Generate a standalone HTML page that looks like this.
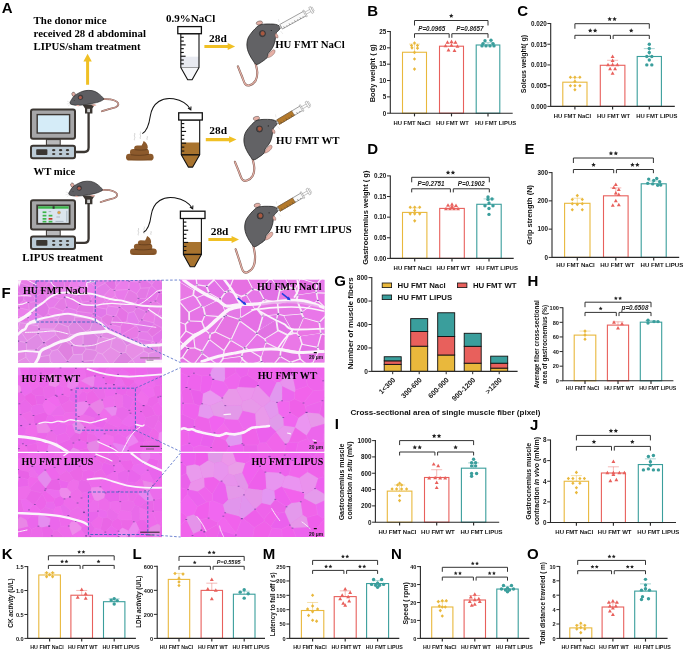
<!DOCTYPE html>
<html><head><meta charset="utf-8"><title>Figure</title>
<style>html,body{margin:0;padding:0;background:#fff;}body{width:685px;height:652px;overflow:hidden;}svg{display:block;will-change:transform;}text{font-family:"Liberation Sans",sans-serif;}</style>
</head><body>
<svg width="685" height="652" viewBox="0 0 685 652">
<rect width="685" height="652" fill="#fff"/>
<text x="1.83" y="12.90" text-anchor="start" style="font-family:'Liberation Sans', sans-serif;font-size:15.0px;font-weight:bold;" fill="#000">A</text>
<text x="33.60" y="24.00" text-anchor="start" style="font-family:'Liberation Serif', serif;font-size:10.85px;font-weight:bold;" fill="#000" textLength="72.9" lengthAdjust="spacingAndGlyphs">The donor mice</text>
<text x="33.60" y="37.20" text-anchor="start" style="font-family:'Liberation Serif', serif;font-size:10.85px;font-weight:bold;" fill="#000" textLength="112.3" lengthAdjust="spacingAndGlyphs">received 28 d abdominal</text>
<text x="33.60" y="50.40" text-anchor="start" style="font-family:'Liberation Serif', serif;font-size:10.85px;font-weight:bold;" fill="#000" textLength="107.1" lengthAdjust="spacingAndGlyphs">LIPUS/sham treatment</text>
<path d="M86.1 84.8V61.6H83.4L87.6 53.8L91.8 61.6H89.1V84.8Z" fill="#f0c024"/>
<g transform="translate(0 0.00)">
<path d="M76 152H84.2Q88.6 152 88.6 147.6V112" stroke="#3b3632" stroke-width="2.3" fill="none"/>
<path d="M82.4 104.6H94.8L92.4 108.4V113.4H85V108.4Z" fill="#3b3632"/>
<rect x="87.2" y="108.8" width="2.8" height="3.4" fill="#c9c9c9"/>
<rect x="31" y="109.4" width="44" height="29.4" rx="2" fill="#a6a6a8" stroke="#3b3632" stroke-width="2"/>
<rect x="37.2" y="114.6" width="32.4" height="18.4" fill="#d5ecf8" stroke="#3b3632" stroke-width="1.4"/>
<rect x="46.4" y="139.6" width="13.8" height="5.6" fill="#b8b8ba" stroke="#3b3632" stroke-width="1"/>
<rect x="31" y="145.8" width="44" height="12.4" rx="2" fill="#bccbd6" stroke="#3b3632" stroke-width="2"/>
<rect x="36.2" y="149.2" width="11.2" height="5.8" rx="0.8" fill="#3b3632"/>
<ellipse cx="53.7" cy="150.2" rx="1.7" ry="1.1" fill="#3b3632"/>
<ellipse cx="53.7" cy="154.0" rx="1.7" ry="1.1" fill="#3b3632"/>
<ellipse cx="60.6" cy="150.2" rx="1.7" ry="1.1" fill="#3b3632"/>
<ellipse cx="60.6" cy="154.0" rx="1.7" ry="1.1" fill="#3b3632"/>
<ellipse cx="67.5" cy="150.2" rx="1.7" ry="1.1" fill="#3b3632"/>
<ellipse cx="67.5" cy="154.0" rx="1.7" ry="1.1" fill="#3b3632"/>
</g>
<g transform="translate(0.00 0.00)">
<path d="M102.50 99.20C103.83 99.23 108.13 99.00 110.50 99.40C112.87 99.80 115.38 100.75 116.70 101.60C118.02 102.45 118.55 103.57 118.40 104.50C118.25 105.43 117.40 106.43 115.80 107.20C114.20 107.97 111.13 108.42 108.80 109.10C106.47 109.78 102.97 110.93 101.80 111.30" stroke="#7a5a52" stroke-width="1.7" fill="none" stroke-linecap="round"/>
<path d="M102.50 99.20C103.83 99.23 108.13 99.00 110.50 99.40C112.87 99.80 115.38 100.75 116.70 101.60C118.02 102.45 118.55 103.57 118.40 104.50C118.25 105.43 117.40 106.43 115.80 107.20C114.20 107.97 111.13 108.42 108.80 109.10C106.47 109.78 102.97 110.93 101.80 111.30" stroke="#e6b0a6" stroke-width="0.9" fill="none" stroke-linecap="round"/>
<ellipse cx="73.6" cy="94.3" rx="1.7" ry="2.2" transform="rotate(-20 73.6 94.3)" fill="#e6b0a6" stroke="#222" stroke-width="0.4"/>
<path d="M70.00 103.40C69.43 102.45 70.93 100.70 71.60 99.50C72.27 98.30 72.93 97.22 74.00 96.20C75.07 95.18 76.28 94.30 78.00 93.40C79.72 92.50 81.95 91.27 84.30 90.80C86.65 90.33 89.77 90.17 92.10 90.60C94.43 91.03 96.38 92.07 98.30 93.40C100.22 94.73 103.07 97.37 103.60 98.60C104.13 99.83 102.68 100.13 101.50 100.80C100.32 101.47 98.42 102.08 96.50 102.60C94.58 103.12 92.33 103.50 90.00 103.90C87.67 104.30 85.00 104.78 82.50 105.00C80.00 105.22 77.08 105.47 75.00 105.20C72.92 104.93 70.57 104.35 70.00 103.40Z" fill="#5e5e62" stroke="#1e1e1e" stroke-width="0.6"/>
<circle cx="80.5" cy="97.3" r="2.3" fill="#4a4446" stroke="#222" stroke-width="0.4"/>
<circle cx="80.3" cy="97.5" r="1.5" fill="#b25c4c"/>
<circle cx="74.2" cy="100.6" r="0.45" fill="#222"/>
<path d="M91 104.8C93 104 95.5 104 96.5 105.2C95 106.2 92.5 106.2 91 104.8Z" fill="#e6b0a6"/>
<path d="M76 105.3C77.5 104.8 79.2 105 79.6 106C78.5 106.6 76.8 106.4 76 105.3Z" fill="#e6b0a6"/>
<path d="M69.5 102l-2.5-.8M69.6 103.4l-2.8.6M70 104.5l-2 1.6" stroke="#cfcfcf" stroke-width="0.4"/>
</g>
<g transform="translate(0 90.80)">
<path d="M76 152H84.2Q88.6 152 88.6 147.6V112" stroke="#3b3632" stroke-width="2.3" fill="none"/>
<path d="M82.4 104.6H94.8L92.4 108.4V113.4H85V108.4Z" fill="#3b3632"/>
<rect x="87.2" y="108.8" width="2.8" height="3.4" fill="#c9c9c9"/>
<rect x="31" y="109.4" width="44" height="29.4" rx="2" fill="#a6a6a8" stroke="#3b3632" stroke-width="2"/>
<rect x="37.2" y="114.6" width="32.4" height="18.4" fill="#dbe5ee" stroke="#3b3632" stroke-width="1.8"/>
<rect x="38.1" y="115.5" width="30.6" height="2.4" fill="#3db54a"/>
<rect x="52.6" y="115.5" width="2.0" height="2.4" fill="#333"/>
<rect x="42.6" y="120.6" width="3.8" height="1.7" fill="#3db54a"/>
<rect x="42.6" y="124.0" width="3.8" height="1.7" fill="#3db54a"/>
<rect x="42.6" y="127.2" width="3.8" height="1.7" fill="#3db54a"/>
<rect x="42.6" y="130.0" width="3.8" height="1.7" fill="#3db54a"/>
<rect x="48.6" y="124.0" width="3.8" height="1.7" fill="#3db54a"/>
<rect x="48.6" y="127.2" width="3.8" height="1.7" fill="#c0392b"/>
<rect x="48.6" y="130.0" width="3.8" height="1.7" fill="#3db54a"/>
<circle cx="59.0" cy="121.8" r="1.5" fill="#e8a23a" stroke="#9a9a9a" stroke-width="0.5"/>
<path d="M48.6 120.8h2.6M56.4 126.2h3.6M55.5 130.6h8M66.8 120v11" stroke="#7a8a95" stroke-width="0.5"/>
<rect x="46.4" y="139.6" width="13.8" height="5.6" fill="#b8b8ba" stroke="#3b3632" stroke-width="1"/>
<rect x="31" y="145.8" width="44" height="12.4" rx="2" fill="#bccbd6" stroke="#3b3632" stroke-width="2"/>
<rect x="36.2" y="149.2" width="11.2" height="5.8" rx="0.8" fill="#3b3632"/>
<ellipse cx="53.7" cy="150.2" rx="1.7" ry="1.1" fill="#3b3632"/>
<ellipse cx="53.7" cy="154.0" rx="1.7" ry="1.1" fill="#3b3632"/>
<ellipse cx="60.6" cy="150.2" rx="1.7" ry="1.1" fill="#3b3632"/>
<ellipse cx="60.6" cy="154.0" rx="1.7" ry="1.1" fill="#3b3632"/>
<ellipse cx="67.5" cy="150.2" rx="1.7" ry="1.1" fill="#3b3632"/>
<ellipse cx="67.5" cy="154.0" rx="1.7" ry="1.1" fill="#3b3632"/>
</g>
<g transform="translate(-1.20 90.80)">
<path d="M102.50 99.20C103.83 99.23 108.13 99.00 110.50 99.40C112.87 99.80 115.38 100.75 116.70 101.60C118.02 102.45 118.55 103.57 118.40 104.50C118.25 105.43 117.40 106.43 115.80 107.20C114.20 107.97 111.13 108.42 108.80 109.10C106.47 109.78 102.97 110.93 101.80 111.30" stroke="#7a5a52" stroke-width="1.7" fill="none" stroke-linecap="round"/>
<path d="M102.50 99.20C103.83 99.23 108.13 99.00 110.50 99.40C112.87 99.80 115.38 100.75 116.70 101.60C118.02 102.45 118.55 103.57 118.40 104.50C118.25 105.43 117.40 106.43 115.80 107.20C114.20 107.97 111.13 108.42 108.80 109.10C106.47 109.78 102.97 110.93 101.80 111.30" stroke="#e6b0a6" stroke-width="0.9" fill="none" stroke-linecap="round"/>
<ellipse cx="73.6" cy="94.3" rx="1.7" ry="2.2" transform="rotate(-20 73.6 94.3)" fill="#e6b0a6" stroke="#222" stroke-width="0.4"/>
<path d="M70.00 103.40C69.43 102.45 70.93 100.70 71.60 99.50C72.27 98.30 72.93 97.22 74.00 96.20C75.07 95.18 76.28 94.30 78.00 93.40C79.72 92.50 81.95 91.27 84.30 90.80C86.65 90.33 89.77 90.17 92.10 90.60C94.43 91.03 96.38 92.07 98.30 93.40C100.22 94.73 103.07 97.37 103.60 98.60C104.13 99.83 102.68 100.13 101.50 100.80C100.32 101.47 98.42 102.08 96.50 102.60C94.58 103.12 92.33 103.50 90.00 103.90C87.67 104.30 85.00 104.78 82.50 105.00C80.00 105.22 77.08 105.47 75.00 105.20C72.92 104.93 70.57 104.35 70.00 103.40Z" fill="#5e5e62" stroke="#1e1e1e" stroke-width="0.6"/>
<circle cx="80.5" cy="97.3" r="2.3" fill="#4a4446" stroke="#222" stroke-width="0.4"/>
<circle cx="80.3" cy="97.5" r="1.5" fill="#b25c4c"/>
<circle cx="74.2" cy="100.6" r="0.45" fill="#222"/>
<path d="M91 104.8C93 104 95.5 104 96.5 105.2C95 106.2 92.5 106.2 91 104.8Z" fill="#e6b0a6"/>
<path d="M76 105.3C77.5 104.8 79.2 105 79.6 106C78.5 106.6 76.8 106.4 76 105.3Z" fill="#e6b0a6"/>
<path d="M69.5 102l-2.5-.8M69.6 103.4l-2.8.6M70 104.5l-2 1.6" stroke="#cfcfcf" stroke-width="0.4"/>
</g>
<text x="33.50" y="175.30" text-anchor="start" style="font-family:'Liberation Serif', serif;font-size:10.85px;font-weight:bold;" fill="#000" textLength="41.7" lengthAdjust="spacingAndGlyphs">WT mice</text>
<text x="22.30" y="261.30" text-anchor="start" style="font-family:'Liberation Serif', serif;font-size:10.85px;font-weight:bold;" fill="#000" textLength="80.5" lengthAdjust="spacingAndGlyphs">LIPUS treatment</text>
<text x="166.10" y="21.60" text-anchor="start" style="font-family:'Liberation Serif', serif;font-size:10.85px;font-weight:bold;" fill="#000" textLength="49.1" lengthAdjust="spacingAndGlyphs">0.9%NaCl</text>
<path d="M180.8 33.7V67.5L187.70 79.80H192.10L199.0 67.5V33.7Z" fill="#fff"/>
<rect x="180.8" y="56.7" width="18.20" height="10.80" fill="#e8eaf1"/>
<path d="M180.8 67.5L187.70 79.80H192.10L199.0 67.5Z" fill="#f6f7fa"/>
<path d="M180.8 33.7V67.5L187.70 79.80H192.10L199.0 67.5V33.7Z" fill="none" stroke="#111" stroke-width="1.1" stroke-linejoin="round"/>
<path d="M180.8 67.5H199.0" stroke="#111" stroke-width="0.4"/>
<path d="M180.8 37.30h3.0" stroke="#111" stroke-width="1.15"/>
<path d="M180.8 41.09h3.0" stroke="#111" stroke-width="1.15"/>
<path d="M180.8 44.88h4.8" stroke="#111" stroke-width="1.15"/>
<path d="M180.8 48.67h3.0" stroke="#111" stroke-width="1.15"/>
<path d="M180.8 52.46h3.0" stroke="#111" stroke-width="1.15"/>
<path d="M180.8 56.25h4.8" stroke="#111" stroke-width="1.15"/>
<path d="M180.8 60.04h3.0" stroke="#111" stroke-width="1.15"/>
<path d="M180.8 63.83h3.0" stroke="#111" stroke-width="1.15"/>
<rect x="177.8" y="26.6" width="23.60" height="7.10" fill="#fff" stroke="#111" stroke-width="1.3"/>
<path d="M181.3 120.0V154.8L188.30 167.10H192.70L199.7 154.8V120.0Z" fill="#fff"/>
<path d="M181.3 142.5V154.8L188.30 167.10H192.70L199.7 154.8V142.5Z" fill="#a8732e"/>
<path d="M181.3 120.0V154.8L188.30 167.10H192.70L199.7 154.8V120.0Z" fill="none" stroke="#111" stroke-width="1.1" stroke-linejoin="round"/>
<path d="M181.3 154.8H199.7" stroke="#111" stroke-width="1.4"/>
<path d="M181.3 123.60h3.0" stroke="#111" stroke-width="1.15"/>
<path d="M181.3 127.52h3.0" stroke="#111" stroke-width="1.15"/>
<path d="M181.3 131.44h4.8" stroke="#111" stroke-width="1.15"/>
<path d="M181.3 135.36h3.0" stroke="#111" stroke-width="1.15"/>
<path d="M181.3 139.28h3.0" stroke="#111" stroke-width="1.15"/>
<path d="M181.3 143.21h4.8" stroke="#111" stroke-width="1.15"/>
<path d="M181.3 147.13h3.0" stroke="#111" stroke-width="1.15"/>
<path d="M181.3 151.05h3.0" stroke="#111" stroke-width="1.15"/>
<rect x="178.7" y="112.8" width="23.60" height="7.20" fill="#fff" stroke="#111" stroke-width="1.3"/>
<path d="M183.4 218.5V254.4L190.20 266.70H194.60L201.4 254.4V218.5Z" fill="#fff"/>
<path d="M183.4 242.0V254.4L190.20 266.70H194.60L201.4 254.4V242.0Z" fill="#a8732e"/>
<path d="M183.4 218.5V254.4L190.20 266.70H194.60L201.4 254.4V218.5Z" fill="none" stroke="#111" stroke-width="1.1" stroke-linejoin="round"/>
<path d="M183.4 254.4H201.4" stroke="#111" stroke-width="1.4"/>
<path d="M183.4 222.10h3.0" stroke="#111" stroke-width="1.15"/>
<path d="M183.4 226.17h3.0" stroke="#111" stroke-width="1.15"/>
<path d="M183.4 230.23h4.8" stroke="#111" stroke-width="1.15"/>
<path d="M183.4 234.30h3.0" stroke="#111" stroke-width="1.15"/>
<path d="M183.4 238.36h3.0" stroke="#111" stroke-width="1.15"/>
<path d="M183.4 242.43h4.8" stroke="#111" stroke-width="1.15"/>
<path d="M183.4 246.49h3.0" stroke="#111" stroke-width="1.15"/>
<path d="M183.4 250.56h3.0" stroke="#111" stroke-width="1.15"/>
<rect x="180.4" y="211.2" width="24.60" height="7.30" fill="#fff" stroke="#111" stroke-width="1.3"/>
<g transform="translate(126.0 141.0) scale(1.0)">
<path d="M15.6 4.6C16.6 3 17.2 1.4 17.6 0C19.8 1 21.8 3.4 21.8 6.2C21.8 7.8 20.6 8.9 18.6 8.9H10.4C8.6 8.9 7.9 7.6 8.2 6.4C8.5 5.2 9.6 4.4 11 4.4Z" fill="#8c5a2c"/>
<rect x="4.0" y="7.9" width="19.0" height="6.5" rx="3.2" fill="#8c5a2c"/>
<rect x="0" y="12.8" width="27.6" height="6.8" rx="3.4" fill="#8c5a2c"/>
<path d="M9.2 8.7C13 9.3 18 9.3 21.4 8.5M5.2 13.8C10 14.6 17.5 14.6 22.6 13.4" stroke="#5e3a1a" stroke-width="0.8" fill="none" stroke-linecap="round"/>
<path d="M1.5 17.8C8 19.4 20 19.4 26.2 17.6" stroke="#6e4622" stroke-width="0.5" fill="none"/>
</g>
<path d="M134.6 140.3c-1 -1.4 1 -2.4 0 -3.6s1 -2.4 0 -3.6M140.4 138.8c-1 -1.4 1 -2.4 0 -3.6s1 -2.4 0 -3.6M147.2 139.8c-1 -1.4 1 -2.4 0 -3.6" stroke="#c8c8c8" stroke-width="0.8" fill="none"/>
<g transform="translate(130.0 236.0) scale(0.97)">
<path d="M15.6 4.6C16.6 3 17.2 1.4 17.6 0C19.8 1 21.8 3.4 21.8 6.2C21.8 7.8 20.6 8.9 18.6 8.9H10.4C8.6 8.9 7.9 7.6 8.2 6.4C8.5 5.2 9.6 4.4 11 4.4Z" fill="#8c5a2c"/>
<rect x="4.0" y="7.9" width="19.0" height="6.5" rx="3.2" fill="#8c5a2c"/>
<rect x="0" y="12.8" width="27.6" height="6.8" rx="3.4" fill="#8c5a2c"/>
<path d="M9.2 8.7C13 9.3 18 9.3 21.4 8.5M5.2 13.8C10 14.6 17.5 14.6 22.6 13.4" stroke="#5e3a1a" stroke-width="0.8" fill="none" stroke-linecap="round"/>
<path d="M1.5 17.8C8 19.4 20 19.4 26.2 17.6" stroke="#6e4622" stroke-width="0.5" fill="none"/>
</g>
<path d="M138.4 235.3c-1 -1.4 1 -2.4 0 -3.6s1 -2.4 0 -3.6M144.20000000000002 233.8c-1 -1.4 1 -2.4 0 -3.6s1 -2.4 0 -3.6M151.0 234.8c-1 -1.4 1 -2.4 0 -3.6" stroke="#c8c8c8" stroke-width="0.8" fill="none"/>
<path d="M142.3 133.6C146.5 131.5 149 125 150.3 116C152.5 102 163 97 173.5 98.8C182 100.3 187.6 104 190.8 109.8" stroke="#111" stroke-width="1.05" fill="none"/><path d="M187.95 108.13L190.8 109.8L190.99 106.51" stroke="#111" stroke-width="1.05" fill="none"/>
<path d="M143.4 232.4C147.6 230.3 150 224 151.2 215C153.4 201 164 196 174.6 197.8C183.4 199.3 189.4 203 192.7 208.8" stroke="#111" stroke-width="1.05" fill="none"/><path d="M189.85 207.13L192.7 208.8L192.89 205.51" stroke="#111" stroke-width="1.05" fill="none"/>
<text x="209.00" y="41.80" text-anchor="start" style="font-family:'Liberation Serif', serif;font-size:11.4px;font-weight:bold;" fill="#000">28d</text>
<text x="209.30" y="134.10" text-anchor="start" style="font-family:'Liberation Serif', serif;font-size:11.4px;font-weight:bold;" fill="#000">28d</text>
<text x="210.70" y="235.30" text-anchor="start" style="font-family:'Liberation Serif', serif;font-size:11.4px;font-weight:bold;" fill="#000">28d</text>
<path d="M204.4 44.9H227.7V43.1L235.1 46.5L227.7 49.9V48.1H204.4Z" fill="#f0c024"/>
<path d="M205.8 138.0H229.1V136.2L236.5 139.6L229.1 143.0V141.2H205.8Z" fill="#f0c024"/>
<path d="M208.4 237.9H231.6V236.1L239.0 239.5L231.6 242.9V241.1H208.4Z" fill="#f0c024"/>
<g transform="translate(0.00 0.00)">
<path d="M255.60 63.50C255.88 65.00 257.30 69.65 257.30 72.50C257.30 75.35 256.85 78.48 255.60 80.60C254.35 82.72 251.53 84.63 249.80 85.20C248.07 85.77 246.53 85.53 245.20 84.00C243.87 82.47 243.02 78.93 241.80 76.00C240.58 73.07 238.55 68.00 237.90 66.40" stroke="#7a5a52" stroke-width="2.1" fill="none" stroke-linecap="round"/>
<path d="M255.60 63.50C255.88 65.00 257.30 69.65 257.30 72.50C257.30 75.35 256.85 78.48 255.60 80.60C254.35 82.72 251.53 84.63 249.80 85.20C248.07 85.77 246.53 85.53 245.20 84.00C243.87 82.47 243.02 78.93 241.80 76.00C240.58 73.07 238.55 68.00 237.90 66.40" stroke="#e6b0a6" stroke-width="1.2" fill="none" stroke-linecap="round"/>
<ellipse cx="259.4" cy="23.0" rx="3.2" ry="2.0" transform="rotate(-12 259.4 23.0)" fill="#e6b0a6" stroke="#333" stroke-width="0.4"/>
<path d="M259.00 25.40C260.43 24.63 261.68 24.43 263.60 24.20C265.52 23.97 268.48 23.97 270.50 24.00C272.52 24.03 274.25 24.08 275.70 24.40C277.15 24.72 278.47 25.27 279.20 25.90C279.93 26.53 280.20 27.43 280.10 28.20C280.00 28.97 279.20 29.78 278.60 30.50C278.00 31.22 276.98 31.73 276.50 32.50C276.02 33.27 275.93 33.80 275.70 35.10C275.47 36.40 275.48 38.47 275.10 40.30C274.72 42.13 274.17 44.37 273.40 46.10C272.63 47.83 271.37 49.47 270.50 50.70C269.63 51.93 268.77 52.35 268.20 53.50C267.63 54.65 267.97 56.35 267.10 57.60C266.23 58.85 264.73 59.85 263.00 61.00C261.27 62.15 258.32 64.50 256.70 64.50C255.08 64.50 254.45 62.53 253.30 61.00C252.15 59.47 250.77 57.22 249.80 55.30C248.83 53.38 247.98 51.42 247.50 49.50C247.02 47.58 246.80 45.72 246.90 43.80C247.00 41.88 247.42 39.73 248.10 38.00C248.78 36.27 249.85 34.93 251.00 33.40C252.15 31.87 253.67 30.13 255.00 28.80C256.33 27.47 257.57 26.17 259.00 25.40Z" fill="#626265" stroke="#1e1e1e" stroke-width="0.75"/>
<circle cx="262.4" cy="33.6" r="3.1" fill="#4c4648" stroke="#222" stroke-width="0.5"/>
<ellipse cx="262.7" cy="33.4" rx="1.9" ry="2.1" fill="#a8583f"/>
<circle cx="271.3" cy="30.5" r="0.6" fill="#222"/>
<path d="M275.2 33.6C277.2 33.6 278.4 35.6 277.9 37.9C276.6 38.4 275.4 37.4 275.1 35.9Z" fill="#e6b0a6" stroke="#6a4a44" stroke-width="0.4"/>
<path d="M267.4 57.8C268.4 54 270.8 51 273.2 49.8C275.4 49.4 275.6 51.6 274.2 53.6C272.6 55.8 270.2 57.4 267.4 57.8Z" fill="#e6b0a6" stroke="#6a4a44" stroke-width="0.4"/>
<path d="M281 24.5l2.5-2.5M281.5 27.5l3 .5M280.5 31l2.5 3M279 22l-.5-3" stroke="#d6d6d6" stroke-width="0.5"/>
<g transform="translate(280.6 27.0) rotate(-29.0)">
<rect x="0.5" y="-2.6" width="27.5" height="5.2" fill="#fafafa" stroke="#555" stroke-width="0.5"/>
<path d="M3.0 2.6v-1.6" stroke="#333" stroke-width="0.45"/>
<path d="M6.1 2.6v-1.0" stroke="#333" stroke-width="0.45"/>
<path d="M9.2 2.6v-1.6" stroke="#333" stroke-width="0.45"/>
<path d="M12.3 2.6v-1.0" stroke="#333" stroke-width="0.45"/>
<path d="M15.4 2.6v-1.6" stroke="#333" stroke-width="0.45"/>
<path d="M18.5 2.6v-1.0" stroke="#333" stroke-width="0.45"/>
<path d="M21.6 2.6v-1.6" stroke="#333" stroke-width="0.45"/>
<path d="M24.7 2.6v-1.0" stroke="#333" stroke-width="0.45"/>
<rect x="-1" y="-1" width="1.6" height="2" fill="#ccc" stroke="#777" stroke-width="0.3"/>
<path d="M28 -1.2H34.5M28 1.2H34.5" stroke="#777" stroke-width="0.4"/>
<rect x="27.3" y="-3.6" width="1.3" height="7.2" fill="#fff" stroke="#777" stroke-width="0.4"/>
<rect x="34" y="-3.4" width="2.0" height="6.8" fill="#fff" stroke="#777" stroke-width="0.4"/>
<rect x="36" y="-2.2" width="1.3" height="4.4" fill="#fff" stroke="#888" stroke-width="0.4"/>
</g>
</g>
<g transform="translate(-3.00 95.40)">
<path d="M255.60 63.50C255.88 65.00 257.30 69.65 257.30 72.50C257.30 75.35 256.85 78.48 255.60 80.60C254.35 82.72 251.53 84.63 249.80 85.20C248.07 85.77 246.53 85.53 245.20 84.00C243.87 82.47 243.02 78.93 241.80 76.00C240.58 73.07 238.55 68.00 237.90 66.40" stroke="#7a5a52" stroke-width="2.1" fill="none" stroke-linecap="round"/>
<path d="M255.60 63.50C255.88 65.00 257.30 69.65 257.30 72.50C257.30 75.35 256.85 78.48 255.60 80.60C254.35 82.72 251.53 84.63 249.80 85.20C248.07 85.77 246.53 85.53 245.20 84.00C243.87 82.47 243.02 78.93 241.80 76.00C240.58 73.07 238.55 68.00 237.90 66.40" stroke="#e6b0a6" stroke-width="1.2" fill="none" stroke-linecap="round"/>
<ellipse cx="259.4" cy="23.0" rx="3.2" ry="2.0" transform="rotate(-12 259.4 23.0)" fill="#e6b0a6" stroke="#333" stroke-width="0.4"/>
<path d="M259.00 25.40C260.43 24.63 261.68 24.43 263.60 24.20C265.52 23.97 268.48 23.97 270.50 24.00C272.52 24.03 274.25 24.08 275.70 24.40C277.15 24.72 278.47 25.27 279.20 25.90C279.93 26.53 280.20 27.43 280.10 28.20C280.00 28.97 279.20 29.78 278.60 30.50C278.00 31.22 276.98 31.73 276.50 32.50C276.02 33.27 275.93 33.80 275.70 35.10C275.47 36.40 275.48 38.47 275.10 40.30C274.72 42.13 274.17 44.37 273.40 46.10C272.63 47.83 271.37 49.47 270.50 50.70C269.63 51.93 268.77 52.35 268.20 53.50C267.63 54.65 267.97 56.35 267.10 57.60C266.23 58.85 264.73 59.85 263.00 61.00C261.27 62.15 258.32 64.50 256.70 64.50C255.08 64.50 254.45 62.53 253.30 61.00C252.15 59.47 250.77 57.22 249.80 55.30C248.83 53.38 247.98 51.42 247.50 49.50C247.02 47.58 246.80 45.72 246.90 43.80C247.00 41.88 247.42 39.73 248.10 38.00C248.78 36.27 249.85 34.93 251.00 33.40C252.15 31.87 253.67 30.13 255.00 28.80C256.33 27.47 257.57 26.17 259.00 25.40Z" fill="#626265" stroke="#1e1e1e" stroke-width="0.75"/>
<circle cx="262.4" cy="33.6" r="3.1" fill="#4c4648" stroke="#222" stroke-width="0.5"/>
<ellipse cx="262.7" cy="33.4" rx="1.9" ry="2.1" fill="#a8583f"/>
<circle cx="271.3" cy="30.5" r="0.6" fill="#222"/>
<path d="M275.2 33.6C277.2 33.6 278.4 35.6 277.9 37.9C276.6 38.4 275.4 37.4 275.1 35.9Z" fill="#e6b0a6" stroke="#6a4a44" stroke-width="0.4"/>
<path d="M267.4 57.8C268.4 54 270.8 51 273.2 49.8C275.4 49.4 275.6 51.6 274.2 53.6C272.6 55.8 270.2 57.4 267.4 57.8Z" fill="#e6b0a6" stroke="#6a4a44" stroke-width="0.4"/>
<path d="M281 24.5l2.5-2.5M281.5 27.5l3 .5M280.5 31l2.5 3M279 22l-.5-3" stroke="#d6d6d6" stroke-width="0.5"/>
<g transform="translate(280.6 27.0) rotate(-30.8)">
<rect x="0.5" y="-2.6" width="27.5" height="5.2" fill="#fafafa" stroke="#555" stroke-width="0.5"/>
<rect x="0.5" y="-2.6" width="17.5" height="5.2" fill="#b47a2c" stroke="#6a4820" stroke-width="0.5"/>
<path d="M3.0 2.6v-1.6" stroke="#333" stroke-width="0.45"/>
<path d="M6.1 2.6v-1.0" stroke="#333" stroke-width="0.45"/>
<path d="M9.2 2.6v-1.6" stroke="#333" stroke-width="0.45"/>
<path d="M12.3 2.6v-1.0" stroke="#333" stroke-width="0.45"/>
<path d="M15.4 2.6v-1.6" stroke="#333" stroke-width="0.45"/>
<path d="M18.5 2.6v-1.0" stroke="#333" stroke-width="0.45"/>
<path d="M21.6 2.6v-1.6" stroke="#333" stroke-width="0.45"/>
<path d="M24.7 2.6v-1.0" stroke="#333" stroke-width="0.45"/>
<rect x="-1" y="-1" width="1.6" height="2" fill="#ccc" stroke="#777" stroke-width="0.3"/>
<path d="M28 -1.2H34.5M28 1.2H34.5" stroke="#777" stroke-width="0.4"/>
<rect x="27.3" y="-3.6" width="1.3" height="7.2" fill="#fff" stroke="#777" stroke-width="0.4"/>
<rect x="34" y="-3.4" width="2.0" height="6.8" fill="#fff" stroke="#777" stroke-width="0.4"/>
<rect x="36" y="-2.2" width="1.3" height="4.4" fill="#fff" stroke="#888" stroke-width="0.4"/>
</g>
</g>
<g transform="translate(-2.20 182.30)">
<path d="M255.60 63.50C255.88 65.33 257.30 71.00 257.30 74.48C257.30 77.96 256.85 81.78 255.60 84.36C254.35 86.94 251.53 89.28 249.80 89.97C248.07 90.67 246.53 90.38 245.20 88.51C243.87 86.64 243.02 82.33 241.80 78.75C240.58 75.17 238.55 68.99 237.90 67.04" stroke="#7a5a52" stroke-width="2.1" fill="none" stroke-linecap="round"/>
<path d="M255.60 63.50C255.88 65.33 257.30 71.00 257.30 74.48C257.30 77.96 256.85 81.78 255.60 84.36C254.35 86.94 251.53 89.28 249.80 89.97C248.07 90.67 246.53 90.38 245.20 88.51C243.87 86.64 243.02 82.33 241.80 78.75C240.58 75.17 238.55 68.99 237.90 67.04" stroke="#e6b0a6" stroke-width="1.2" fill="none" stroke-linecap="round"/>
<ellipse cx="259.4" cy="23.0" rx="3.2" ry="2.0" transform="rotate(-12 259.4 23.0)" fill="#e6b0a6" stroke="#333" stroke-width="0.4"/>
<path d="M259.00 25.40C260.43 24.63 261.68 24.43 263.60 24.20C265.52 23.97 268.48 23.97 270.50 24.00C272.52 24.03 274.25 24.08 275.70 24.40C277.15 24.72 278.47 25.27 279.20 25.90C279.93 26.53 280.20 27.43 280.10 28.20C280.00 28.97 279.20 29.78 278.60 30.50C278.00 31.22 276.98 31.73 276.50 32.50C276.02 33.27 275.93 33.80 275.70 35.10C275.47 36.40 275.48 38.47 275.10 40.30C274.72 42.13 274.17 44.37 273.40 46.10C272.63 47.83 271.37 49.47 270.50 50.70C269.63 51.93 268.77 52.35 268.20 53.50C267.63 54.65 267.97 56.35 267.10 57.60C266.23 58.85 264.73 59.85 263.00 61.00C261.27 62.15 258.32 64.50 256.70 64.50C255.08 64.50 254.45 62.53 253.30 61.00C252.15 59.47 250.77 57.22 249.80 55.30C248.83 53.38 247.98 51.42 247.50 49.50C247.02 47.58 246.80 45.72 246.90 43.80C247.00 41.88 247.42 39.73 248.10 38.00C248.78 36.27 249.85 34.93 251.00 33.40C252.15 31.87 253.67 30.13 255.00 28.80C256.33 27.47 257.57 26.17 259.00 25.40Z" fill="#626265" stroke="#1e1e1e" stroke-width="0.75"/>
<circle cx="262.4" cy="33.6" r="3.1" fill="#4c4648" stroke="#222" stroke-width="0.5"/>
<ellipse cx="262.7" cy="33.4" rx="1.9" ry="2.1" fill="#a8583f"/>
<circle cx="271.3" cy="30.5" r="0.6" fill="#222"/>
<path d="M275.2 33.6C277.2 33.6 278.4 35.6 277.9 37.9C276.6 38.4 275.4 37.4 275.1 35.9Z" fill="#e6b0a6" stroke="#6a4a44" stroke-width="0.4"/>
<path d="M267.4 57.8C268.4 54 270.8 51 273.2 49.8C275.4 49.4 275.6 51.6 274.2 53.6C272.6 55.8 270.2 57.4 267.4 57.8Z" fill="#e6b0a6" stroke="#6a4a44" stroke-width="0.4"/>
<path d="M281 24.5l2.5-2.5M281.5 27.5l3 .5M280.5 31l2.5 3M279 22l-.5-3" stroke="#d6d6d6" stroke-width="0.5"/>
<g transform="translate(280.6 27.0) rotate(-30.5)">
<rect x="0.5" y="-2.6" width="27.5" height="5.2" fill="#fafafa" stroke="#555" stroke-width="0.5"/>
<rect x="0.5" y="-2.6" width="17.5" height="5.2" fill="#b47a2c" stroke="#6a4820" stroke-width="0.5"/>
<path d="M3.0 2.6v-1.6" stroke="#333" stroke-width="0.45"/>
<path d="M6.1 2.6v-1.0" stroke="#333" stroke-width="0.45"/>
<path d="M9.2 2.6v-1.6" stroke="#333" stroke-width="0.45"/>
<path d="M12.3 2.6v-1.0" stroke="#333" stroke-width="0.45"/>
<path d="M15.4 2.6v-1.6" stroke="#333" stroke-width="0.45"/>
<path d="M18.5 2.6v-1.0" stroke="#333" stroke-width="0.45"/>
<path d="M21.6 2.6v-1.6" stroke="#333" stroke-width="0.45"/>
<path d="M24.7 2.6v-1.0" stroke="#333" stroke-width="0.45"/>
<rect x="-1" y="-1" width="1.6" height="2" fill="#ccc" stroke="#777" stroke-width="0.3"/>
<path d="M28 -1.2H34.5M28 1.2H34.5" stroke="#777" stroke-width="0.4"/>
<rect x="27.3" y="-3.6" width="1.3" height="7.2" fill="#fff" stroke="#777" stroke-width="0.4"/>
<rect x="34" y="-3.4" width="2.0" height="6.8" fill="#fff" stroke="#777" stroke-width="0.4"/>
<rect x="36" y="-2.2" width="1.3" height="4.4" fill="#fff" stroke="#888" stroke-width="0.4"/>
</g>
</g>
<text x="275.20" y="47.70" text-anchor="start" style="font-family:'Liberation Serif', serif;font-size:10.85px;font-weight:bold;" fill="#000" textLength="69.5" lengthAdjust="spacingAndGlyphs">HU FMT NaCl</text>
<text x="276.00" y="143.50" text-anchor="start" style="font-family:'Liberation Serif', serif;font-size:10.85px;font-weight:bold;" fill="#000" textLength="63.5" lengthAdjust="spacingAndGlyphs">HU FMT WT</text>
<text x="275.20" y="232.50" text-anchor="start" style="font-family:'Liberation Serif', serif;font-size:10.85px;font-weight:bold;" fill="#000" textLength="76.5" lengthAdjust="spacingAndGlyphs">HU FMT LIPUS</text>
<clipPath id="clipF0"><rect x="18.0" y="280.2" width="144.00" height="82.80"/></clipPath><g clip-path="url(#clipF0)"><rect x="18.0" y="280.2" width="144.00" height="82.80" fill="#e878e6"/><path d="M19.1 307.9L18.0 310.2L18.0 303.3L19.4 304.1Z" fill="#e473e3"/>
<path d="M25.0 327.8L18.0 321.3L18.0 333.5L24.5 330.6Z" fill="#ea7fe9"/>
<path d="M21.7 346.0L18.0 344.0L18.0 337.3L25.4 341.3L26.1 343.1Z" fill="#e97ee7"/>
<path d="M18.0 352.1L18.0 344.0L21.7 346.0L21.2 351.9Z" fill="#e474e3"/>
<path d="M25.2 362.3L18.0 361.3L18.0 352.1L21.2 351.9L28.0 356.7L27.5 359.5Z" fill="#e676e5"/>
<path d="M18.0 363.0L25.1 363.0L25.2 362.3L18.0 361.3Z" fill="#e87ee9"/>
<path d="M33.1 363.0L27.5 359.5L25.2 362.3L25.1 363.0Z" fill="#e576e2"/>
<path d="M18.0 280.2L18.0 287.9L21.0 283.2L19.8 280.2Z" fill="#e574e6"/>
<path d="M29.9 291.7L23.9 297.1L18.0 291.7L18.0 287.9L21.0 283.2L31.2 286.7Z" fill="#e278e5"/>
<path d="M23.9 297.1L18.0 291.7L18.0 303.3L19.4 304.1L23.7 300.0Z" fill="#e173e4"/>
<path d="M34.4 297.4L34.7 301.6L28.4 302.5L23.7 300.0L23.9 297.1L29.9 291.7Z" fill="#e379e8"/>
<path d="M23.7 300.0L19.4 304.1L19.1 307.9L29.3 310.1L28.4 302.5Z" fill="#e87de9"/>
<path d="M29.3 310.1L31.6 312.7L28.1 317.7L18.0 316.3L18.0 310.2L19.1 307.9Z" fill="#ea7fea"/>
<path d="M25.0 327.8L18.0 321.3L18.0 316.3L28.1 317.7L29.7 322.7Z" fill="#e576e6"/>
<path d="M37.9 334.9L28.5 333.9L24.5 330.6L25.0 327.8L29.7 322.7L38.1 325.9Z" fill="#e77eeb"/>
<path d="M24.5 330.6L18.0 333.5L18.0 337.3L25.4 341.3L28.5 333.9Z" fill="#e279e5"/>
<path d="M38.3 335.5L37.9 334.9L28.5 333.9L25.4 341.3L26.1 343.1L31.9 346.3L32.2 346.1Z" fill="#e477e7"/>
<path d="M21.2 351.9L21.7 346.0L26.1 343.1L31.9 346.3L28.4 356.2L28.0 356.7Z" fill="#e67be9"/>
<path d="M32.2 346.1L31.9 346.3L28.4 356.2L39.6 355.9L45.3 351.7Z" fill="#e275e4"/>
<path d="M38.9 363.0L33.1 363.0L27.5 359.5L28.0 356.7L28.4 356.2L39.6 355.9L39.4 362.3Z" fill="#e278e8"/>
<path d="M38.9 363.0L39.4 362.3L50.0 361.7L50.2 363.0Z" fill="#e375e8"/>
<path d="M31.2 286.7L21.0 283.2L19.8 280.2L35.7 280.2L34.1 285.0Z" fill="#e87ce6"/>
<path d="M44.8 280.2L48.2 282.2L41.3 290.3L34.1 285.0L35.7 280.2Z" fill="#e677e5"/>
<path d="M42.7 292.7L34.4 297.4L29.9 291.7L31.2 286.7L34.1 285.0L41.3 290.3Z" fill="#e676e5"/>
<path d="M42.7 292.7L47.1 296.4L45.8 302.2L37.3 303.7L34.7 301.6L34.4 297.4Z" fill="#e376e7"/>
<path d="M28.4 302.5L29.3 310.1L31.6 312.7L34.5 312.0L37.3 303.7L34.7 301.6Z" fill="#e57de6"/>
<path d="M34.5 312.0L43.8 317.7L47.8 313.7L49.1 308.2L45.8 302.2L37.3 303.7Z" fill="#e076e5"/>
<path d="M31.6 312.7L28.1 317.7L29.7 322.7L38.1 325.9L43.4 320.3L43.8 317.7L34.5 312.0Z" fill="#e881ee"/>
<path d="M52.8 328.6L43.4 320.3L43.8 317.7L47.8 313.7L58.8 319.1Z" fill="#e375e6"/>
<path d="M53.1 330.0L40.0 336.2L38.3 335.5L37.9 334.9L38.1 325.9L43.4 320.3L52.8 328.6Z" fill="#e377e6"/>
<path d="M53.1 330.0L40.0 336.2L47.7 344.7L57.4 334.4L57.4 334.4Z" fill="#e777e4"/>
<path d="M47.7 344.7L40.0 336.2L38.3 335.5L32.2 346.1L45.3 351.7L46.4 351.5L47.9 346.9Z" fill="#e578e5"/>
<path d="M60.0 346.8L57.5 356.3L50.6 357.6L46.4 351.5L47.9 346.9Z" fill="#e978e9"/>
<path d="M39.4 362.3L39.6 355.9L45.3 351.7L46.4 351.5L50.6 357.6L50.0 361.7Z" fill="#e778e7"/>
<path d="M65.5 363.0L66.3 360.9L65.7 359.4L57.5 356.3L50.6 357.6L50.0 361.7L50.2 363.0Z" fill="#e678e7"/>
<path d="M44.8 280.2L48.2 282.2L51.6 282.4L52.6 280.2Z" fill="#e47bea"/>
<path d="M52.6 280.2L63.3 280.2L64.1 280.6L64.7 289.2L53.9 287.1L51.6 282.4Z" fill="#e176e5"/>
<path d="M51.6 282.4L53.9 287.1L48.1 295.8L47.1 296.4L42.7 292.7L41.3 290.3L48.2 282.2Z" fill="#e677e7"/>
<path d="M48.1 295.8L60.5 298.8L64.6 297.7L64.9 297.0L65.0 289.6L64.7 289.2L53.9 287.1Z" fill="#e87fea"/>
<path d="M48.1 295.8L60.5 298.8L53.7 307.4L49.1 308.2L45.8 302.2L47.1 296.4Z" fill="#e77bea"/>
<path d="M66.9 307.3L64.6 297.7L60.5 298.8L53.7 307.4L63.2 311.0Z" fill="#e47be5"/>
<path d="M58.8 319.1L62.4 315.3L63.2 311.0L53.7 307.4L49.1 308.2L47.8 313.7L58.8 319.1Z" fill="#e97de9"/>
<path d="M58.8 319.1L62.4 315.3L72.8 321.1L69.8 328.1L66.6 328.3Z" fill="#e77fe8"/>
<path d="M53.1 330.0L57.4 334.4L66.6 328.3L58.8 319.1L58.8 319.1L52.8 328.6Z" fill="#ea7ce7"/>
<path d="M57.4 334.4L57.4 334.4L63.2 342.6L68.8 340.9L71.4 330.1L69.8 328.1L66.6 328.3Z" fill="#e980ea"/>
<path d="M63.2 342.6L62.5 345.1L60.0 346.8L47.9 346.9L47.7 344.7L57.4 334.4Z" fill="#e87ee7"/>
<path d="M63.2 342.6L62.5 345.1L67.9 352.6L74.1 350.2L74.8 345.0L74.0 343.2L68.8 340.9Z" fill="#e47ae9"/>
<path d="M62.5 345.1L67.9 352.6L65.7 359.4L57.5 356.3L60.0 346.8Z" fill="#e882ed"/>
<path d="M65.7 359.4L66.3 360.9L77.3 362.5L80.4 355.3L74.1 350.2L67.9 352.6Z" fill="#e477ea"/>
<path d="M65.5 363.0L66.3 360.9L77.3 362.5L77.6 363.0Z" fill="#e97cea"/>
<path d="M64.3 280.2L64.1 280.6L63.3 280.2Z" fill="#e375e7"/>
<path d="M71.6 280.2L68.2 288.6L65.0 289.6L64.7 289.2L64.1 280.6L64.3 280.2Z" fill="#e575e3"/>
<path d="M78.6 280.2L79.6 286.9L79.0 287.4L68.2 288.6L71.6 280.2Z" fill="#ec7feb"/>
<path d="M68.2 288.6L65.0 289.6L64.9 297.0L70.5 297.7L78.5 294.9L79.0 287.4Z" fill="#e87eea"/>
<path d="M78.5 294.9L82.2 302.3L79.8 304.5L70.5 297.7Z" fill="#e87eeb"/>
<path d="M76.5 310.3L79.8 304.5L70.5 297.7L64.9 297.0L64.6 297.7L66.9 307.3Z" fill="#e67be8"/>
<path d="M62.4 315.3L63.2 311.0L66.9 307.3L76.5 310.3L76.9 311.4L76.6 317.9L72.8 321.1Z" fill="#e57eec"/>
<path d="M76.9 311.4L93.4 313.4L93.6 313.9L87.0 324.3L76.6 317.9Z" fill="#e579e8"/>
<path d="M69.8 328.1L71.4 330.1L75.1 331.6L87.2 325.4L87.0 324.3L76.6 317.9L72.8 321.1Z" fill="#e87ced"/>
<path d="M87.4 338.3L88.9 328.0L87.2 325.4L75.1 331.6L78.7 336.9Z" fill="#e77ee8"/>
<path d="M68.8 340.9L74.0 343.2L78.7 336.9L75.1 331.6L71.4 330.1Z" fill="#e37ae6"/>
<path d="M87.8 345.0L74.8 345.0L74.0 343.2L78.7 336.9L87.4 338.3L89.2 341.8L88.1 344.8Z" fill="#e57be9"/>
<path d="M87.8 345.0L81.9 354.6L80.4 355.3L74.1 350.2L74.8 345.0Z" fill="#e77bea"/>
<path d="M87.8 345.0L81.9 354.6L91.5 359.8L95.8 355.4L88.1 344.8Z" fill="#ec81e9"/>
<path d="M81.9 354.6L80.4 355.3L77.3 362.5L77.6 363.0L91.1 363.0L91.2 363.0L91.5 359.8Z" fill="#e779eb"/>
<path d="M91.2 363.0L91.2 363.0L91.1 363.0Z" fill="#e880ed"/>
<path d="M88.9 280.2L91.0 282.2L92.0 280.2Z" fill="#e67aea"/>
<path d="M88.9 280.2L78.6 280.2L79.6 286.9L81.7 287.1L91.0 283.2L91.0 282.2Z" fill="#e880ed"/>
<path d="M81.7 287.1L91.7 298.0L95.4 294.5L96.4 287.9L91.0 283.2Z" fill="#ea7eed"/>
<path d="M79.6 286.9L79.0 287.4L78.5 294.9L82.2 302.3L90.5 301.1L91.7 298.0L81.7 287.1Z" fill="#e779e8"/>
<path d="M105.6 301.2L102.9 296.8L95.4 294.5L91.7 298.0L90.5 301.1L94.0 307.5L95.4 307.2Z" fill="#e97ee8"/>
<path d="M76.5 310.3L79.8 304.5L82.2 302.3L90.5 301.1L94.0 307.5L93.4 313.4L76.9 311.4Z" fill="#e378e5"/>
<path d="M95.4 307.2L94.0 307.5L93.4 313.4L93.6 313.9L101.2 317.9L106.6 314.3L106.5 309.1Z" fill="#e277e9"/>
<path d="M96.7 328.5L101.8 320.7L101.2 317.9L93.6 313.9L87.0 324.3L87.2 325.4L88.9 328.0Z" fill="#e67ce8"/>
<path d="M100.5 332.3L107.8 332.1L108.5 326.1L101.8 320.7L96.7 328.5Z" fill="#e57fed"/>
<path d="M89.2 341.8L96.6 341.2L100.5 332.3L96.7 328.5L88.9 328.0L87.4 338.3Z" fill="#e57be9"/>
<path d="M100.5 332.3L107.8 332.1L108.6 333.1L107.5 338.2L101.1 343.9L96.6 341.2Z" fill="#e374e3"/>
<path d="M88.1 344.8L95.8 355.4L97.7 355.2L102.6 347.2L101.1 343.9L96.6 341.2L89.2 341.8Z" fill="#e777e7"/>
<path d="M107.2 357.9L103.7 359.8L97.7 355.2L102.6 347.2L111.1 349.7L111.9 352.0Z" fill="#e97ee7"/>
<path d="M91.5 359.8L91.2 363.0L91.2 363.0L103.6 363.0L103.7 359.8L97.7 355.2L95.8 355.4Z" fill="#e37aea"/>
<path d="M113.1 363.0L107.2 357.9L103.7 359.8L103.6 363.0Z" fill="#e176e7"/>
<path d="M104.8 280.2L105.0 282.2L105.0 283.1L96.4 287.9L91.0 283.2L91.0 282.2L92.0 280.2Z" fill="#e87fea"/>
<path d="M112.2 280.2L115.0 280.2L116.1 286.3L114.3 290.0L110.4 288.7L105.0 283.1L105.0 282.2Z" fill="#e272e3"/>
<path d="M110.4 288.7L102.9 296.8L95.4 294.5L96.4 287.9L105.0 283.1Z" fill="#e47ce8"/>
<path d="M114.3 290.0L114.5 290.4L115.4 296.0L106.6 301.7L105.6 301.2L102.9 296.8L110.4 288.7Z" fill="#ea7ee9"/>
<path d="M108.2 306.0L106.5 309.1L95.4 307.2L105.6 301.2L106.6 301.7Z" fill="#e87ce8"/>
<path d="M119.4 307.6L116.2 315.4L113.4 316.5L106.6 314.3L106.5 309.1L108.2 306.0Z" fill="#e680eb"/>
<path d="M101.8 320.7L101.2 317.9L106.6 314.3L113.4 316.5L110.9 324.3L108.5 326.1Z" fill="#e479e3"/>
<path d="M116.2 315.4L122.6 322.5L120.3 326.8L110.9 324.3L113.4 316.5Z" fill="#e478e5"/>
<path d="M107.8 332.1L108.5 326.1L110.9 324.3L120.3 326.8L120.4 335.2L120.2 335.3L108.6 333.1Z" fill="#ea82eb"/>
<path d="M107.5 338.2L113.1 345.8L117.7 342.4L120.2 335.3L108.6 333.1Z" fill="#e274e6"/>
<path d="M101.1 343.9L102.6 347.2L111.1 349.7L113.1 345.8L107.5 338.2Z" fill="#e778e7"/>
<path d="M111.9 352.0L111.1 349.7L113.1 345.8L117.7 342.4L126.2 351.6L125.2 354.1L116.7 354.9Z" fill="#e67fe7"/>
<path d="M107.2 357.9L113.1 363.0L115.5 363.0L116.7 354.9L111.9 352.0Z" fill="#e87aea"/>
<path d="M115.5 363.0L125.9 363.0L127.7 359.9L125.2 354.1L116.7 354.9Z" fill="#e97ce8"/>
<path d="M112.2 280.2L105.0 282.2L104.8 280.2Z" fill="#e67eea"/>
<path d="M115.0 280.2L116.1 286.3L122.2 280.2Z" fill="#ea7eeb"/>
<path d="M129.2 281.3L125.2 280.2L122.2 280.2L116.1 286.3L114.3 290.0L114.5 290.4L128.9 289.4L129.2 281.4Z" fill="#eb7eeb"/>
<path d="M121.4 303.4L115.4 296.0L114.5 290.4L128.9 289.4L128.9 289.4L122.9 302.6Z" fill="#e97aea"/>
<path d="M121.4 303.4L120.4 306.8L119.4 307.6L108.2 306.0L106.6 301.7L115.4 296.0Z" fill="#ea81e9"/>
<path d="M121.4 303.4L120.4 306.8L128.2 312.9L134.0 311.6L136.5 307.3L136.0 302.4L122.9 302.6Z" fill="#e47de7"/>
<path d="M120.4 306.8L128.2 312.9L126.7 321.5L122.6 322.5L116.2 315.4L119.4 307.6Z" fill="#e573e5"/>
<path d="M134.0 311.6L139.1 321.6L136.8 326.1L135.7 326.0L126.7 321.5L128.2 312.9Z" fill="#e57cec"/>
<path d="M120.3 326.8L120.4 335.2L120.8 335.3L135.7 326.0L126.7 321.5L122.6 322.5Z" fill="#e675e5"/>
<path d="M137.6 337.3L128.8 339.7L120.8 335.3L135.7 326.0L136.8 326.1L139.5 331.5Z" fill="#e87ae6"/>
<path d="M127.7 350.2L126.2 351.6L117.7 342.4L120.2 335.3L120.4 335.2L120.8 335.3L128.8 339.7Z" fill="#e77feb"/>
<path d="M138.2 338.8L140.9 349.0L127.7 350.2L128.8 339.7L137.6 337.3Z" fill="#e379e9"/>
<path d="M141.7 350.0L136.5 361.8L127.7 359.9L125.2 354.1L126.2 351.6L127.7 350.2L140.9 349.0L141.5 349.6Z" fill="#e576e6"/>
<path d="M141.7 350.0L136.5 361.8L137.3 363.0L145.4 363.0L147.6 356.6L145.0 352.2Z" fill="#e780e9"/>
<path d="M137.3 363.0L136.5 361.8L127.7 359.9L125.9 363.0Z" fill="#e679e9"/>
<path d="M129.6 280.2L125.2 280.2L129.2 281.3Z" fill="#e479e6"/>
<path d="M141.5 280.2L139.5 282.1L129.2 281.4L129.2 281.3L129.6 280.2Z" fill="#e97fed"/>
<path d="M129.2 281.4L128.9 289.4L128.9 289.4L136.6 293.9L140.5 288.2L139.5 282.1Z" fill="#e879ea"/>
<path d="M136.6 293.9L140.5 288.2L149.5 287.7L145.7 298.8L138.5 298.4Z" fill="#e378e5"/>
<path d="M122.9 302.6L136.0 302.4L138.5 298.4L136.6 293.9L128.9 289.4Z" fill="#e57be5"/>
<path d="M138.5 298.4L136.0 302.4L136.5 307.3L146.3 311.9L148.8 310.7L150.7 302.4L145.7 298.8Z" fill="#e372e7"/>
<path d="M134.0 311.6L139.1 321.6L141.9 319.9L146.3 311.9L136.5 307.3Z" fill="#e37be6"/>
<path d="M148.8 310.7L155.0 315.7L153.8 322.9L141.9 319.9L146.3 311.9Z" fill="#e97ce7"/>
<path d="M139.5 331.5L136.8 326.1L139.1 321.6L141.9 319.9L153.8 322.9L154.2 324.1L147.5 331.9Z" fill="#e178e8"/>
<path d="M152.1 336.9L162.0 329.5L162.0 329.3L161.3 327.6L154.2 324.1L147.5 331.9Z" fill="#e475e3"/>
<path d="M153.1 341.4L138.2 338.8L137.6 337.3L139.5 331.5L147.5 331.9L152.1 336.9L153.2 341.4Z" fill="#e57ce9"/>
<path d="M141.5 349.6L140.9 349.0L138.2 338.8L153.1 341.4Z" fill="#e279e8"/>
<path d="M141.7 350.0L145.0 352.2L155.6 350.6L156.2 343.2L153.2 341.4L153.1 341.4L141.5 349.6Z" fill="#e87cea"/>
<path d="M155.8 359.5L147.6 356.6L145.0 352.2L155.6 350.6L158.1 355.1Z" fill="#eb7de8"/>
<path d="M145.4 363.0L147.6 356.6L155.8 359.5L156.0 362.2L155.5 363.0Z" fill="#e579e7"/>
<path d="M155.5 363.0L156.0 362.2L159.8 363.0Z" fill="#e57be8"/>
<path d="M155.0 280.2L151.9 284.2L145.6 280.2Z" fill="#e77eea"/>
<path d="M141.5 280.2L139.5 282.1L140.5 288.2L149.5 287.7L151.9 285.7L151.9 284.2L145.6 280.2Z" fill="#e475e5"/>
<path d="M155.0 280.2L158.8 280.2L162.0 282.5L162.0 289.5L159.5 292.4L159.0 292.5L151.9 285.7L151.9 284.2Z" fill="#e576e7"/>
<path d="M145.7 298.8L150.7 302.4L155.5 301.0L159.0 292.5L151.9 285.7L149.5 287.7Z" fill="#e676e9"/>
<path d="M159.0 292.5L155.5 301.0L161.6 305.4L162.0 305.4L162.0 293.5L159.5 292.4Z" fill="#e473e6"/>
<path d="M148.8 310.7L150.7 302.4L155.5 301.0L161.6 305.4L158.0 314.6L155.0 315.7Z" fill="#e77be6"/>
<path d="M162.0 305.4L162.0 316.1L158.0 314.6L161.6 305.4Z" fill="#e479e4"/>
<path d="M153.8 322.9L154.2 324.1L161.3 327.6L162.0 326.6L162.0 316.1L158.0 314.6L155.0 315.7Z" fill="#e57ce7"/>
<path d="M162.0 329.3L161.3 327.6L162.0 326.6Z" fill="#e373e7"/>
<path d="M153.2 341.4L152.1 336.9L162.0 329.5L162.0 338.8L159.4 342.6L156.2 343.2Z" fill="#e374e8"/>
<path d="M162.0 344.3L159.4 342.6L162.0 338.8Z" fill="#e97deb"/>
<path d="M162.0 354.5L158.1 355.1L155.6 350.6L156.2 343.2L159.4 342.6L162.0 344.3Z" fill="#e379e5"/>
<path d="M155.8 359.5L158.1 355.1L162.0 354.5L162.0 363.0L159.8 363.0L156.0 362.2Z" fill="#e980eb"/>
<path d="M158.8 280.2L162.0 282.5L162.0 280.2Z" fill="#e575e3"/>
<path d="M162.0 289.5L159.5 292.4L162.0 293.5Z" fill="#e575e3"/>
<path d="M165.5 317.4L158.0 314.6M158.0 314.6L161.6 305.4M161.6 305.4L165.3 305.3M126.2 351.6L127.7 350.2M126.2 351.6L117.7 342.4M120.8 335.3L120.4 335.2M120.8 335.3L128.8 339.7M120.4 335.2L120.2 335.3M117.7 342.4L120.2 335.3M128.8 339.7L127.7 350.2M170.8 297.2L159.5 292.4M163.4 287.8L159.5 292.4M155.5 301.0L159.0 292.5M155.5 301.0L161.6 305.4M159.5 292.4L159.0 292.5M166.1 320.5L161.3 327.6M162.1 329.4L161.3 327.6M155.0 315.7L153.8 322.9M155.0 315.7L148.8 310.7M153.8 322.9L141.9 319.9M141.9 319.9L146.3 311.9M146.3 311.9L148.8 310.7M158.0 314.6L155.0 315.7M154.2 324.1L161.3 327.6M154.2 324.1L153.8 322.9M150.7 302.4L148.8 310.7M150.7 302.4L155.5 301.0M17.1 316.2L28.1 317.7M15.7 319.2L25.0 327.8M28.1 317.7L29.7 322.7M29.7 322.7L25.0 327.8M15.6 335.9L25.4 341.3M25.4 341.3L28.5 333.9M15.4 334.7L24.5 330.6M28.5 333.9L24.5 330.6M24.5 330.6L25.0 327.8M29.7 322.7L38.1 325.9M28.5 333.9L37.9 334.9M38.1 325.9L37.9 334.9M15.3 342.6L21.7 346.0M25.4 341.3L26.1 343.1M26.1 343.1L21.7 346.0M43.8 317.7L34.5 312.0M43.8 317.7L47.8 313.7M47.8 313.7L49.1 308.2M45.8 302.2L49.1 308.2M45.8 302.2L37.3 303.7M37.3 303.7L34.5 312.0M43.8 317.7L43.4 320.3M28.1 317.7L31.6 312.7M43.4 320.3L38.1 325.9M34.5 312.0L31.6 312.7M79.8 304.5L70.5 297.7M79.8 304.5L82.2 302.3M82.2 302.3L78.5 294.9M70.5 297.7L78.5 294.9M139.1 321.6L136.8 326.1M139.1 321.6L134.0 311.6M136.8 326.1L135.7 326.0M135.7 326.0L126.7 321.5M126.7 321.5L128.2 312.9M128.2 312.9L134.0 311.6M139.1 321.6L141.9 319.9M146.3 311.9L136.5 307.3M136.5 307.3L134.0 311.6M122.6 322.5L120.3 326.8M122.6 322.5L116.2 315.4M120.3 326.8L110.9 324.3M110.9 324.3L113.4 316.5M113.4 316.5L116.2 315.4M135.7 326.0L120.8 335.3M126.7 321.5L122.6 322.5M120.4 335.2L120.3 326.8M165.7 333.4L159.4 342.6M159.4 342.6L168.4 348.7M101.2 317.9L106.6 314.3M101.2 317.9L101.8 320.7M106.6 314.3L113.4 316.5M110.9 324.3L108.5 326.1M108.5 326.1L101.8 320.7M154.2 324.1L147.5 331.9M162.1 329.4L152.1 336.9M147.5 331.9L152.1 336.9M136.8 326.1L139.5 331.5M147.5 331.9L139.5 331.5M128.8 339.7L137.6 337.3M139.5 331.5L137.6 337.3M127.7 350.2L140.9 349.0M140.9 349.0L138.2 338.8M137.6 337.3L138.2 338.8M16.5 313.3L19.1 307.9M8.4 297.7L19.4 304.1M19.4 304.1L19.1 307.9M31.6 312.7L29.3 310.1M19.1 307.9L29.3 310.1M18.8 277.6L21.0 283.2M16.5 290.4L21.0 283.2M65.0 289.6L64.7 289.2M65.0 289.6L68.2 288.6M64.7 289.2L64.1 280.6M68.1 274.8L64.1 280.6M73.1 276.4L68.2 288.6M65.0 289.6L64.9 297.0M64.9 297.0L70.5 297.7M78.5 294.9L79.0 287.4M79.0 287.4L68.2 288.6M60.5 298.8L48.1 295.8M60.5 298.8L64.6 297.7M64.7 289.2L53.9 287.1M64.9 297.0L64.6 297.7M53.9 287.1L48.1 295.8M45.8 302.2L47.1 296.4M49.1 308.2L53.7 307.4M53.7 307.4L60.5 298.8M47.1 296.4L48.1 295.8M101.2 317.9L93.6 313.9M93.4 313.4L94.0 307.5M93.4 313.4L93.6 313.9M106.6 314.3L106.5 309.1M94.0 307.5L95.4 307.2M106.5 309.1L95.4 307.2M94.0 307.5L90.5 301.1M90.5 301.1L91.7 298.0M91.7 298.0L95.4 294.5M102.9 296.8L95.4 294.5M102.9 296.8L105.6 301.2M95.4 307.2L105.6 301.2M79.0 287.4L79.6 286.9M78.1 276.7L79.6 286.9M91.7 298.0L81.7 287.1M96.4 287.9L95.4 294.5M96.4 287.9L91.0 283.2M91.0 283.2L81.7 287.1M90.5 301.1L82.2 302.3M81.7 287.1L79.6 286.9M155.6 350.6L145.0 352.2M155.6 350.6L156.2 343.2M156.2 343.2L153.2 341.4M145.0 352.2L141.7 350.0M153.2 341.4L153.1 341.4M153.1 341.4L141.5 349.6M141.5 349.6L141.7 350.0M159.4 342.6L156.2 343.2M152.1 336.9L153.2 341.4M144.4 365.8L147.6 356.6M147.6 356.6L145.0 352.2M136.5 361.8L138.7 365.2M136.5 361.8L141.7 350.0M138.2 338.8L153.1 341.4M140.9 349.0L141.5 349.6M126.2 351.6L125.2 354.1M125.2 354.1L127.7 359.9M127.7 359.9L136.5 361.8M166.3 353.8L158.1 355.1M158.1 355.1L155.8 359.5M170.3 365.3L156.0 362.2M156.0 362.2L155.8 359.5M155.6 350.6L158.1 355.1M147.6 356.6L155.8 359.5M117.7 342.4L113.1 345.8M120.2 335.3L108.6 333.1M113.1 345.8L107.5 338.2M108.6 333.1L107.5 338.2M108.5 326.1L107.8 332.1M108.6 333.1L107.8 332.1M113.1 345.8L111.1 349.7M102.6 347.2L111.1 349.7M102.6 347.2L101.1 343.9M107.5 338.2L101.1 343.9M149.5 287.7L140.5 288.2M149.5 287.7L145.7 298.8M140.5 288.2L136.6 293.9M145.7 298.8L138.5 298.4M138.5 298.4L136.6 293.9M150.7 302.4L145.7 298.8M159.0 292.5L151.9 285.7M151.9 285.7L149.5 287.7M136.5 307.3L136.0 302.4M136.0 302.4L138.5 298.4M164.8 284.5L156.4 278.5M151.9 285.7L151.9 284.2M151.9 284.2L156.4 278.5M123.6 367.1L127.7 359.9M31.9 346.3L28.4 356.2M31.9 346.3L32.2 346.1M28.4 356.2L39.6 355.9M39.6 355.9L45.3 351.7M45.3 351.7L32.2 346.1M37.9 334.9L38.3 335.5M26.1 343.1L31.9 346.3M32.2 346.1L38.3 335.5M21.7 346.0L21.2 351.9M28.4 356.2L28.0 356.7M28.0 356.7L21.2 351.9M21.2 351.9L13.4 352.2M77.3 362.5L80.4 355.3M77.3 362.5L66.3 360.9M80.4 355.3L74.1 350.2M66.3 360.9L65.7 359.4M74.1 350.2L67.9 352.6M67.9 352.6L65.7 359.4M53.7 307.4L63.2 311.0M64.6 297.7L66.9 307.3M63.2 311.0L66.9 307.3M79.8 304.5L76.5 310.3M66.9 307.3L76.5 310.3M93.4 313.4L76.9 311.4M93.6 313.9L87.0 324.3M87.0 324.3L76.6 317.9M76.6 317.9L76.9 311.4M76.9 311.4L76.5 310.3M37.3 303.7L34.7 301.6M29.3 310.1L28.4 302.5M34.7 301.6L28.4 302.5M19.4 304.1L23.7 300.0M28.4 302.5L23.7 300.0M16.5 290.4L23.9 297.1M23.7 300.0L23.9 297.1M34.1 285.0L31.2 286.7M34.1 285.0L41.3 290.3M31.2 286.7L29.9 291.7M29.9 291.7L34.4 297.4M34.4 297.4L42.7 292.7M41.3 290.3L42.7 292.7M21.0 283.2L31.2 286.7M36.4 278.3L34.1 285.0M23.9 297.1L29.9 291.7M34.7 301.6L34.4 297.4M47.1 296.4L42.7 292.7M38.7 276.6L48.2 282.2M48.2 282.2L51.6 282.4M51.6 282.4L54.6 275.9M41.3 290.3L48.2 282.2M53.9 287.1L51.6 282.4M64.1 280.6L54.6 275.9M106.5 309.1L108.2 306.0M105.6 301.2L106.6 301.7M106.6 301.7L108.2 306.0M116.2 315.4L119.4 307.6M108.2 306.0L119.4 307.6M128.2 312.9L120.4 306.8M119.4 307.6L120.4 306.8M95.4 273.3L91.0 282.2M91.0 282.2L81.3 272.7M91.0 283.2L91.0 282.2M128.9 289.4L114.5 290.4M128.9 289.4L128.9 289.4M128.9 289.4L122.9 302.6M114.5 290.4L115.4 296.0M115.4 296.0L121.4 303.4M122.9 302.6L121.4 303.4M136.0 302.4L122.9 302.6M136.6 293.9L128.9 289.4M106.6 301.7L115.4 296.0M120.4 306.8L121.4 303.4M107.8 332.1L100.5 332.3M101.1 343.9L96.6 341.2M96.6 341.2L100.5 332.3M101.8 320.7L96.7 328.5M87.0 324.3L87.2 325.4M87.2 325.4L88.9 328.0M88.9 328.0L96.7 328.5M96.7 328.5L100.5 332.3M116.7 354.9L115.2 364.9M116.7 354.9L111.9 352.0M115.2 364.9L107.2 357.9M111.9 352.0L107.2 357.9M125.2 354.1L116.7 354.9M111.1 349.7L111.9 352.0M103.6 365.0L103.7 359.8M103.7 359.8L107.2 357.9M102.6 347.2L97.7 355.2M103.7 359.8L97.7 355.2M91.2 363.0L95.4 370.5M91.2 363.0L79.3 366.6M97.7 355.2L95.8 355.4M91.2 363.0L91.5 359.8M95.8 355.4L91.5 359.8M77.3 362.5L79.3 366.5M80.4 355.3L81.9 354.6M91.5 359.8L81.9 354.6M156.0 362.2L152.3 369.5M28.0 356.7L27.5 359.5M13.0 360.6L25.2 362.3M27.5 359.5L25.2 362.3M39.6 355.9L39.4 362.3M50.6 357.6L50.0 361.7M50.6 357.6L46.4 351.5M46.4 351.5L45.3 351.7M50.0 361.7L39.4 362.3M27.5 359.5L37.0 365.4M39.4 362.3L37.0 365.4M66.3 360.9L62.9 369.6M74.8 345.0L74.0 343.2M74.8 345.0L87.8 345.0M74.0 343.2L78.7 336.9M78.7 336.9L87.4 338.3M87.4 338.3L89.2 341.8M89.2 341.8L88.1 344.8M88.1 344.8L87.8 345.0M74.1 350.2L74.8 345.0M81.9 354.6L87.8 345.0M87.2 325.4L75.1 331.6M75.1 331.6L78.7 336.9M88.9 328.0L87.4 338.3M96.6 341.2L89.2 341.8M95.8 355.4L88.1 344.8M46.4 351.5L47.9 346.9M38.3 335.5L40.0 336.2M40.0 336.2L47.7 344.7M47.9 346.9L47.7 344.7M50.6 357.6L57.5 356.3M57.5 356.3L60.0 346.8M47.9 346.9L60.0 346.8M67.9 352.6L62.5 345.1M57.5 356.3L65.7 359.4M60.0 346.8L62.5 345.1M75.1 331.6L71.4 330.1M74.0 343.2L68.8 340.9M71.4 330.1L68.8 340.9M47.7 344.7L57.4 334.4M62.5 345.1L63.2 342.6M57.4 334.4L63.2 342.6M68.8 340.9L63.2 342.6M96.4 287.9L105.0 283.1M102.9 296.8L110.4 288.7M105.0 283.1L110.4 288.7M114.5 290.4L114.3 290.0M110.4 288.7L114.3 290.0M143.1 278.6L139.5 282.1M139.5 282.1L129.2 281.4M129.2 281.4L129.2 281.3M129.2 281.3L133.3 268.7M151.9 284.2L143.1 278.6M140.5 288.2L139.5 282.1M128.9 289.4L129.2 281.4M122.8 279.5L116.1 286.3M122.8 279.5L129.2 281.3M114.3 290.0L116.1 286.3M25.2 362.3L24.3 369.5M50.0 361.7L50.7 367.0M63.2 311.0L62.4 315.3M76.6 317.9L72.8 321.1M72.8 321.1L62.4 315.3M71.4 330.1L69.8 328.1M72.8 321.1L69.8 328.1M104.3 275.2L105.0 282.2M105.0 282.2L114.9 279.5M105.0 283.1L105.0 282.2M116.1 286.3L114.9 279.5M66.6 328.3L58.8 319.1M66.6 328.3L57.4 334.4M57.4 334.4L53.1 330.0M58.8 319.1L58.8 319.1M58.8 319.1L52.8 328.6M52.8 328.6L53.1 330.0M69.8 328.1L66.6 328.3M62.4 315.3L58.8 319.1M57.4 334.4L57.4 334.4M40.0 336.2L53.1 330.0M47.8 313.7L58.8 319.1M43.4 320.3L52.8 328.6" stroke="#f6d6f6" stroke-width="0.4" fill="none" opacity="0.65"/>
<path d="M116.2 354.9h1M90.5 282.2h1M73.5 343.2h1M70.0 297.7h1M21.2 346.0h1M94.9 294.5h1M24.7 362.3h1M53.4 287.1h1M145.8 311.9h1M33.6 285.0h1M148.3 310.7h1M73.6 350.2h1M93.1 313.9h1M155.7 343.2h1M94.9 307.2h1M69.3 328.1h1M141.2 350.0h1M155.3 359.5h1M79.1 286.9h1M43.3 317.7h1M64.4 297.0h1M66.1 328.3h1M114.0 290.4h1M112.9 316.5h1M158.5 292.5h1M159.0 292.4h1M116.2 354.9h1M27.6 317.7h1M102.4 296.8h1M110.4 324.3h1M128.7 281.4h1M52.3 328.6h1M136.0 307.3h1M62.7 342.6h1M33.6 285.0h1M138.0 298.4h1M118.9 307.6h1M125.7 351.6h1M78.0 294.9h1M25.6 343.1h1M39.1 355.9h1M29.4 291.7h1M110.6 349.7h1M73.6 350.2h1M155.0 301.0h1M141.4 319.9h1M79.3 304.5h1M66.4 307.3h1M62.0 345.1h1M127.2 359.9h1M150.2 302.4h1M18.6 307.9h1M139.0 331.5h1M128.4 289.4h1M79.9 355.3h1M90.0 301.1h1M112.6 345.8h1M64.1 297.7h1M68.3 340.9h1M136.0 361.8h1M40.8 290.3h1M74.3 345.0h1M31.1 312.7h1M27.9 302.5h1M139.0 282.1h1M66.1 328.3h1" stroke="#6a3c9a" stroke-width="0.9" stroke-linecap="round" fill="none" opacity="0.75"/><clipPath id="clipF0b"><path d="M17 322L36 320L50 317L68 314L86 317L98 321L108 331L125 339L162 345.5L163 364L17 364Z"/></clipPath><g clip-path="url(#clipF0b)"><path d="M18.0 340.7L18.3 341.1L18.0 341.3Z" fill="#e089e3"/>
<path d="M18.0 361.5L25.9 357.2L25.5 351.6L18.0 351.0Z" fill="#e48ae5"/>
<path d="M22.1 312.0L22.0 312.4L18.0 317.6L18.0 312.0Z" fill="#e48fe8"/>
<path d="M25.3 312.0L22.0 312.4L18.0 317.6L18.0 319.6L19.8 322.6L37.8 325.8L38.8 321.8L35.2 312.0Z" fill="#e28ae8"/>
<path d="M18.0 328.7L18.6 328.1L19.8 322.6L18.0 319.6Z" fill="#e38ae9"/>
<path d="M27.1 340.9L18.6 328.1L18.0 328.7L18.0 340.7L18.3 341.1L26.3 342.6Z" fill="#e28ce8"/>
<path d="M26.3 342.6L26.5 349.7L25.5 351.6L18.0 351.0L18.0 341.3L18.3 341.1Z" fill="#e088e6"/>
<path d="M25.9 357.2L30.4 363.0L35.0 363.0L41.0 356.6L36.1 349.9L26.5 349.7L25.5 351.6Z" fill="#e690eb"/>
<path d="M18.0 363.0L18.0 361.5L25.9 357.2L30.4 363.0Z" fill="#e48de5"/>
<path d="M22.1 312.0L22.0 312.4L25.3 312.0Z" fill="#e18ce7"/>
<path d="M35.2 312.0L38.8 321.8L47.9 315.7L48.0 312.0Z" fill="#e48fe7"/>
<path d="M27.1 340.9L38.2 333.4L39.1 329.0L37.8 325.8L19.8 322.6L18.6 328.1Z" fill="#e58be6"/>
<path d="M39.1 329.0L53.8 329.1L56.1 334.7L43.8 342.7L38.2 333.4Z" fill="#e68eea"/>
<path d="M27.1 340.9L38.2 333.4L43.8 342.7L43.9 342.7L36.1 349.9L26.5 349.7L26.3 342.6Z" fill="#e08be5"/>
<path d="M36.1 349.9L43.9 342.7L52.0 350.9L49.6 355.1L41.0 356.6Z" fill="#e189e6"/>
<path d="M49.5 363.0L50.3 361.8L49.6 355.1L41.0 356.6L35.0 363.0Z" fill="#df86e3"/>
<path d="M49.5 363.0L50.3 361.8L52.4 363.0Z" fill="#dd87e3"/>
<path d="M48.0 312.0L61.8 312.0L57.8 319.3L47.9 315.7Z" fill="#e38ee9"/>
<path d="M47.9 315.7L57.8 319.3L58.4 323.2L53.8 329.1L39.1 329.0L37.8 325.8L38.8 321.8Z" fill="#e58ce6"/>
<path d="M56.1 334.7L62.7 342.2L65.7 341.2L70.1 334.5L68.2 326.8L58.4 323.2L53.8 329.1Z" fill="#e288e3"/>
<path d="M43.8 342.7L43.9 342.7L52.0 350.9L57.7 349.4L62.7 342.2L56.1 334.7Z" fill="#e184e4"/>
<path d="M71.9 345.7L65.7 341.2L62.7 342.2L57.7 349.4L67.6 361.6L73.2 354.7Z" fill="#df81e0"/>
<path d="M52.4 363.0L50.3 361.8L49.6 355.1L52.0 350.9L57.7 349.4L67.6 361.6L67.7 363.0Z" fill="#e38ee8"/>
<path d="M93.4 317.6L91.8 312.0L73.0 312.0L74.9 316.9L93.3 318.5Z" fill="#e58be6"/>
<path d="M73.0 312.0L61.8 312.0L57.8 319.3L58.4 323.2L68.2 326.8L74.3 320.1L74.9 316.9Z" fill="#e087e4"/>
<path d="M83.1 334.0L70.1 334.5L68.2 326.8L74.3 320.1L85.3 331.7Z" fill="#de88e2"/>
<path d="M83.1 334.0L83.2 345.0L71.9 345.7L65.7 341.2L70.1 334.5Z" fill="#e58fe8"/>
<path d="M86.1 349.0L82.3 354.2L73.2 354.7L71.9 345.7L83.2 345.0Z" fill="#e184e5"/>
<path d="M82.3 354.2L82.7 361.4L82.1 363.0L67.7 363.0L67.6 361.6L73.2 354.7Z" fill="#e291e8"/>
<path d="M82.1 363.0L82.7 361.4L93.8 360.2L93.6 363.0Z" fill="#dc84e1"/>
<path d="M93.4 317.6L91.8 312.0L102.4 312.0L102.3 312.3Z" fill="#e389e3"/>
<path d="M93.3 318.5L74.9 316.9L74.3 320.1L85.3 331.7L89.8 329.7L93.5 319.5Z" fill="#df83e3"/>
<path d="M93.5 319.5L89.8 329.7L98.4 337.4L100.8 336.8L107.7 324.4Z" fill="#df8be4"/>
<path d="M98.4 337.4L95.7 350.3L86.1 349.0L83.2 345.0L83.1 334.0L85.3 331.7L89.8 329.7Z" fill="#dd85e2"/>
<path d="M112.1 339.8L100.8 336.8L98.4 337.4L95.7 350.3L97.8 352.7L102.2 354.0L110.6 347.3Z" fill="#e68ee7"/>
<path d="M95.7 350.3L86.1 349.0L82.3 354.2L82.7 361.4L93.8 360.2L97.8 352.7Z" fill="#e188e4"/>
<path d="M97.8 352.7L93.8 360.2L93.6 363.0L108.7 363.0L102.2 354.0Z" fill="#e68ee9"/>
<path d="M102.3 312.3L102.4 312.0L112.4 312.0L111.8 313.5Z" fill="#e38be2"/>
<path d="M113.0 319.9L111.8 313.5L102.3 312.3L93.4 317.6L93.3 318.5L93.5 319.5L107.7 324.4L110.0 324.0Z" fill="#e38ce9"/>
<path d="M127.6 323.2L115.6 333.9L110.0 324.0L113.0 319.9L126.8 320.6Z" fill="#e289e4"/>
<path d="M110.0 324.0L107.7 324.4L100.8 336.8L112.1 339.8L115.8 337.1L115.6 333.9Z" fill="#e28be5"/>
<path d="M122.0 339.6L126.6 345.8L125.6 352.2L121.2 353.5L110.6 347.3L112.1 339.8L115.8 337.1Z" fill="#e48de6"/>
<path d="M110.6 347.3L102.2 354.0L108.7 363.0L113.0 363.0L121.2 353.5Z" fill="#e68ee6"/>
<path d="M121.2 353.5L113.0 363.0L128.0 363.0L132.3 359.4L132.3 359.3L125.6 352.2Z" fill="#dd82e0"/>
<path d="M129.1 312.0L132.3 312.0L129.9 312.8Z" fill="#e084e2"/>
<path d="M126.8 320.6L129.9 312.8L129.1 312.0L112.4 312.0L111.8 313.5L113.0 319.9Z" fill="#e38de6"/>
<path d="M127.6 323.2L130.9 327.3L143.8 321.3L141.3 314.8L136.4 312.0L132.3 312.0L129.9 312.8L126.8 320.6Z" fill="#e58eea"/>
<path d="M127.6 323.2L130.9 327.3L131.3 328.7L122.0 339.6L115.8 337.1L115.6 333.9Z" fill="#e286e6"/>
<path d="M131.3 328.7L140.8 338.3L140.4 339.4L126.6 345.8L122.0 339.6Z" fill="#dc86e3"/>
<path d="M140.4 339.4L144.0 351.1L132.3 359.3L125.6 352.2L126.6 345.8Z" fill="#e78ee6"/>
<path d="M148.4 363.0L148.7 353.3L144.0 351.1L132.3 359.3L132.3 359.4L134.5 363.0Z" fill="#e68dea"/>
<path d="M128.0 363.0L132.3 359.4L134.5 363.0Z" fill="#e590e7"/>
<path d="M146.4 312.0L141.3 314.8L136.4 312.0Z" fill="#df83e4"/>
<path d="M141.3 314.8L146.4 312.0L152.4 312.0L158.5 318.9L150.6 326.8L143.8 321.3Z" fill="#e58be8"/>
<path d="M131.3 328.7L140.8 338.3L150.1 332.7L150.6 326.8L143.8 321.3L130.9 327.3Z" fill="#e290e8"/>
<path d="M158.8 347.2L162.0 344.2L162.0 333.8L153.0 334.7Z" fill="#e387e3"/>
<path d="M140.8 338.3L150.1 332.7L153.0 334.7L158.8 347.2L158.8 350.8L148.7 353.3L144.0 351.1L140.4 339.4Z" fill="#e187e4"/>
<path d="M152.3 363.0L162.0 359.5L162.0 353.5L158.8 350.8L148.7 353.3L148.4 363.0Z" fill="#e18ae7"/>
<path d="M162.0 363.0L152.3 363.0L162.0 359.5Z" fill="#e48ce5"/>
<path d="M152.4 312.0L158.5 318.9L162.0 318.2L162.0 312.0Z" fill="#e78ce6"/>
<path d="M150.6 326.8L150.1 332.7L153.0 334.7L162.0 333.8L162.0 318.2L158.5 318.9Z" fill="#e58bea"/>
<path d="M162.0 344.2L158.8 347.2L158.8 350.8L162.0 353.5Z" fill="#e186e2"/>
<path d="M164.1 333.6L153.0 334.7M168.7 337.9L158.8 347.2M153.0 334.7L158.8 347.2M163.9 355.0L158.8 350.8M158.8 350.8L158.8 347.2M148.3 364.4L163.1 359.1M138.4 369.4L132.3 359.4M144.0 351.1L148.7 353.3M144.0 351.1L132.3 359.3M148.7 353.3L148.3 364.4M132.3 359.3L132.3 359.4M158.8 350.8L148.7 353.3M93.2 368.5L93.8 360.2M82.7 361.4L93.8 360.2M82.7 361.4L80.9 365.7M49.6 355.1L52.0 350.9M49.6 355.1L41.0 356.6M52.0 350.9L43.9 342.7M43.9 342.7L36.1 349.9M41.0 356.6L36.1 349.9M63.7 369.6L50.3 361.8M43.9 370.9L50.3 361.8M67.6 361.6L67.7 363.3M67.6 361.6L57.7 349.4M49.6 355.1L50.3 361.8M57.7 349.4L52.0 350.9M41.0 356.6L32.4 365.7M73.2 354.7L82.3 354.2M73.2 354.7L71.9 345.7M71.9 345.7L83.2 345.0M82.3 354.2L86.1 349.0M83.2 345.0L86.1 349.0M67.6 361.6L73.2 354.7M82.7 361.4L82.3 354.2M65.7 341.2L71.9 345.7M65.7 341.2L62.7 342.2M62.7 342.2L57.7 349.4M70.1 334.5L83.1 334.0M70.1 334.5L68.2 326.8M74.3 320.1L68.2 326.8M74.3 320.1L85.3 331.7M85.3 331.7L83.1 334.0M65.7 341.2L70.1 334.5M83.2 345.0L83.1 334.0M62.3 311.0L57.8 319.3M57.8 319.3L58.4 323.2M58.4 323.2L68.2 326.8M74.3 320.1L74.9 316.9M74.9 316.9L72.9 311.6M110.6 365.7L102.2 354.0M93.8 360.2L97.8 352.7M102.2 354.0L97.8 352.7M86.1 349.0L95.7 350.3M97.8 352.7L95.7 350.3M85.3 331.7L89.8 329.7M95.7 350.3L98.4 337.4M89.8 329.7L98.4 337.4M110.6 365.7L121.2 353.5M132.3 359.3L125.6 352.2M132.3 359.4L121.2 368.5M125.6 352.2L121.2 353.5M102.2 354.0L110.6 347.3M121.2 353.5L110.6 347.3M98.4 337.4L100.8 336.8M100.8 336.8L112.1 339.8M110.6 347.3L112.1 339.8M134.9 311.1L129.9 312.8M129.9 312.8L119.5 302.3M53.8 329.1L39.1 329.0M53.8 329.1L56.1 334.7M56.1 334.7L43.8 342.7M43.8 342.7L38.2 333.4M38.2 333.4L39.1 329.0M58.4 323.2L53.8 329.1M62.7 342.2L56.1 334.7M43.9 342.7L43.8 342.7M32.4 365.7L25.9 357.2M36.1 349.9L26.5 349.7M26.5 349.7L25.5 351.6M25.5 351.6L25.9 357.2M25.9 357.2L9.4 366.1M25.5 351.6L5.3 349.9M12.7 334.0L18.3 341.1M12.7 334.0L18.6 328.1M18.6 328.1L27.1 340.9M18.3 341.1L26.3 342.6M26.3 342.6L27.1 340.9M5.1 349.2L18.3 341.1M17.3 318.5L19.8 322.6M19.8 322.6L18.6 328.1M38.2 333.4L27.1 340.9M39.1 329.0L37.8 325.8M37.8 325.8L19.8 322.6M26.5 349.7L26.3 342.6M150.5 309.8L141.3 314.8M150.5 309.8L158.5 318.9M158.5 318.9L150.6 326.8M150.6 326.8L143.8 321.3M143.8 321.3L141.3 314.8M134.9 311.1L141.3 314.8M164.5 317.7L158.5 318.9M153.0 334.7L150.1 332.7M150.1 332.7L150.6 326.8M144.0 351.1L140.4 339.4M125.6 352.2L126.6 345.8M126.6 345.8L140.4 339.4M150.1 332.7L140.8 338.3M140.4 339.4L140.8 338.3M89.8 329.7L93.5 319.5M100.8 336.8L107.7 324.4M107.7 324.4L93.5 319.5M103.5 303.1L102.3 312.3M115.2 304.1L111.8 313.5M111.8 313.5L102.3 312.3M91.0 309.2L93.4 317.6M102.3 312.3L93.4 317.6M74.9 316.9L93.3 318.5M93.5 319.5L93.3 318.5M93.3 318.5L93.4 317.6M57.8 319.3L47.9 315.7M37.8 325.8L38.8 321.8M38.8 321.8L47.9 315.7M47.9 315.7L48.1 308.9M112.1 339.8L115.8 337.1M126.6 345.8L122.0 339.6M115.8 337.1L122.0 339.6M140.8 338.3L131.3 328.7M122.0 339.6L131.3 328.7M143.8 321.3L130.9 327.3M130.9 327.3L131.3 328.7M34.8 310.8L22.0 312.4M22.1 309.8L22.0 312.4M38.8 321.8L34.8 310.8M17.3 318.5L22.0 312.4M115.6 333.9L127.6 323.2M115.6 333.9L110.0 324.0M110.0 324.0L113.0 319.9M113.0 319.9L126.8 320.6M126.8 320.6L127.6 323.2M115.8 337.1L115.6 333.9M130.9 327.3L127.6 323.2M107.7 324.4L110.0 324.0M111.8 313.5L113.0 319.9M129.9 312.8L126.8 320.6" stroke="#f4dcf4" stroke-width="0.45" fill="none" opacity="0.8"/>
<path d="M71.4 345.7h1M143.3 321.3h1M112.5 319.9h1M38.6 329.0h1M38.6 329.0h1M25.0 351.6h1M37.7 333.4h1M17.8 341.1h1M47.4 315.7h1M82.2 361.4h1M129.4 312.8h1M43.4 342.7h1M35.6 349.9h1M67.1 361.6h1M140.8 314.8h1M109.5 324.0h1M127.1 323.2h1M43.3 342.7h1M25.8 342.6h1M17.8 341.1h1M120.7 353.5h1M100.3 336.8h1M115.3 337.1h1M82.7 345.0h1" stroke="#6a3c9a" stroke-width="0.9" stroke-linecap="round" fill="none" opacity="0.75"/></g><path d="M17 279L22 279L19 287Z" fill="#fbf3fb"/><rect x="145.6" y="359.8" width="17" height="4" fill="#fbf3fb"/>
<path d="M18.0 319.8C19.2 319.1 23.1 317.2 25.3 315.8C27.5 314.4 29.3 312.8 31.1 311.4C32.9 310.0 34.4 308.7 36.2 307.4C38.0 306.1 40.3 304.8 42.1 303.4C43.9 302.0 45.6 300.5 47.2 299.3C48.8 298.1 50.0 297.0 51.6 296.1C53.2 295.2 55.0 294.4 56.7 293.9C58.4 293.3 59.9 293.0 61.8 292.8C63.7 292.6 65.5 292.4 68.0 292.6C70.5 292.8 73.7 293.9 77.0 294.0C80.3 294.1 84.9 293.4 87.9 293.5C90.9 293.6 92.8 294.1 95.2 294.6C97.6 295.2 100.1 296.1 102.5 296.8C104.9 297.5 107.5 298.5 109.8 299.0C112.0 299.5 113.8 299.6 116.0 299.9C118.2 300.2 120.0 300.2 123.0 300.9C126.0 301.6 130.9 303.3 133.9 304.1C136.9 304.9 138.2 305.1 141.2 305.5C144.2 305.9 148.5 306.1 152.1 306.3C155.7 306.5 160.8 306.6 162.5 306.6" stroke="#fbf3fb" stroke-width="2.0" fill="none" stroke-linecap="round" stroke-linejoin="round" opacity="1.0"/>
<path d="M18.0 321.0C19.0 320.4 22.0 318.8 24.0 317.5C26.0 316.2 29.0 314.2 30.0 313.5" stroke="#fbf3fb" stroke-width="3.0" fill="none" stroke-linecap="round" stroke-linejoin="round" opacity="1.0"/>
<path d="M66.0 296.8C67.2 297.3 70.5 298.4 73.3 299.7C76.1 301.0 79.1 303.6 82.8 304.5C86.5 305.4 91.9 305.3 95.2 305.2C98.5 305.1 99.7 304.4 102.5 304.1C105.3 303.8 108.6 303.4 112.0 303.4C115.4 303.4 119.3 303.9 123.0 304.1C126.7 304.3 132.1 304.4 133.9 304.5" stroke="#fbf3fb" stroke-width="1.3" fill="none" stroke-linecap="round" stroke-linejoin="round" opacity="1.0"/>
<path d="M139.7 304.1C140.5 303.6 142.7 302.7 144.8 301.2C146.9 299.7 150.0 297.0 152.1 295.3C154.2 293.6 155.6 291.9 157.3 291.0C159.0 290.1 161.6 290.3 162.5 290.2" stroke="#fbf3fb" stroke-width="1.0" fill="none" stroke-linecap="round" stroke-linejoin="round" opacity="1.0"/>
<path d="M148.5 309.2C149.7 310.1 153.5 312.7 155.8 314.3C158.1 315.9 161.4 318.0 162.5 318.7" stroke="#fbf3fb" stroke-width="1.3" fill="none" stroke-linecap="round" stroke-linejoin="round" opacity="1.0"/>
<path d="M30.0 322.3C31.0 321.9 33.3 320.7 36.2 319.9C39.1 319.1 43.6 318.1 47.2 317.3C50.9 316.5 54.6 315.6 58.1 315.0C61.6 314.4 65.1 313.8 68.0 313.8C70.9 313.8 72.4 314.4 75.5 315.0C78.6 315.6 83.1 316.4 86.4 317.2C89.7 318.0 93.1 319.0 95.2 319.8C97.3 320.6 97.6 321.2 98.8 322.0C100.0 322.8 101.2 323.1 102.5 324.4C103.8 325.6 106.0 328.4 106.9 329.5C107.8 330.6 107.8 331.0 108.0 331.3" stroke="#fbf3fb" stroke-width="2.0" fill="none" stroke-linecap="round" stroke-linejoin="round" opacity="1.0"/>
<path d="M17.5 334.8C18.2 334.2 20.3 332.0 21.6 331.0C22.9 330.0 24.3 329.9 25.3 328.8C26.3 327.7 26.6 325.6 27.5 324.6C28.4 323.6 29.5 323.3 30.4 322.9C31.2 322.5 31.6 322.4 32.6 322.2C33.6 322.0 35.6 321.9 36.2 321.8" stroke="#fbf3fb" stroke-width="2.6" fill="none" stroke-linecap="round" stroke-linejoin="round" opacity="1.0"/>
<path d="M35.0 364.0C35.6 363.0 37.6 359.9 38.4 358.0C39.2 356.1 39.3 354.2 39.9 352.8C40.5 351.4 40.6 350.9 42.1 349.9C43.6 348.9 46.6 348.0 48.7 347.0C50.8 346.0 52.3 345.1 54.5 344.1C56.7 343.1 59.5 341.9 61.8 341.2C64.0 340.5 65.5 340.8 68.0 339.7C70.5 338.6 73.7 335.7 77.0 334.6C80.3 333.5 84.3 333.5 87.9 333.1C91.5 332.7 95.6 332.3 98.8 332.0C102.0 331.7 104.7 331.2 106.9 331.3C109.1 331.4 109.9 332.0 112.0 332.8C114.1 333.6 116.9 335.0 119.3 336.1C121.7 337.2 124.2 338.6 126.6 339.7C129.0 340.8 131.7 341.8 133.9 342.6C136.1 343.5 137.9 344.2 139.7 344.8C141.5 345.4 142.7 345.8 144.8 345.9C146.9 346.0 149.2 345.4 152.1 345.2C155.0 345.0 160.8 344.9 162.5 344.8" stroke="#fbf3fb" stroke-width="3.0" fill="none" stroke-linecap="round" stroke-linejoin="round" opacity="1.0"/>
<path d="M25.3 332.4C27.7 332.3 35.0 332.2 39.9 332.0C44.8 331.8 49.8 330.7 54.5 331.0C59.2 331.3 65.8 333.4 68.0 333.9" stroke="#fbf3fb" stroke-width="1.0" fill="none" stroke-linecap="round" stroke-linejoin="round" opacity="1.0"/>
<path d="M17.5 352.1C18.8 351.9 22.8 351.1 25.3 351.0C27.8 350.9 30.2 351.2 32.6 351.4C35.0 351.6 38.7 352.0 39.9 352.1" stroke="#fbf3fb" stroke-width="1.8" fill="none" stroke-linecap="round" stroke-linejoin="round" opacity="1.0"/>
<path d="M69.6 340.4C70.6 341.2 71.8 344.6 75.5 345.5C79.2 346.4 87.0 346.1 91.5 345.5C96.0 344.9 98.4 343.2 102.5 341.9C106.6 340.6 113.8 338.2 116.0 337.5" stroke="#fbf3fb" stroke-width="0.9" fill="none" stroke-linecap="round" stroke-linejoin="round" opacity="1.0"/>
<path d="M17.5 304.8C18.3 304.7 20.8 304.5 22.4 304.1C23.9 303.7 26.1 302.9 26.8 302.6" stroke="#fbf3fb" stroke-width="1.1" fill="none" stroke-linecap="round" stroke-linejoin="round" opacity="1.0"/>
<path d="M17.5 296.0C18.6 295.9 21.8 295.7 24.0 295.7C26.2 295.7 29.8 295.9 31.0 296.0" stroke="#fbf3fb" stroke-width="0.9" fill="none" stroke-linecap="round" stroke-linejoin="round" opacity="1.0"/>
<path d="M87.2 287.3C87.2 286.5 85.9 283.3 87.2 282.4C88.5 281.4 93.7 281.7 95.0 281.6" stroke="#fbf3fb" stroke-width="1.1" fill="none" stroke-linecap="round" stroke-linejoin="round" opacity="1.0"/>
<path d="M112.0 322.2C114.3 322.3 118.7 322.1 126.0 323.0C133.3 323.9 150.8 326.6 155.8 327.3" stroke="#fbf3fb" stroke-width="0.8" fill="none" stroke-linecap="round" stroke-linejoin="round" opacity="1.0"/>
<path d="M27.5 280.0C28.4 280.5 31.2 282.1 32.6 282.9C34.0 283.6 35.4 284.2 36.0 284.5" stroke="#fbf3fb" stroke-width="1.0" fill="none" stroke-linecap="round" stroke-linejoin="round" opacity="1.0"/>
<path d="M50.1 280.0C50.5 280.7 51.4 283.2 52.3 284.4C53.2 285.6 55.0 286.6 55.5 287.0" stroke="#fbf3fb" stroke-width="1.0" fill="none" stroke-linecap="round" stroke-linejoin="round" opacity="1.0"/><path d="M140.2 357.9H159.8" stroke="#8a6a80" stroke-width="1.0"/><path d="M146.5 360.2H153.5" stroke="#6a5a70" stroke-width="0.7"/></g>
<clipPath id="clipF1"><rect x="180.5" y="279.8" width="144.00" height="82.80"/></clipPath><g clip-path="url(#clipF1)"><rect x="180.5" y="279.8" width="144.00" height="82.80" fill="#e878e6"/><rect x="180.5" y="279.8" width="144.00" height="82.80" fill="#f7e8f7"/>
<path d="M175.5 283.2L172.5 289.2L179.5 299.3L191.9 294.6L192.4 290.6L177.8 282.0Z" fill="#e879e5" stroke="#e879e5" stroke-width="1.2" stroke-linejoin="round"/>
<path d="M184.6 323.0L170.6 317.5L170.2 315.4L179.2 303.6L187.6 313.0L187.7 320.3Z" fill="#e274e2" stroke="#e274e2" stroke-width="1.2" stroke-linejoin="round"/>
<path d="M184.5 330.8L178.3 338.7L172.7 339.6L165.3 329.8L169.9 319.5L184.1 325.1Z" fill="#e771e4" stroke="#e771e4" stroke-width="1.2" stroke-linejoin="round"/>
<path d="M192.2 335.6L193.7 346.9L188.3 347.0L180.4 340.0L186.3 332.6Z" fill="#e670e4" stroke="#e670e4" stroke-width="1.2" stroke-linejoin="round"/>
<path d="M186.7 348.7L181.4 356.7L175.4 358.6L167.7 354.4L172.9 342.3L178.5 341.4Z" fill="#e26fe2" stroke="#e26fe2" stroke-width="1.2" stroke-linejoin="round"/>
<path d="M191.4 365.7L184.0 372.0L178.8 368.7L176.8 361.0L182.5 359.1L191.4 365.4Z" fill="#e474e5" stroke="#e474e5" stroke-width="1.2" stroke-linejoin="round"/>
<path d="M179.4 280.9L193.3 289.1L195.6 284.2L194.7 277.4L182.9 277.5Z" fill="#e476e7" stroke="#e476e7" stroke-width="1.2" stroke-linejoin="round"/>
<path d="M207.3 292.4L205.3 287.4L197.5 286.1L195.3 290.8L194.8 294.5L197.1 296.4Z" fill="#e476e6" stroke="#e476e6" stroke-width="1.2" stroke-linejoin="round"/>
<path d="M199.6 305.6L189.0 310.9L180.8 301.7L180.9 301.2L193.0 296.5L195.3 298.5Z" fill="#e777e8" stroke="#e777e8" stroke-width="1.2" stroke-linejoin="round"/>
<path d="M201.0 307.6L190.6 312.8L190.7 319.9L201.5 320.2L203.6 315.0L202.2 308.5Z" fill="#e674e6" stroke="#e674e6" stroke-width="1.2" stroke-linejoin="round"/>
<path d="M200.7 322.5L189.8 322.1L186.8 324.8L187.1 330.2L193.2 333.3L203.7 329.8Z" fill="#e671e5" stroke="#e671e5" stroke-width="1.2" stroke-linejoin="round"/>
<path d="M201.9 349.5L196.1 346.9L194.6 335.3L205.3 331.8L208.8 334.7L208.0 339.2Z" fill="#e97ae8" stroke="#e97ae8" stroke-width="1.2" stroke-linejoin="round"/>
<path d="M201.0 353.2L193.2 363.5L184.1 357.1L189.2 349.4L194.7 349.2L200.5 351.8Z" fill="#e876e4" stroke="#e876e4" stroke-width="1.2" stroke-linejoin="round"/>
<path d="M202.4 354.9L194.3 365.7L194.3 365.9L203.0 375.9L204.6 375.9L215.0 364.2Z" fill="#e272e5" stroke="#e272e5" stroke-width="1.2" stroke-linejoin="round"/>
<path d="M197.2 276.4L198.1 283.6L206.6 285.0L212.7 279.1L211.5 270.1L204.7 264.6Z" fill="#e77cea" stroke="#e77cea" stroke-width="1.2" stroke-linejoin="round"/>
<path d="M210.5 292.4L208.4 287.3L214.3 281.6L223.6 292.3L219.9 297.5L219.3 297.5Z" fill="#e372e7" stroke="#e372e7" stroke-width="1.2" stroke-linejoin="round"/>
<path d="M202.4 305.2L198.2 298.2L208.8 294.1L217.6 299.1L203.6 306.1Z" fill="#e477e8" stroke="#e477e8" stroke-width="1.2" stroke-linejoin="round"/>
<path d="M205.0 307.5L206.5 314.3L223.2 315.6L224.8 314.5L220.1 300.2L219.5 300.2Z" fill="#e476e4" stroke="#e476e4" stroke-width="1.2" stroke-linejoin="round"/>
<path d="M203.4 322.0L205.6 316.7L222.2 318.0L213.9 331.2L210.1 332.5L206.5 329.6Z" fill="#e777e7" stroke="#e777e7" stroke-width="1.2" stroke-linejoin="round"/>
<path d="M210.8 339.2L211.7 334.8L215.5 333.4L229.0 339.8L229.1 340.2L223.5 348.8Z" fill="#e772e2" stroke="#e772e2" stroke-width="1.2" stroke-linejoin="round"/>
<path d="M204.0 353.2L216.6 362.4L218.7 362.4L221.6 358.2L222.8 351.2L209.7 341.2L203.4 351.7Z" fill="#e578ea" stroke="#e578ea" stroke-width="1.2" stroke-linejoin="round"/>
<path d="M221.2 363.8L228.7 372.6L231.1 374.0L241.0 360.0L240.1 357.6L224.1 359.7Z" fill="#e674e4" stroke="#e674e4" stroke-width="1.2" stroke-linejoin="round"/>
<path d="M225.0 290.8L227.8 289.5L233.9 274.1L225.0 270.6L214.0 270.3L215.2 279.5Z" fill="#e272e6" stroke="#e272e6" stroke-width="1.2" stroke-linejoin="round"/>
<path d="M251.3 288.6L246.8 279.7L237.9 274.1L236.2 274.8L230.1 290.3L241.3 295.0L245.4 293.5Z" fill="#e670e2" stroke="#e670e2" stroke-width="1.2" stroke-linejoin="round"/>
<path d="M222.0 299.4L226.9 314.2L238.5 318.0L239.4 316.6L240.2 297.4L228.8 292.6L226.0 293.9Z" fill="#e478e6" stroke="#e478e6" stroke-width="1.2" stroke-linejoin="round"/>
<path d="M253.3 308.6L241.3 315.9L242.0 297.9L245.9 296.4Z" fill="#e773e8" stroke="#e773e8" stroke-width="1.2" stroke-linejoin="round"/>
<path d="M216.4 331.2L224.9 317.7L226.6 316.6L238.1 320.3L238.4 321.1L230.6 337.9Z" fill="#e674e3" stroke="#e674e3" stroke-width="1.2" stroke-linejoin="round"/>
<path d="M244.1 346.9L232.4 340.0L232.4 339.7L240.2 322.8L255.2 333.8L255.4 334.4L244.6 346.6Z" fill="#e97aeb" stroke="#e97aeb" stroke-width="1.2" stroke-linejoin="round"/>
<path d="M225.5 350.7L231.2 341.9L242.4 348.6L240.3 355.5L224.4 357.6Z" fill="#e874e4" stroke="#e874e4" stroke-width="1.2" stroke-linejoin="round"/>
<path d="M259.1 357.5L245.5 349.4L245.1 349.6L243.0 356.4L243.9 358.7L249.6 363.5L259.5 360.7Z" fill="#e778e7" stroke="#e778e7" stroke-width="1.2" stroke-linejoin="round"/>
<path d="M248.0 366.0L245.4 375.1L233.4 375.6L232.7 374.8L242.4 361.1Z" fill="#e776e5" stroke="#e776e5" stroke-width="1.2" stroke-linejoin="round"/>
<path d="M258.8 288.9L268.0 279.5L258.7 272.5L249.1 279.3L253.5 288.0Z" fill="#e878e7" stroke="#e878e7" stroke-width="1.2" stroke-linejoin="round"/>
<path d="M257.0 307.3L255.0 307.7L247.6 295.3L253.2 290.7L258.5 291.6L262.7 299.5Z" fill="#e677e7" stroke="#e677e7" stroke-width="1.2" stroke-linejoin="round"/>
<path d="M259.3 308.9L265.0 301.0L276.0 304.0L276.2 304.3L277.2 313.1L276.8 313.6L264.0 314.8Z" fill="#e677e4" stroke="#e677e4" stroke-width="1.2" stroke-linejoin="round"/>
<path d="M256.4 310.5L254.4 310.8L241.9 318.3L241.0 319.7L241.3 320.5L256.1 331.3L257.6 329.0L261.2 316.5Z" fill="#e570e5" stroke="#e570e5" stroke-width="1.2" stroke-linejoin="round"/>
<path d="M264.6 337.7L276.3 330.6L274.9 321.2L259.7 330.6L258.2 332.8L258.5 333.5Z" fill="#e173e3" stroke="#e173e3" stroke-width="1.2" stroke-linejoin="round"/>
<path d="M260.7 355.8L264.8 342.4L263.6 339.8L257.3 335.4L246.8 347.3Z" fill="#e775e8" stroke="#e775e8" stroke-width="1.2" stroke-linejoin="round"/>
<path d="M262.2 357.6L266.4 344.1L279.3 350.5L278.8 356.3L271.7 365.1L266.7 364.5L262.7 361.0Z" fill="#e576e4" stroke="#e576e4" stroke-width="1.2" stroke-linejoin="round"/>
<path d="M260.8 362.9L264.7 366.4L255.8 382.6L247.8 375.3L250.5 365.8Z" fill="#e672e2" stroke="#e672e2" stroke-width="1.2" stroke-linejoin="round"/>
<path d="M272.9 278.8L279.6 288.8L288.3 286.3L282.0 274.3L278.0 273.3L277.7 273.4Z" fill="#e574e8" stroke="#e574e8" stroke-width="1.2" stroke-linejoin="round"/>
<path d="M276.0 301.4L278.3 290.7L271.3 280.3L269.9 280.6L260.6 290.2L264.9 298.4Z" fill="#e171e5" stroke="#e171e5" stroke-width="1.2" stroke-linejoin="round"/>
<path d="M279.0 304.4L295.7 300.9L300.0 311.9L299.9 313.1L284.1 314.4L280.0 313.3Z" fill="#e678e6" stroke="#e678e6" stroke-width="1.2" stroke-linejoin="round"/>
<path d="M264.0 316.8L260.6 328.4L275.3 319.4L276.1 315.7Z" fill="#e376e7" stroke="#e376e7" stroke-width="1.2" stroke-linejoin="round"/>
<path d="M279.1 315.5L283.1 316.5L291.6 331.9L287.4 333.3L279.2 329.2L277.8 319.9L278.6 316.0Z" fill="#e173e5" stroke="#e173e5" stroke-width="1.2" stroke-linejoin="round"/>
<path d="M280.5 348.0L286.7 336.2L278.2 332.0L266.2 339.3L267.5 342.0L280.1 348.2Z" fill="#eb79ea" stroke="#eb79ea" stroke-width="1.2" stroke-linejoin="round"/>
<path d="M298.4 358.3L297.1 352.6L282.6 350.2L282.2 350.4L281.7 356.0L290.5 361.0Z" fill="#e270e2" stroke="#e270e2" stroke-width="1.2" stroke-linejoin="round"/>
<path d="M286.5 372.5L280.3 375.2L273.6 366.5L280.5 357.9L289.5 363.1Z" fill="#e576e6" stroke="#e576e6" stroke-width="1.2" stroke-linejoin="round"/>
<path d="M299.0 278.6L294.9 287.2L290.6 286.3L284.4 274.4L293.0 273.2L298.5 277.1Z" fill="#e877e6" stroke="#e877e6" stroke-width="1.2" stroke-linejoin="round"/>
<path d="M278.9 302.3L295.2 298.8L296.2 295.2L294.0 289.9L289.7 289.0L280.9 291.5L278.6 301.9Z" fill="#e77ae6" stroke="#e77ae6" stroke-width="1.2" stroke-linejoin="round"/>
<path d="M315.2 293.6L315.0 293.3L299.3 295.7L298.3 299.4L302.6 310.2L316.4 300.1Z" fill="#e675e7" stroke="#e675e7" stroke-width="1.2" stroke-linejoin="round"/>
<path d="M285.1 316.4L293.9 332.0L296.4 331.9L302.3 318.5L300.6 315.1Z" fill="#e373e4" stroke="#e373e4" stroke-width="1.2" stroke-linejoin="round"/>
<path d="M317.9 323.1L319.3 332.7L300.3 335.4L298.1 332.9L304.1 319.2Z" fill="#ea76e5" stroke="#ea76e5" stroke-width="1.2" stroke-linejoin="round"/>
<path d="M298.2 350.4L300.5 343.7L298.4 337.1L296.2 334.7L293.6 334.8L289.3 336.2L283.2 347.9Z" fill="#ea78e7" stroke="#ea78e7" stroke-width="1.2" stroke-linejoin="round"/>
<path d="M307.2 363.2L301.6 358.5L300.3 352.4L302.5 345.7L316.2 348.3L317.4 351.4L311.9 362.0Z" fill="#e270e5" stroke="#e270e5" stroke-width="1.2" stroke-linejoin="round"/>
<path d="M305.6 365.1L300.0 360.4L291.9 363.2L288.9 372.6L302.0 375.4Z" fill="#e677e5" stroke="#e677e5" stroke-width="1.2" stroke-linejoin="round"/>
<path d="M316.4 282.5L301.6 277.8L301.1 276.3L314.5 259.0L322.8 274.8Z" fill="#e376e5" stroke="#e376e5" stroke-width="1.2" stroke-linejoin="round"/>
<path d="M314.6 291.6L298.9 294.0L296.7 288.7L300.9 279.8L315.4 284.3Z" fill="#e670e6" stroke="#e670e6" stroke-width="1.2" stroke-linejoin="round"/>
<path d="M318.0 294.0L330.0 294.4L330.7 302.9L326.2 306.9L319.2 300.3Z" fill="#e876e8" stroke="#e876e8" stroke-width="1.2" stroke-linejoin="round"/>
<path d="M317.4 302.0L303.3 312.3L303.2 313.5L304.9 317.1L318.8 321.0L325.3 314.3L324.9 309.1Z" fill="#e977e9" stroke="#e977e9" stroke-width="1.2" stroke-linejoin="round"/>
<path d="M327.1 316.2L338.1 320.5L340.1 325.1L325.0 333.3L322.2 332.6L322.0 332.3L320.7 322.8Z" fill="#e679e8" stroke="#e679e8" stroke-width="1.2" stroke-linejoin="round"/>
<path d="M319.8 334.6L319.6 334.2L301.3 336.9L303.3 343.4L316.7 345.9Z" fill="#e978e9" stroke="#e978e9" stroke-width="1.2" stroke-linejoin="round"/>
<path d="M337.3 346.2L337.7 344.3L324.8 335.9L322.2 335.3L319.0 346.8L320.2 349.9L328.1 351.4Z" fill="#e771e3" stroke="#e771e3" stroke-width="1.2" stroke-linejoin="round"/>
<path d="M314.1 362.7L319.5 352.4L327.4 353.9L329.2 362.6L322.9 368.1Z" fill="#e87ce8" stroke="#e87ce8" stroke-width="1.2" stroke-linejoin="round"/>
<path d="M317.9 291.7L317.7 291.3L318.5 283.9L324.8 276.4L331.4 277.4L335.5 283.1L335.7 286.4L330.5 292.1Z" fill="#e67aea" stroke="#e67aea" stroke-width="1.2" stroke-linejoin="round"/>
<path d="M326.7 334.4L341.7 326.4L348.3 333.6L339.5 342.7Z" fill="#e779e6" stroke="#e779e6" stroke-width="1.2" stroke-linejoin="round"/>
<path d="M209.5 333.8h1M316.7 283.7h1M276.3 319.2h1M201.9 353.0h1M245.5 294.7h1M258.6 290.2h1M230.3 339.9h1M262.3 316.0h1M256.3 333.2h1M258.6 290.2h1M298.6 336.4h1M317.1 347.3h1M252.2 289.1h1M219.6 298.8h1M208.9 292.6h1M290.4 362.4h1M239.3 320.7h1M316.7 283.7h1M244.2 347.9h1M227.9 291.0h1M277.9 313.9h1M208.5 339.2h1M315.7 292.3h1M301.2 312.3h1M319.0 322.3h1M201.0 306.3h1M201.3 351.3h1M256.3 333.2h1M204.3 315.3h1M261.1 361.6h1M241.2 356.4h1M187.8 348.5h1M280.3 349.5h1M219.6 298.8h1M277.4 314.5h1M244.2 347.9h1M280.3 349.5h1M227.9 291.0h1M287.9 335.4h1M223.8 316.7h1M223.8 316.7h1M252.2 289.1h1M261.1 361.6h1M188.5 321.1h1M206.3 286.4h1M265.3 342.1h1M224.7 292.5h1M317.4 300.4h1M277.9 313.9h1M205.3 330.4h1M317.4 300.4h1M303.0 317.8h1M238.9 319.7h1M301.2 312.3h1M187.8 348.5h1M279.7 356.2h1M298.4 352.1h1M225.7 315.5h1M196.5 284.8h1M263.5 299.6h1M239.9 318.2h1M320.5 333.3h1M206.3 286.4h1M297.3 295.1h1" stroke="#6a3c9a" stroke-width="0.9" stroke-linecap="round" fill="none" opacity="0.75"/>
<path d="M183.9 280.3C185.4 281.4 189.2 284.3 192.9 286.7C196.6 289.1 201.5 292.1 205.8 294.5C210.1 296.9 215.3 299.0 218.7 300.9C222.1 302.8 223.2 305.4 226.4 306.0C229.6 306.6 233.4 305.1 238.0 304.8C242.6 304.5 248.4 304.5 254.0 304.1C259.6 303.7 265.2 302.8 271.3 302.2C277.4 301.6 285.3 300.5 290.7 300.3C296.1 300.1 299.2 300.1 303.5 300.9C307.8 301.6 312.6 303.5 316.4 304.8C320.1 306.1 324.4 308.0 326.0 308.6" stroke="#fbf3fb" stroke-width="3.2" fill="none" stroke-linecap="round" stroke-linejoin="round" opacity="1.0"/>
<path d="M223.8 279.0C225.1 280.7 229.1 285.9 231.5 289.3C233.9 292.7 236.6 297.3 238.0 299.6C239.4 301.9 239.7 302.4 240.0 303.0" stroke="#fbf3fb" stroke-width="2.6" fill="none" stroke-linecap="round" stroke-linejoin="round" opacity="1.0"/>
<path d="M180.0 348.6C182.2 346.7 188.6 340.2 192.9 337.0C197.2 333.8 201.9 332.1 205.8 329.3C209.7 326.5 212.7 323.2 216.1 320.2C219.5 317.2 223.8 313.1 226.4 311.2C229.0 309.3 229.2 309.4 231.5 308.6C233.8 307.8 238.6 306.9 240.0 306.5" stroke="#fbf3fb" stroke-width="3.6" fill="none" stroke-linecap="round" stroke-linejoin="round" opacity="1.0"/>
<path d="M201.9 361.5C204.7 360.6 213.3 357.7 218.7 356.3C224.1 354.9 228.2 354.2 234.1 353.1C240.0 352.0 246.7 350.5 254.0 349.9C261.3 349.2 270.6 348.8 277.8 349.2C285.0 349.6 289.1 352.2 297.1 352.5C305.1 352.8 321.2 351.4 326.0 351.2" stroke="#fbf3fb" stroke-width="3.0" fill="none" stroke-linecap="round" stroke-linejoin="round" opacity="1.0"/>
<path d="M252.0 309.9C256.3 309.5 269.2 307.8 277.8 307.4C286.4 307.0 295.5 306.8 303.5 307.5C311.5 308.2 322.2 310.8 326.0 311.5" stroke="#fbf3fb" stroke-width="1.6" fill="none" stroke-linecap="round" stroke-linejoin="round" opacity="1.0"/>
<path d="M297.1 279.0C297.3 280.7 298.8 286.3 298.4 289.3C298.0 292.3 295.1 295.7 294.5 297.0" stroke="#fbf3fb" stroke-width="1.8" fill="none" stroke-linecap="round" stroke-linejoin="round" opacity="1.0"/>
<path d="M259.7 311.2C261.6 312.3 267.2 315.5 271.3 317.7C275.4 319.9 280.6 322.2 284.2 324.1C287.8 326.0 286.2 328.6 293.2 329.3C300.2 330.1 320.5 328.7 326.0 328.6" stroke="#fbf3fb" stroke-width="1.8" fill="none" stroke-linecap="round" stroke-linejoin="round" opacity="1.0"/>
<path d="M293.2 329.3C291.7 331.0 286.8 336.4 284.2 339.6C281.6 342.8 278.9 347.1 277.8 348.6" stroke="#fbf3fb" stroke-width="1.6" fill="none" stroke-linecap="round" stroke-linejoin="round" opacity="1.0"/><path d="M262.0 304.5C265.0 304.1 273.7 302.6 280.0 302.3C286.3 302.0 293.7 302.1 300.0 302.8C306.3 303.5 315.0 305.9 318.0 306.5" stroke="#e9a9ea" stroke-width="2.2" fill="none" stroke-linecap="round" stroke-linejoin="round" opacity="0.8"/><path d="M237.7 298.0L245.6 304.4" stroke="#1f3fe0" stroke-width="1.5"/><path d="M246.4 305.0L242.5 304.1L244.7 301.4Z" fill="#1f3fe0"/><path d="M281.9 293.4L289.8 299.6" stroke="#1f3fe0" stroke-width="1.5"/><path d="M290.6 300.2L286.7 299.4L288.8 296.6Z" fill="#1f3fe0"/></g>
<clipPath id="clipF2"><rect x="18.0" y="367.4" width="144.00" height="84.30"/></clipPath><g clip-path="url(#clipF2)"><rect x="18.0" y="367.4" width="144.00" height="84.30" fill="#e878e6"/><path d="M18.0 367.4L18.0 375.4L22.0 374.9L19.8 367.4Z" fill="#eb83f1"/>
<path d="M18.0 375.4L18.0 385.0L20.7 386.2L26.0 379.5L26.7 376.9L22.0 374.9Z" fill="#ec6bec"/>
<path d="M18.0 392.7L21.2 392.2L20.7 386.2L18.0 385.0Z" fill="#ee8ee8"/>
<path d="M18.0 403.7L18.0 392.7L21.2 392.2L25.0 396.0L24.9 399.2L19.4 403.8Z" fill="#ea68e8"/>
<path d="M18.0 403.7L19.4 403.8L20.7 414.6L20.6 414.6L18.0 416.3Z" fill="#ec6bea"/>
<path d="M18.0 416.3L20.6 414.6L29.8 424.3L26.1 428.2L21.2 425.6L18.0 421.2Z" fill="#eb6ceb"/>
<path d="M18.0 428.1L21.2 425.6L18.0 421.2Z" fill="#e968ea"/>
<path d="M18.0 434.9L18.0 444.0L21.3 444.8L22.9 443.8L22.4 436.3Z" fill="#e967ec"/>
<path d="M18.0 444.0L21.3 444.8L18.9 448.6L18.0 449.0Z" fill="#e762e8"/>
<path d="M18.0 451.7L18.0 449.0L18.9 448.6L19.9 451.7Z" fill="#ec66e6"/>
<path d="M19.8 367.4L29.0 367.4L27.3 376.6L26.7 376.9L22.0 374.9Z" fill="#ef6aed"/>
<path d="M39.3 385.8L32.0 390.4L26.0 379.5L26.7 376.9L27.3 376.6L36.6 377.6Z" fill="#f068ea"/>
<path d="M32.0 390.4L30.9 392.5L25.0 396.0L21.2 392.2L20.7 386.2L26.0 379.5Z" fill="#ec6bee"/>
<path d="M37.0 404.5L35.2 395.5L30.9 392.5L25.0 396.0L24.9 399.2L32.1 406.1Z" fill="#eb62e5"/>
<path d="M20.7 414.6L30.7 411.3L32.1 406.1L24.9 399.2L19.4 403.8Z" fill="#ea68e9"/>
<path d="M20.7 414.6L30.7 411.3L33.5 415.5L33.9 423.0L29.8 424.3L20.6 414.6Z" fill="#ed6ae8"/>
<path d="M26.1 428.2L25.4 433.4L22.4 436.3L18.0 434.9L18.0 428.1L21.2 425.6Z" fill="#eb68ec"/>
<path d="M25.4 433.4L35.7 436.8L36.8 442.5L36.5 443.0L26.2 445.6L22.9 443.8L22.4 436.3Z" fill="#eb65ec"/>
<path d="M19.9 451.7L18.9 448.6L21.3 444.8L22.9 443.8L26.2 445.6L27.7 451.7Z" fill="#f16cea"/>
<path d="M40.8 373.2L36.8 367.4L44.3 367.4L42.7 372.7Z" fill="#ec65e9"/>
<path d="M40.8 373.2L36.8 367.4L29.0 367.4L27.3 376.6L36.6 377.6Z" fill="#eb68ec"/>
<path d="M48.9 385.4L49.0 374.9L42.7 372.7L40.8 373.2L36.6 377.6L39.3 385.8L43.6 388.0Z" fill="#ed66ec"/>
<path d="M43.6 388.0L44.0 395.2L35.2 395.5L30.9 392.5L32.0 390.4L39.3 385.8Z" fill="#ea66e7"/>
<path d="M42.5 404.7L45.9 399.4L44.0 395.2L35.2 395.5L37.0 404.5Z" fill="#e964e8"/>
<path d="M45.3 412.0L33.5 415.5L30.7 411.3L32.1 406.1L37.0 404.5L42.5 404.7Z" fill="#ea68eb"/>
<path d="M36.2 424.1L45.6 421.7L48.1 414.9L45.3 412.0L33.5 415.5L33.9 423.0Z" fill="#ea62e7"/>
<path d="M26.1 428.2L29.8 424.3L33.9 423.0L36.2 424.1L37.9 433.0L35.7 436.8L25.4 433.4Z" fill="#f06beb"/>
<path d="M37.9 433.0L47.9 432.8L45.0 441.8L36.8 442.5L35.7 436.8Z" fill="#ec66ea"/>
<path d="M38.3 451.7L27.7 451.7L26.2 445.6L36.5 443.0L38.3 451.7Z" fill="#ec66e8"/>
<path d="M38.5 451.7L38.3 451.7L38.3 451.7Z" fill="#e969e7"/>
<path d="M55.3 367.4L55.2 368.0L54.6 367.4Z" fill="#eb66e8"/>
<path d="M42.7 372.7L44.3 367.4L54.6 367.4L55.2 368.0L55.5 368.5L52.9 373.3L49.0 374.9Z" fill="#ea67e8"/>
<path d="M48.9 385.4L55.3 387.3L59.1 384.9L59.7 380.0L52.9 373.3L49.0 374.9Z" fill="#ef8aec"/>
<path d="M46.2 399.4L45.9 399.4L44.0 395.2L43.6 388.0L48.9 385.4L55.3 387.3L55.7 395.3Z" fill="#eb68e9"/>
<path d="M56.8 407.1L46.2 399.4L55.7 395.3L56.9 396.2L61.0 405.2L60.9 405.4Z" fill="#f169ee"/>
<path d="M50.6 414.4L48.1 414.9L45.3 412.0L42.5 404.7L45.9 399.4L46.2 399.4L56.8 407.1Z" fill="#f16eee"/>
<path d="M52.6 415.6L59.1 423.8L51.5 430.7L50.9 430.5L45.6 421.7L48.1 414.9L50.6 414.4Z" fill="#ec68ec"/>
<path d="M36.2 424.1L45.6 421.7L50.9 430.5L47.9 432.8L37.9 433.0Z" fill="#ed84e9"/>
<path d="M50.9 430.5L47.9 432.8L45.0 441.8L48.5 444.8L56.8 442.5L56.3 435.7L51.5 430.7Z" fill="#eb6ce8"/>
<path d="M48.5 444.8L45.0 441.8L36.8 442.5L36.5 443.0L38.3 451.7L38.5 451.7L47.1 451.7L47.2 451.6Z" fill="#ee6beb"/>
<path d="M47.1 451.7L47.2 451.6L55.3 451.7Z" fill="#ee67e8"/>
<path d="M55.3 367.4L60.8 367.4L60.5 367.8L55.5 368.5L55.2 368.0Z" fill="#eb6ae9"/>
<path d="M60.5 367.8L66.8 374.8L59.7 380.0L52.9 373.3L55.5 368.5Z" fill="#e96ae9"/>
<path d="M67.0 387.1L63.8 387.0L59.1 384.9L59.7 380.0L66.8 374.8L69.6 375.1Z" fill="#ed6de9"/>
<path d="M56.9 396.2L62.5 394.4L63.8 387.0L59.1 384.9L55.3 387.3L55.7 395.3Z" fill="#ee69ee"/>
<path d="M61.0 405.2L56.9 396.2L62.5 394.4L69.1 397.2L69.5 400.3Z" fill="#eb65e7"/>
<path d="M52.6 415.6L63.7 415.6L64.9 412.4L60.9 405.4L56.8 407.1L50.6 414.4Z" fill="#eb6beb"/>
<path d="M52.6 415.6L59.1 423.8L64.3 423.2L63.7 415.6Z" fill="#ef69ec"/>
<path d="M51.5 430.7L56.3 435.7L65.8 432.4L67.3 425.3L64.3 423.2L59.1 423.8Z" fill="#ea69ec"/>
<path d="M69.7 438.1L65.8 432.4L56.3 435.7L56.8 442.5L58.2 443.9L70.0 439.3Z" fill="#ec68eb"/>
<path d="M56.8 442.5L48.5 444.8L47.2 451.6L55.3 451.7L60.6 451.7L60.6 451.7L58.2 443.9Z" fill="#ee88f2"/>
<path d="M60.8 451.7L60.6 451.7L60.6 451.7Z" fill="#ea67e8"/>
<path d="M76.4 367.4L76.3 367.9L75.9 368.3L73.9 367.4Z" fill="#e964e7"/>
<path d="M74.1 373.9L75.9 368.3L73.9 367.4L60.8 367.4L60.5 367.8L66.8 374.8L69.6 375.1Z" fill="#ea6ae9"/>
<path d="M79.3 381.1L74.1 373.9L69.6 375.1L67.0 387.1L71.5 389.8L78.1 385.5Z" fill="#ec82ee"/>
<path d="M71.5 389.8L67.0 387.1L63.8 387.0L62.5 394.4L69.1 397.2L71.5 390.0Z" fill="#ef69ea"/>
<path d="M71.5 390.0L69.1 397.2L69.5 400.3L75.5 403.8L78.4 402.0L78.5 396.5Z" fill="#ea67ea"/>
<path d="M64.9 412.4L75.6 412.1L75.5 403.8L69.5 400.3L61.0 405.2L60.9 405.4Z" fill="#ec69e7"/>
<path d="M64.9 412.4L75.6 412.1L78.7 416.5L78.2 420.5L72.3 424.2L67.3 425.3L64.3 423.2L63.7 415.6Z" fill="#ee6cea"/>
<path d="M69.7 438.1L65.8 432.4L67.3 425.3L72.3 424.2L75.1 432.6Z" fill="#ed68eb"/>
<path d="M69.7 438.1L75.1 432.6L80.1 434.0L79.3 440.0L73.4 443.0L70.0 439.3Z" fill="#e766e6"/>
<path d="M70.0 439.3L58.2 443.9L60.6 451.7L60.8 451.7L69.6 451.7L73.2 447.4L73.4 443.0Z" fill="#ea64e9"/>
<path d="M69.6 451.7L73.2 447.4L79.6 450.1L79.8 451.7Z" fill="#ea8dec"/>
<path d="M86.0 367.4L84.4 368.0L76.3 367.9L76.4 367.4Z" fill="#e887ed"/>
<path d="M81.0 380.9L86.1 377.5L84.4 368.0L76.3 367.9L75.9 368.3L74.1 373.9L79.3 381.1Z" fill="#ed6deb"/>
<path d="M93.6 387.4L93.4 387.6L81.0 380.9L86.1 377.5L94.8 375.8L94.9 376.0Z" fill="#eb87ec"/>
<path d="M78.1 385.5L71.5 389.8L71.5 390.0L78.5 396.5L82.4 391.0Z" fill="#ed6eeb"/>
<path d="M86.1 401.5L78.4 402.0L78.5 396.5L82.4 391.0L87.3 393.2Z" fill="#eb67e9"/>
<path d="M86.1 401.5L78.4 402.0L75.5 403.8L75.6 412.1L78.7 416.5L83.3 414.4L89.5 405.9L89.4 404.7Z" fill="#ec85ee"/>
<path d="M83.3 414.4L78.7 416.5L78.2 420.5L84.9 427.3L92.6 424.3L94.5 418.0Z" fill="#ed6de9"/>
<path d="M80.1 434.0L84.9 428.9L84.9 427.3L78.2 420.5L72.3 424.2L75.1 432.6Z" fill="#e58dea"/>
<path d="M79.3 440.0L87.2 442.8L88.0 433.5L84.9 428.9L80.1 434.0Z" fill="#ec62e6"/>
<path d="M73.4 443.0L73.2 447.4L79.6 450.1L87.3 448.1L87.4 443.0L87.2 442.8L79.3 440.0Z" fill="#ed65ec"/>
<path d="M89.9 451.7L87.3 448.1L79.6 450.1L79.8 451.7Z" fill="#ec65e9"/>
<path d="M91.8 367.4L93.9 370.4L100.3 367.4Z" fill="#ec6ced"/>
<path d="M94.8 375.8L93.9 370.4L91.8 367.4L86.0 367.4L84.4 368.0L86.1 377.5Z" fill="#eb67e9"/>
<path d="M103.7 386.7L93.6 387.4L94.9 376.0L102.8 377.0L103.5 377.7L106.0 383.7Z" fill="#eb6bee"/>
<path d="M87.3 393.2L82.4 391.0L78.1 385.5L79.3 381.1L81.0 380.9L93.4 387.6L92.7 390.1Z" fill="#f068e9"/>
<path d="M86.1 401.5L87.3 393.2L92.7 390.1L99.8 399.4L89.4 404.7Z" fill="#ec66e7"/>
<path d="M83.3 414.4L94.5 418.0L98.1 414.8L89.5 405.9Z" fill="#e866ea"/>
<path d="M106.3 422.7L103.3 428.2L95.9 427.0L92.6 424.3L94.5 418.0L98.1 414.8L98.8 414.7Z" fill="#ea64eb"/>
<path d="M95.9 427.0L94.3 434.4L88.0 433.5L84.9 428.9L84.9 427.3L92.6 424.3Z" fill="#ec6aeb"/>
<path d="M87.2 442.8L87.4 443.0L98.7 439.7L98.8 439.4L94.3 434.4L88.0 433.5Z" fill="#eb68e8"/>
<path d="M99.6 442.0L98.2 451.7L89.9 451.7L87.3 448.1L87.4 443.0L98.7 439.7Z" fill="#e686e6"/>
<path d="M102.8 377.0L107.5 367.4L100.3 367.4L93.9 370.4L94.8 375.8L94.9 376.0Z" fill="#ea64e8"/>
<path d="M106.0 383.7L113.9 384.7L118.2 375.1L118.1 374.4L103.5 377.7Z" fill="#ed63e6"/>
<path d="M99.8 399.4L102.2 400.0L105.5 397.2L103.7 386.7L93.6 387.4L93.4 387.6L92.7 390.1Z" fill="#ea6ae9"/>
<path d="M104.3 408.0L102.2 400.0L105.5 397.2L113.5 395.9L115.1 406.6Z" fill="#ee6eec"/>
<path d="M89.4 404.7L89.5 405.9L98.1 414.8L98.8 414.7L104.3 408.0L104.3 408.0L102.2 400.0L99.8 399.4Z" fill="#e982e7"/>
<path d="M106.3 422.7L98.8 414.7L104.3 408.0L112.0 416.0L106.8 422.6Z" fill="#ef6eec"/>
<path d="M103.3 428.2L104.6 433.8L98.8 439.4L94.3 434.4L95.9 427.0Z" fill="#eb6cef"/>
<path d="M98.8 439.4L98.7 439.7L99.6 442.0L110.3 446.0L112.7 444.0L113.3 442.7L113.6 436.7L104.6 433.8Z" fill="#f16eed"/>
<path d="M99.6 442.0L98.2 451.7L108.1 451.7L110.3 446.0Z" fill="#f06bea"/>
<path d="M107.9 367.4L118.1 374.3L122.0 368.9L122.6 367.4Z" fill="#eb69eb"/>
<path d="M102.8 377.0L107.5 367.4L107.9 367.4L118.1 374.3L118.1 374.4L103.5 377.7Z" fill="#eb6beb"/>
<path d="M120.3 376.5L124.8 385.0L114.7 386.3L113.9 384.7L118.2 375.1Z" fill="#ec6bed"/>
<path d="M103.7 386.7L105.5 397.2L113.5 395.9L116.1 393.7L114.7 386.3L113.9 384.7L106.0 383.7Z" fill="#ee6aed"/>
<path d="M122.7 395.3L116.1 393.7L113.5 395.9L115.1 406.6L117.2 408.2L122.9 406.8Z" fill="#ed6eea"/>
<path d="M112.0 416.0L115.7 415.2L117.2 408.2L115.1 406.6L104.3 408.0L104.3 408.0Z" fill="#e98aef"/>
<path d="M122.0 423.2L118.4 427.7L106.8 422.6L112.0 416.0L115.7 415.2L122.2 421.4Z" fill="#ed6aeb"/>
<path d="M106.3 422.7L103.3 428.2L104.6 433.8L113.6 436.7L117.9 433.2L118.4 427.7L106.8 422.6Z" fill="#eb68e9"/>
<path d="M117.9 433.2L113.6 436.7L113.3 442.7L127.9 445.9L126.0 437.6Z" fill="#ec67ec"/>
<path d="M112.7 444.0L118.9 451.1L117.4 451.7L108.1 451.7L110.3 446.0Z" fill="#ea69eb"/>
<path d="M117.4 451.7L118.9 451.1L120.2 451.7Z" fill="#ef6be8"/>
<path d="M134.7 380.3L120.3 376.5L118.2 375.1L118.1 374.4L118.1 374.3L122.0 368.9L135.4 377.4L135.6 378.1Z" fill="#ec6ced"/>
<path d="M134.7 382.2L134.7 380.3L120.3 376.5L124.8 385.0L128.3 387.2Z" fill="#ec64e6"/>
<path d="M128.3 387.2L124.8 385.0L114.7 386.3L116.1 393.7L122.7 395.3L125.8 394.2Z" fill="#eb65ea"/>
<path d="M129.3 410.3L122.9 406.8L122.7 395.3L125.8 394.2L134.2 398.9Z" fill="#e868eb"/>
<path d="M122.2 421.4L115.7 415.2L117.2 408.2L122.9 406.8L129.3 410.3L130.6 413.1L130.5 413.2Z" fill="#e969ea"/>
<path d="M136.3 423.6L130.5 413.2L122.2 421.4L122.0 423.2L129.5 427.1Z" fill="#ec6cee"/>
<path d="M129.5 427.1L122.0 423.2L118.4 427.7L117.9 433.2L126.0 437.6L130.9 433.6Z" fill="#ec67ec"/>
<path d="M130.9 433.6L126.0 437.6L127.9 445.9L128.6 447.1L138.8 442.1L132.9 433.8Z" fill="#ed83f2"/>
<path d="M127.9 445.9L113.3 442.7L112.7 444.0L118.9 451.1L120.2 451.7L126.5 451.7L128.2 450.7L128.6 447.1Z" fill="#e882f1"/>
<path d="M126.5 451.7L128.2 450.7L129.3 451.7Z" fill="#ef6aeb"/>
<path d="M122.0 368.9L122.6 367.4L135.8 367.4L135.4 377.4Z" fill="#ef66eb"/>
<path d="M141.3 389.3L134.7 382.2L134.7 380.3L135.6 378.1L148.1 375.2L149.1 376.0L146.5 386.7Z" fill="#ef6ced"/>
<path d="M141.3 389.3L134.7 382.2L128.3 387.2L125.8 394.2L134.2 398.9L135.2 398.7L141.3 390.8Z" fill="#eb67ea"/>
<path d="M148.8 397.9L146.7 404.3L143.6 405.6L135.2 398.7L141.3 390.8Z" fill="#f06eec"/>
<path d="M143.6 405.6L135.2 398.7L134.2 398.9L129.3 410.3L130.6 413.1L141.0 411.6Z" fill="#ee67e9"/>
<path d="M141.3 425.8L143.8 424.2L145.8 417.9L141.0 411.6L130.6 413.1L130.5 413.2L136.3 423.6Z" fill="#ed67ec"/>
<path d="M141.3 425.8L136.3 423.6L129.5 427.1L130.9 433.6L132.9 433.8L140.5 429.4Z" fill="#ea64e9"/>
<path d="M140.5 429.4L145.3 441.1L143.8 442.1L138.8 442.1L132.9 433.8Z" fill="#ea64e9"/>
<path d="M128.6 447.1L128.2 450.7L129.3 451.7L142.5 451.7L143.8 442.1L138.8 442.1Z" fill="#ed65eb"/>
<path d="M146.4 367.4L146.3 367.4L146.3 367.4Z" fill="#f06eef"/>
<path d="M148.1 375.2L146.3 367.4L146.3 367.4L135.8 367.4L135.4 377.4L135.6 378.1Z" fill="#ed67ec"/>
<path d="M153.3 388.2L155.7 385.7L152.0 376.2L149.1 376.0L146.5 386.7Z" fill="#ef6bed"/>
<path d="M154.9 395.7L153.3 388.2L146.5 386.7L141.3 389.3L141.3 390.8L148.8 397.9Z" fill="#ef6bee"/>
<path d="M154.9 395.7L158.2 397.1L158.0 401.9L151.9 407.3L146.7 404.3L148.8 397.9Z" fill="#ec65e9"/>
<path d="M143.6 405.6L141.0 411.6L145.8 417.9L155.4 414.8L151.9 407.3L146.7 404.3Z" fill="#eb65e8"/>
<path d="M155.4 414.8L158.4 415.9L158.2 419.9L154.2 428.6L152.5 428.7L143.8 424.2L145.8 417.9Z" fill="#ea68e8"/>
<path d="M141.3 425.8L143.8 424.2L152.5 428.7L145.5 441.1L145.3 441.1L140.5 429.4Z" fill="#ea66ea"/>
<path d="M158.4 440.6L147.4 441.7L145.5 441.1L152.5 428.7L154.2 428.6L159.0 432.9Z" fill="#ee67e8"/>
<path d="M145.5 441.1L145.3 441.1L143.8 442.1L142.5 451.7L152.5 451.7L147.4 441.7Z" fill="#ef69ec"/>
<path d="M162.0 367.4L160.8 367.4L161.6 367.8Z" fill="#e966e8"/>
<path d="M161.6 367.8L160.8 367.4L146.4 367.4L146.3 367.4L148.1 375.2L149.1 376.0L152.0 376.2L161.2 372.4Z" fill="#e869ea"/>
<path d="M162.0 373.5L162.0 384.1L160.4 385.1L155.7 385.7L152.0 376.2L161.2 372.4Z" fill="#eb68eb"/>
<path d="M154.9 395.7L158.2 397.1L160.5 396.3L160.4 385.1L155.7 385.7L153.3 388.2Z" fill="#ec66e9"/>
<path d="M162.0 396.3L160.5 396.3L158.2 397.1L158.0 401.9L162.0 407.6Z" fill="#ed6aed"/>
<path d="M155.4 414.8L158.4 415.9L160.8 414.8L162.0 411.9L162.0 407.6L158.0 401.9L151.9 407.3Z" fill="#ee66eb"/>
<path d="M162.0 415.4L160.8 414.8L158.4 415.9L158.2 419.9L162.0 424.2Z" fill="#e968e7"/>
<path d="M162.0 431.6L159.0 432.9L154.2 428.6L158.2 419.9L162.0 424.2Z" fill="#ec6aea"/>
<path d="M162.0 431.6L159.0 432.9L158.4 440.6L162.0 444.2Z" fill="#ef8bf1"/>
<path d="M162.0 444.2L162.0 444.9L161.7 448.5L158.5 451.7L152.5 451.7L147.4 441.7L158.4 440.6Z" fill="#ec6ae8"/>
<path d="M162.0 448.7L162.0 451.7L158.5 451.7L161.7 448.5Z" fill="#ed63ec"/>
<path d="M162.0 367.4L162.0 373.5L161.2 372.4L161.6 367.8L162.0 367.4Z" fill="#ed65e9"/>
<path d="M162.0 384.1L160.4 385.1L160.5 396.3L162.0 396.3Z" fill="#eb68e8"/>
<path d="M162.0 411.9L160.8 414.8L162.0 415.4Z" fill="#ec65ea"/>
<path d="M162.0 448.7L161.7 448.5L162.0 444.9Z" fill="#ed63e5"/>
<path d="M79.6 450.1L87.3 448.1M79.6 450.1L80.9 460.7M91.7 454.2L87.3 448.1M79.6 450.1L73.2 447.4M73.2 447.4L68.5 453.0M107.4 453.7L110.3 446.0M98.1 452.1L99.6 442.0M110.3 446.0L99.6 442.0M118.9 451.1L109.1 455.1M118.9 451.1L112.7 444.0M110.3 446.0L112.7 444.0M87.4 443.0L87.3 448.1M87.4 443.0L98.7 439.7M98.7 439.7L99.6 442.0M129.9 452.2L128.2 450.7M128.2 450.7L123.7 453.3M118.9 451.1L123.7 453.3M155.9 454.3L161.7 448.5M161.7 448.5L168.8 454.2M153.3 453.3L147.4 441.7M142.1 454.9L143.8 442.1M143.8 442.1L145.3 441.1M145.3 441.1L145.5 441.1M147.4 441.7L145.5 441.1M66.8 374.8L60.5 367.8M66.8 374.8L59.7 380.0M52.9 373.3L59.7 380.0M52.9 373.3L55.5 368.5M55.5 368.5L60.5 367.8M22.2 458.7L18.9 448.6M18.9 448.6L10.5 452.2M21.3 444.8L18.9 448.6M21.3 444.8L22.9 443.8M28.4 454.3L26.2 445.6M22.9 443.8L26.2 445.6M21.3 444.8L11.1 442.4M38.3 451.7L35.2 454.6M38.3 451.7L45.5 453.7M26.2 445.6L36.5 443.0M36.5 443.0L38.3 451.7M45.0 441.8L48.5 444.8M45.0 441.8L36.8 442.5M36.8 442.5L36.5 443.0M45.5 453.7L47.2 451.6M47.2 451.6L48.5 444.8M60.6 451.7L60.5 451.8M60.6 451.7L58.2 443.9M60.5 451.8L47.2 451.6M48.5 444.8L56.8 442.5M58.2 443.9L56.8 442.5M30.7 411.3L32.1 406.1M30.7 411.3L33.5 415.5M33.5 415.5L45.3 412.0M32.1 406.1L37.0 404.5M37.0 404.5L42.5 404.7M42.5 404.7L45.3 412.0M35.2 395.5L30.9 392.5M35.2 395.5L37.0 404.5M30.9 392.5L25.0 396.0M25.0 396.0L24.9 399.2M24.9 399.2L32.1 406.1M35.2 395.5L44.0 395.2M45.9 399.4L44.0 395.2M45.9 399.4L42.5 404.7M21.2 392.2L13.7 393.3M21.2 392.2L20.7 386.2M20.7 386.2L16.2 384.2M30.9 392.5L32.0 390.4M25.0 396.0L21.2 392.2M20.7 386.2L26.0 379.5M26.0 379.5L32.0 390.4M22.0 374.9L11.7 376.3M22.0 374.9L18.8 364.1M26.7 376.9L26.0 379.5M26.7 376.9L22.0 374.9M29.3 365.9L27.3 376.6M27.3 376.6L26.7 376.9M64.3 423.2L59.1 423.8M64.3 423.2L67.3 425.3M67.3 425.3L65.8 432.4M56.3 435.7L65.8 432.4M56.3 435.7L51.5 430.7M59.1 423.8L51.5 430.7M45.0 441.8L47.9 432.8M56.3 435.7L56.8 442.5M47.9 432.8L50.9 430.5M51.5 430.7L50.9 430.5M113.3 442.7L112.7 444.0M113.3 442.7L113.6 436.7M113.6 436.7L104.6 433.8M98.7 439.7L98.8 439.4M104.6 433.8L98.8 439.4M87.4 443.0L87.2 442.8M94.3 434.4L98.8 439.4M94.3 434.4L88.0 433.5M88.0 433.5L87.2 442.8M102.2 400.0L105.5 397.2M102.2 400.0L104.3 408.0M105.5 397.2L113.5 395.9M113.5 395.9L115.1 406.6M115.1 406.6L104.3 408.0M128.2 450.7L128.6 447.1M143.8 442.1L138.8 442.1M138.8 442.1L128.6 447.1M113.3 442.7L127.9 445.9M128.6 447.1L127.9 445.9M140.3 364.7L146.3 367.4M146.3 367.4L152.4 362.8M123.3 365.2L122.0 368.9M135.9 365.7L135.4 377.4M135.4 377.4L122.0 368.9M124.8 385.0L120.3 376.5M124.8 385.0L114.7 386.3M113.9 384.7L114.7 386.3M113.9 384.7L118.2 375.1M118.2 375.1L120.3 376.5M107.7 367.3L118.1 374.3M122.0 368.9L118.1 374.3M113.5 395.9L116.1 393.7M116.1 393.7L122.7 395.3M117.2 408.2L115.1 406.6M117.2 408.2L122.9 406.8M122.9 406.8L122.7 395.3M160.8 414.8L163.1 409.2M160.8 414.8L168.3 418.0M66.8 374.8L69.6 375.1M75.9 368.3L74.1 373.9M75.9 368.3L63.9 362.8M60.5 367.8L63.9 362.8M69.6 375.1L74.1 373.9M59.7 380.0L59.1 384.9M59.1 384.9L63.8 387.0M63.8 387.0L67.0 387.1M69.6 375.1L67.0 387.1M76.7 360.7L76.3 367.9M76.3 367.9L84.4 368.0M84.4 368.0L90.6 365.8M75.9 368.3L76.3 367.9M105.0 365.2L93.9 370.4M93.9 370.4L90.6 365.8M47.4 359.7L55.2 368.0M55.2 368.0L58.1 356.1M55.5 368.5L55.2 368.0M68.5 453.0L60.6 451.7M36.8 442.5L35.7 436.8M47.9 432.8L37.9 433.0M35.7 436.8L37.9 433.0M45.6 421.7L50.9 430.5M45.6 421.7L36.2 424.1M37.9 433.0L36.2 424.1M33.5 415.5L33.9 423.0M45.3 412.0L48.1 414.9M48.1 414.9L45.6 421.7M33.9 423.0L36.2 424.1M22.4 436.3L25.4 433.4M22.4 436.3L15.5 434.1M13.4 431.6L21.2 425.6M25.4 433.4L26.1 428.2M21.2 425.6L26.1 428.2M22.9 443.8L22.4 436.3M35.7 436.8L25.4 433.4M15.7 418.0L21.2 425.6M29.8 424.3L33.9 423.0M29.8 424.3L26.1 428.2M19.4 403.8L11.2 403.0M19.4 403.8L20.7 414.6M15.7 417.6L20.6 414.6M20.6 414.6L20.7 414.6M24.9 399.2L19.4 403.8M30.7 411.3L20.7 414.6M29.8 424.3L20.6 414.6M36.6 377.6L39.3 385.8M36.6 377.6L40.8 373.2M49.0 374.9L48.9 385.4M49.0 374.9L42.7 372.7M39.3 385.8L43.6 388.0M42.7 372.7L40.8 373.2M43.6 388.0L48.9 385.4M27.3 376.6L36.6 377.6M32.0 390.4L39.3 385.8M35.2 365.0L40.8 373.2M52.9 373.3L49.0 374.9M59.1 384.9L55.3 387.3M55.3 387.3L48.9 385.4M46.6 359.6L42.7 372.7M44.0 395.2L43.6 388.0M94.3 434.4L95.9 427.0M88.0 433.5L84.9 428.9M84.9 427.3L84.9 428.9M84.9 427.3L92.6 424.3M92.6 424.3L95.9 427.0M104.6 433.8L103.3 428.2M95.9 427.0L103.3 428.2M75.1 432.6L80.1 434.0M75.1 432.6L69.7 438.1M80.1 434.0L79.3 440.0M79.3 440.0L73.4 443.0M73.4 443.0L70.0 439.3M70.0 439.3L69.7 438.1M78.2 420.5L84.9 427.3M78.2 420.5L72.3 424.2M72.3 424.2L75.1 432.6M84.9 428.9L80.1 434.0M67.3 425.3L72.3 424.2M65.8 432.4L69.7 438.1M87.2 442.8L79.3 440.0M73.2 447.4L73.4 443.0M58.2 443.9L70.0 439.3M113.6 436.7L117.9 433.2M127.9 445.9L126.0 437.6M126.0 437.6L117.9 433.2M135.4 377.4L135.6 378.1M118.1 374.4L118.1 374.3M118.1 374.4L118.2 375.1M120.3 376.5L134.7 380.3M135.6 378.1L134.7 380.3M146.3 367.4L148.1 375.2M135.6 378.1L148.1 375.2M161.2 372.4L161.6 367.8M161.2 372.4L165.1 377.6M161.6 367.8L166.1 362.9M152.0 376.2L149.1 376.0M152.0 376.2L161.2 372.4M152.4 362.8L161.6 367.8M148.1 375.2L149.1 376.0M152.0 376.2L155.7 385.7M163.9 383.0L160.4 385.1M160.4 385.1L155.7 385.7M152.5 428.7L145.5 441.1M152.5 428.7L154.2 428.6M147.4 441.7L158.4 440.6M154.2 428.6L159.0 432.9M159.0 432.9L158.4 440.6M161.7 448.5L162.0 444.3M158.4 440.6L162.0 444.3M154.2 428.6L158.2 419.9M158.2 419.9L163.8 426.2M159.0 432.9L164.1 430.7M158.4 415.9L160.8 414.8M158.4 415.9L158.2 419.9M116.1 393.7L114.7 386.3M124.8 385.0L128.3 387.2M122.7 395.3L125.8 394.2M125.8 394.2L128.3 387.2M134.7 380.3L134.7 382.2M128.3 387.2L134.7 382.2M122.9 406.8L129.3 410.3M125.8 394.2L134.2 398.9M134.2 398.9L129.3 410.3M151.9 407.3L146.7 404.3M151.9 407.3L155.4 414.8M145.8 417.9L141.0 411.6M145.8 417.9L155.4 414.8M141.0 411.6L143.6 405.6M146.7 404.3L143.6 405.6M158.4 415.9L155.4 414.8M158.0 401.9L163.1 409.2M158.0 401.9L151.9 407.3M152.5 428.7L143.8 424.2M143.8 424.2L145.8 417.9M135.2 398.7L134.2 398.9M135.2 398.7L143.6 405.6M130.6 413.1L141.0 411.6M130.6 413.1L129.3 410.3M158.0 401.9L158.2 397.1M160.5 396.3L158.2 397.1M160.5 396.3L166.3 396.2M160.4 385.1L160.5 396.3M93.9 370.4L94.8 375.8M84.4 368.0L86.1 377.5M86.1 377.5L94.8 375.8M45.9 399.4L46.2 399.4M55.3 387.3L55.7 395.3M55.7 395.3L46.2 399.4M63.8 387.0L62.5 394.4M62.5 394.4L56.9 396.2M55.7 395.3L56.9 396.2M62.5 394.4L69.1 397.2M69.1 397.2L69.5 400.3M56.9 396.2L61.0 405.2M69.5 400.3L61.0 405.2M98.1 414.8L94.5 418.0M98.1 414.8L89.5 405.9M94.5 418.0L83.3 414.4M89.5 405.9L83.3 414.4M78.7 416.5L83.3 414.4M78.7 416.5L78.2 420.5M92.6 424.3L94.5 418.0M104.3 408.0L112.0 416.0M104.3 408.0L98.8 414.7M98.8 414.7L106.3 422.7M112.0 416.0L106.8 422.6M106.8 422.6L106.3 422.7M115.7 415.2L112.0 416.0M115.7 415.2L117.2 408.2M104.3 408.0L104.3 408.0M103.3 428.2L106.3 422.7M98.1 414.8L98.8 414.7M117.9 433.2L118.4 427.7M118.4 427.7L106.8 422.6M115.7 415.2L122.2 421.4M130.6 413.1L130.5 413.2M130.5 413.2L122.2 421.4M118.4 427.7L122.0 423.2M122.2 421.4L122.0 423.2M132.9 433.8L130.9 433.6M132.9 433.8L140.5 429.4M130.9 433.6L129.5 427.1M129.5 427.1L136.3 423.6M136.3 423.6L141.3 425.8M140.5 429.4L141.3 425.8M138.8 442.1L132.9 433.8M126.0 437.6L130.9 433.6M145.3 441.1L140.5 429.4M122.0 423.2L129.5 427.1M130.5 413.2L136.3 423.6M143.8 424.2L141.3 425.8M146.5 386.7L141.3 389.3M146.5 386.7L153.3 388.2M153.3 388.2L154.9 395.7M141.3 390.8L141.3 389.3M141.3 390.8L148.8 397.9M148.8 397.9L154.9 395.7M149.1 376.0L146.5 386.7M134.7 382.2L141.3 389.3M155.7 385.7L153.3 388.2M158.2 397.1L154.9 395.7M135.2 398.7L141.3 390.8M146.7 404.3L148.8 397.9M78.4 402.0L78.5 396.5M78.4 402.0L75.5 403.8M69.1 397.2L71.5 390.0M69.5 400.3L75.5 403.8M78.5 396.5L71.5 390.0M67.0 387.1L71.5 389.8M71.5 390.0L71.5 389.8M78.5 396.5L82.4 391.0M71.5 389.8L78.1 385.5M82.4 391.0L78.1 385.5M74.1 373.9L79.3 381.1M78.1 385.5L79.3 381.1M86.1 377.5L81.0 380.9M79.3 381.1L81.0 380.9M94.9 376.0L93.6 387.4M94.9 376.0L102.8 377.0M93.6 387.4L103.7 386.7M103.5 377.7L102.8 377.0M103.5 377.7L106.0 383.7M106.0 383.7L103.7 386.7M94.8 375.8L94.9 376.0M93.4 387.6L81.0 380.9M93.4 387.6L93.6 387.4M107.5 367.3L102.8 377.0M118.1 374.4L103.5 377.7M113.9 384.7L106.0 383.7M105.5 397.2L103.7 386.7M60.9 405.4L64.9 412.4M60.9 405.4L56.8 407.1M56.8 407.1L50.6 414.4M63.7 415.6L52.6 415.6M63.7 415.6L64.9 412.4M50.6 414.4L52.6 415.6M75.5 403.8L75.6 412.1M75.6 412.1L64.9 412.4M61.0 405.2L60.9 405.4M46.2 399.4L56.8 407.1M48.1 414.9L50.6 414.4M64.3 423.2L63.7 415.6M59.1 423.8L52.6 415.6M78.7 416.5L75.6 412.1M92.7 390.1L87.3 393.2M92.7 390.1L99.8 399.4M87.3 393.2L86.1 401.5M99.8 399.4L89.4 404.7M89.4 404.7L86.1 401.5M93.4 387.6L92.7 390.1M82.4 391.0L87.3 393.2M102.2 400.0L99.8 399.4M78.4 402.0L86.1 401.5M89.5 405.9L89.4 404.7" stroke="#f090f0" stroke-width="0.3" fill="none" opacity="0.5"/>
<path d="M98.2 439.7h1M143.1 405.6h1M109.8 446.0h1M105.5 383.7h1M86.9 443.0h1M114.6 406.6h1M101.7 400.0h1M98.3 414.7h1M46.7 451.6h1M21.9 436.3h1M20.7 425.6h1M75.4 368.3h1M94.4 376.0h1M55.2 395.3h1M128.8 410.3h1M18.4 448.6h1M78.2 416.5h1M20.2 414.6h1M104.1 433.8h1M20.7 392.2h1M35.7 424.1h1M33.0 415.5h1M51.0 430.7h1M85.6 401.5h1M103.0 377.7h1M84.4 427.3h1M60.0 367.8h1M113.4 384.7h1M127.7 450.7h1M157.7 397.1h1M56.4 396.2h1M37.8 451.7h1M140.5 411.6h1M88.9 404.7h1M26.2 376.9h1M18.9 403.8h1M143.1 405.6h1M72.9 443.0h1M157.9 440.6h1M71.0 389.8h1M161.2 448.5h1M113.4 384.7h1M26.8 376.6h1M22.4 443.8h1M25.7 445.6h1M117.6 374.4h1M20.7 425.6h1M46.7 451.6h1M130.0 413.2h1M93.1 387.4h1M29.3 424.3h1M78.8 440.0h1M40.3 373.2h1M71.0 390.0h1M160.0 396.3h1M62.0 394.4h1M115.6 393.7h1M45.4 399.4h1" stroke="#6a3c9a" stroke-width="0.9" stroke-linecap="round" fill="none" opacity="0.75"/>
<path d="M87.4 369.2C90.6 370.1 99.7 373.2 106.3 374.4C112.9 375.6 120.8 376.3 127.3 376.5C133.8 376.7 139.1 376.0 145.0 375.6C150.9 375.2 160.0 374.6 163.0 374.4" stroke="#fbf3fb" stroke-width="1.8" fill="none" stroke-linecap="round" stroke-linejoin="round" opacity="1.0"/>
<path d="M39.0 423.4C40.0 423.2 42.8 422.3 45.0 422.2C47.2 422.1 49.8 422.8 52.0 422.6C54.2 422.4 56.0 421.3 58.0 421.2C60.0 421.1 62.0 422.0 64.0 421.8C66.0 421.6 67.8 420.0 70.0 419.8C72.2 419.6 74.7 420.3 76.9 420.6C79.1 420.9 80.9 421.0 83.0 421.4C85.1 421.8 87.3 422.8 89.5 422.8C91.7 422.8 93.2 422.3 96.0 421.6C98.8 420.9 104.6 419.1 106.3 418.6" stroke="#fbf3fb" stroke-width="1.3" fill="none" stroke-linecap="round" stroke-linejoin="round" opacity="1.0"/>
<path d="M16.0 436.2C18.0 436.4 24.2 436.9 28.0 437.4C31.8 437.9 35.8 438.7 39.0 439.4C42.2 440.1 44.5 440.9 47.0 441.6C49.5 442.3 51.5 442.9 53.7 443.8C55.9 444.7 57.9 445.8 60.0 447.0C62.1 448.2 64.8 450.0 66.3 451.0C67.8 452.0 68.5 452.7 69.0 453.0" stroke="#fbf3fb" stroke-width="3.0" fill="none" stroke-linecap="round" stroke-linejoin="round" opacity="1.0"/>
<path d="M97.9 441.7C100.4 442.8 109.2 446.8 112.6 448.5C115.9 450.2 117.1 451.4 118.0 452.0" stroke="#fbf3fb" stroke-width="1.2" fill="none" stroke-linecap="round" stroke-linejoin="round" opacity="1.0"/>
<path d="M140.0 427.0C138.8 428.0 135.1 430.6 133.0 433.0C130.9 435.4 129.1 438.5 127.3 441.7C125.5 444.9 122.9 450.3 122.0 452.0" stroke="#fbf3fb" stroke-width="1.0" fill="none" stroke-linecap="round" stroke-linejoin="round" opacity="1.0"/>
<path d="M136.0 424.5C137.0 424.8 140.7 425.9 142.0 426.0C143.3 426.1 143.7 425.2 144.0 425.0" stroke="#fbf3fb" stroke-width="1.4" fill="none" stroke-linecap="round" stroke-linejoin="round" opacity="1.0"/><path d="M140.2 446.3H159.6" stroke="#222" stroke-width="1.0"/><path d="M146 449H154" stroke="#555" stroke-width="0.7"/></g>
<clipPath id="clipF3"><rect x="180.5" y="367.4" width="144.00" height="84.30"/></clipPath><g clip-path="url(#clipF3)"><rect x="180.5" y="367.4" width="144.00" height="84.30" fill="#e878e6"/><path d="M181.4 391.0L180.5 390.9L180.5 403.5L183.1 403.2Z" fill="#ee67ef"/>
<path d="M193.9 373.2L194.1 367.4L180.5 367.4L180.5 372.5L188.7 376.4Z" fill="#ed65eb"/>
<path d="M186.5 387.5L188.7 376.4L180.5 372.5L180.5 390.9L181.4 391.0Z" fill="#ee64ee"/>
<path d="M194.2 403.9L190.2 389.2L186.5 387.5L181.4 391.0L183.1 403.2L183.4 403.5Z" fill="#ed63e9"/>
<path d="M182.4 414.2L180.5 415.3L180.5 403.5L183.1 403.2L183.4 403.5Z" fill="#ed60ed"/>
<path d="M182.4 414.2L180.5 415.3L180.5 430.2L188.6 432.3L194.4 426.8L194.8 420.0Z" fill="#ea61ea"/>
<path d="M180.5 446.2L189.3 443.3L188.6 432.3L180.5 430.2Z" fill="#ef64eb"/>
<path d="M180.5 451.7L193.8 451.7L193.7 447.4L189.3 443.3L180.5 446.2Z" fill="#ec64ee"/>
<path d="M212.0 369.3L209.3 367.4L194.1 367.4L193.9 373.2L201.8 376.1L209.9 375.0Z" fill="#ec67eb"/>
<path d="M186.5 387.5L188.7 376.4L193.9 373.2L201.8 376.1L200.2 391.0L190.2 389.2Z" fill="#ef63ed"/>
<path d="M199.8 405.8L202.2 403.8L203.1 393.8L200.2 391.0L190.2 389.2L194.2 403.9Z" fill="#ea5fea"/>
<path d="M199.8 405.8L198.3 416.0L194.8 420.0L182.4 414.2L183.4 403.5L194.2 403.9Z" fill="#ef62ed"/>
<path d="M198.3 416.0L208.8 418.8L211.6 431.6L204.2 431.8L194.4 426.8L194.8 420.0Z" fill="#ee63e9"/>
<path d="M204.2 431.8L194.4 426.8L188.6 432.3L189.3 443.3L193.7 447.4L199.9 445.2Z" fill="#ee61ef"/>
<path d="M199.9 445.2L193.7 447.4L193.8 451.7L210.6 451.7L212.1 449.7L211.2 447.5Z" fill="#ee65ed"/>
<path d="M213.6 367.4L209.3 367.4L212.0 369.3Z" fill="#f268f0"/>
<path d="M213.3 379.4L209.9 375.0L212.0 369.3L213.6 367.4L224.9 367.4L225.0 379.3L223.9 381.7Z" fill="#e397f0"/>
<path d="M213.3 379.4L209.9 375.0L201.8 376.1L200.2 391.0L203.1 393.8L210.4 390.3Z" fill="#ee61ee"/>
<path d="M210.0 405.4L222.1 400.4L222.3 398.0L210.4 390.3L203.1 393.8L202.2 403.8Z" fill="#e999f0"/>
<path d="M199.8 405.8L202.2 403.8L210.0 405.4L213.8 415.5L208.8 418.8L198.3 416.0Z" fill="#e598f0"/>
<path d="M224.3 417.7L213.8 415.5L208.8 418.8L211.6 431.6L214.5 432.9L223.5 423.4L224.9 418.9Z" fill="#f163f0"/>
<path d="M214.5 432.9L215.5 435.8L211.2 447.5L199.9 445.2L204.2 431.8L211.6 431.6Z" fill="#ea60ed"/>
<path d="M215.5 435.8L225.7 440.3L229.0 446.2L226.5 451.7L215.4 451.7L212.1 449.7L211.2 447.5Z" fill="#ee62e8"/>
<path d="M210.6 451.7L212.1 449.7L215.4 451.7Z" fill="#ef65ea"/>
<path d="M224.9 367.4L234.8 367.4L236.2 372.4L225.0 379.3Z" fill="#ec65e9"/>
<path d="M213.3 379.4L223.9 381.7L228.8 389.1L222.3 398.0L210.4 390.3Z" fill="#ee68ef"/>
<path d="M228.8 389.1L236.4 388.7L242.8 401.0L241.2 405.3L225.3 405.6L222.1 400.4L222.3 398.0Z" fill="#e998e9"/>
<path d="M224.3 417.7L225.3 405.6L222.1 400.4L210.0 405.4L213.8 415.5Z" fill="#e49ce9"/>
<path d="M224.9 418.9L238.3 419.8L243.4 428.7L241.6 432.4L231.2 432.9L223.5 423.4Z" fill="#ee66ec"/>
<path d="M223.5 423.4L231.2 432.9L225.7 440.3L215.5 435.8L214.5 432.9Z" fill="#f269ec"/>
<path d="M243.7 445.1L242.3 443.7L229.0 446.2L226.5 451.7L243.2 451.7L243.4 451.1Z" fill="#ef63ef"/>
<path d="M234.8 367.4L236.2 372.4L240.7 377.5L247.3 375.1L249.2 367.4Z" fill="#ec63ec"/>
<path d="M223.9 381.7L225.0 379.3L236.2 372.4L240.7 377.5L238.1 387.0L236.4 388.7L228.8 389.1Z" fill="#ef66ed"/>
<path d="M238.1 387.0L236.4 388.7L242.8 401.0L251.6 398.4L255.1 387.8Z" fill="#eb95ec"/>
<path d="M224.3 417.7L225.3 405.6L241.2 405.3L242.8 410.7L238.3 419.8L224.9 418.9Z" fill="#e399e9"/>
<path d="M238.3 419.8L243.4 428.7L255.2 426.8L256.2 425.6L255.3 413.6L242.8 410.7Z" fill="#ed68ed"/>
<path d="M229.0 446.2L225.7 440.3L231.2 432.9L241.6 432.4L242.3 443.7Z" fill="#e198f2"/>
<path d="M257.9 451.7L257.6 444.9L243.7 445.1L243.4 451.1L244.6 451.7Z" fill="#eb62e9"/>
<path d="M247.3 375.1L249.2 367.4L261.7 367.4L265.5 372.1L265.4 375.4L258.5 382.2Z" fill="#ee63eb"/>
<path d="M240.7 377.5L247.3 375.1L258.5 382.2L257.9 385.5L255.1 387.8L238.1 387.0Z" fill="#ea5fea"/>
<path d="M270.4 400.7L269.6 397.4L257.9 385.5L255.1 387.8L251.6 398.4L261.8 406.6L263.9 406.2Z" fill="#e994eb"/>
<path d="M241.2 405.3L242.8 401.0L251.6 398.4L261.8 406.6L255.3 413.6L242.8 410.7Z" fill="#e799e9"/>
<path d="M269.9 419.1L269.0 424.9L256.2 425.6L255.3 413.6L261.8 406.6L263.9 406.2Z" fill="#e999ea"/>
<path d="M257.6 444.9L259.8 442.9L255.2 426.8L243.4 428.7L241.6 432.4L242.3 443.7L243.7 445.1Z" fill="#ef62e9"/>
<path d="M257.9 451.7L272.9 451.7L265.9 442.7L259.8 442.9L257.6 444.9Z" fill="#f068eb"/>
<path d="M244.6 451.7L243.2 451.7L243.4 451.1Z" fill="#ea62e9"/>
<path d="M272.0 367.4L265.5 372.1L261.7 367.4Z" fill="#f164eb"/>
<path d="M278.5 367.4L272.0 367.4L265.5 372.1L265.4 375.4L276.6 382.3L280.0 382.0L286.5 376.2Z" fill="#f263ee"/>
<path d="M257.9 385.5L269.6 397.4L276.6 382.3L265.4 375.4L258.5 382.2Z" fill="#eb67ee"/>
<path d="M270.4 400.7L269.6 397.4L276.6 382.3L280.0 382.0L282.2 386.3L282.1 400.8L277.0 402.4Z" fill="#e198ef"/>
<path d="M269.9 419.1L263.9 406.2L270.4 400.7L277.0 402.4L278.9 413.5Z" fill="#e398ee"/>
<path d="M269.9 419.1L269.0 424.9L276.1 431.4L283.9 425.7L283.3 417.5L278.9 413.5Z" fill="#e09bea"/>
<path d="M256.2 425.6L255.2 426.8L259.8 442.9L265.9 442.7L276.1 431.9L276.1 431.4L269.0 424.9Z" fill="#ec60ed"/>
<path d="M285.6 444.2L276.1 431.9L265.9 442.7L272.9 451.7L282.8 451.7L284.6 451.0Z" fill="#f165ea"/>
<path d="M291.4 367.4L293.8 373.8L292.5 375.0L286.5 376.2L278.5 367.4Z" fill="#ea60ea"/>
<path d="M282.2 386.3L280.0 382.0L286.5 376.2L292.5 375.0L295.6 390.0L294.7 392.3Z" fill="#e893ee"/>
<path d="M282.1 400.8L289.5 401.4L294.5 398.9L294.7 392.3L282.2 386.3Z" fill="#ec66ee"/>
<path d="M278.9 413.5L283.3 417.5L289.9 412.6L289.5 401.4L282.1 400.8L277.0 402.4Z" fill="#f167ef"/>
<path d="M283.3 417.5L289.9 412.6L298.5 418.1L295.0 427.2L283.9 425.7Z" fill="#f065ef"/>
<path d="M283.9 425.7L276.1 431.4L276.1 431.9L285.6 444.2L288.7 442.3L295.2 427.5L295.0 427.2Z" fill="#e896ed"/>
<path d="M288.7 442.3L298.2 442.2L296.0 451.7L285.5 451.7L284.6 451.0L285.6 444.2Z" fill="#f05fec"/>
<path d="M282.8 451.7L284.6 451.0L285.5 451.7Z" fill="#f164ef"/>
<path d="M302.2 367.4L298.1 372.9L293.8 373.8L291.4 367.4Z" fill="#ed64ec"/>
<path d="M302.2 367.4L298.1 372.9L306.0 378.6L316.9 373.8L316.4 367.4Z" fill="#ec66ec"/>
<path d="M293.8 373.8L292.5 375.0L295.6 390.0L307.6 385.8L306.0 378.6L298.1 372.9Z" fill="#ee64ec"/>
<path d="M294.7 392.3L295.6 390.0L307.6 385.8L313.3 390.7L303.5 403.0L294.5 398.9Z" fill="#f263eb"/>
<path d="M289.9 412.6L289.5 401.4L294.5 398.9L303.5 403.0L305.3 406.6L306.6 412.4L306.5 412.4L298.5 418.1Z" fill="#ef60e8"/>
<path d="M306.6 435.5L295.2 427.5L295.0 427.2L298.5 418.1L306.5 412.4L311.3 427.7Z" fill="#eb95f1"/>
<path d="M306.6 435.5L295.2 427.5L288.7 442.3L298.2 442.2L307.4 438.6Z" fill="#ef62e9"/>
<path d="M307.4 438.6L298.2 442.2L296.0 451.7L308.1 451.7L309.1 451.5L310.6 442.5Z" fill="#f065ec"/>
<path d="M308.1 451.7L309.1 451.5L309.3 451.7Z" fill="#f065ee"/>
<path d="M324.5 367.4L324.5 379.5L323.2 380.8L316.9 373.8L316.4 367.4Z" fill="#ef66ec"/>
<path d="M323.2 380.8L323.5 390.0L313.3 390.7L307.6 385.8L306.0 378.6L316.9 373.8Z" fill="#ef64eb"/>
<path d="M305.3 406.6L322.4 400.7L324.5 397.6L324.5 390.9L323.5 390.0L313.3 390.7L303.5 403.0Z" fill="#f066ec"/>
<path d="M306.6 412.4L305.3 406.6L322.4 400.7L319.4 413.8Z" fill="#ed66ec"/>
<path d="M324.5 423.8L311.3 427.7L306.5 412.4L306.6 412.4L319.4 413.8L324.5 418.3Z" fill="#e797e9"/>
<path d="M306.6 435.5L311.3 427.7L324.5 423.8L324.5 426.9L323.1 441.1L310.6 442.5L307.4 438.6Z" fill="#ec66ec"/>
<path d="M310.6 442.5L309.1 451.5L309.3 451.7L324.5 451.7L324.5 441.9L323.1 441.1Z" fill="#ed65ea"/>
<path d="M324.5 379.5L323.2 380.8L323.5 390.0L324.5 390.9Z" fill="#ec65ef"/>
<path d="M324.5 418.3L319.4 413.8L322.4 400.7L324.5 397.6Z" fill="#eb62e9"/>
<path d="M324.5 426.9L324.5 441.9L323.1 441.1Z" fill="#ee63ef"/>
<path d="M323.5 390.0L313.3 390.7M323.5 390.0L325.7 392.0M313.3 390.7L303.5 403.0M325.7 395.8L322.4 400.7M322.4 400.7L305.3 406.6M303.5 403.0L305.3 406.6M280.0 382.0L286.5 376.2M280.0 382.0L276.6 382.3M276.6 382.3L265.4 375.4M265.5 372.1L265.4 375.4M265.5 372.1L275.9 364.6M286.5 376.2L275.9 364.6M176.7 370.7L188.7 376.4M194.3 360.8L193.9 373.2M188.7 376.4L193.9 373.2M284.6 451.0L291.9 456.7M284.6 451.0L285.6 444.2M298.2 442.2L288.7 442.3M298.2 442.2L295.3 454.9M285.6 444.2L288.7 442.3M275.3 454.8L284.6 451.0M275.3 454.8L265.9 442.7M276.1 431.9L265.9 442.7M276.1 431.9L285.6 444.2M322.4 400.7L319.4 413.8M326.8 420.4L319.4 413.8M305.3 406.6L306.6 412.4M319.4 413.8L306.6 412.4M218.8 453.7L212.1 449.7M212.1 449.7L201.8 463.5M172.7 389.2L181.4 391.0M168.0 405.3L183.1 403.2M183.1 403.2L181.4 391.0M188.7 376.4L186.5 387.5M181.4 391.0L186.5 387.5M200.2 391.0L201.8 376.1M200.2 391.0L190.2 389.2M193.9 373.2L201.8 376.1M190.2 389.2L186.5 387.5M289.5 401.4L282.1 400.8M289.5 401.4L294.5 398.9M294.5 398.9L294.7 392.3M294.7 392.3L282.2 386.3M282.2 386.3L282.1 400.8M295.6 390.0L307.6 385.8M295.6 390.0L294.7 392.3M307.6 385.8L313.3 390.7M303.5 403.0L294.5 398.9M280.0 382.0L282.2 386.3M295.6 390.0L292.5 375.0M286.5 376.2L292.5 375.0M298.5 418.1L295.0 427.2M298.5 418.1L289.9 412.6M295.0 427.2L283.9 425.7M289.9 412.6L283.3 417.5M283.9 425.7L283.3 417.5M306.6 412.4L306.5 412.4M306.5 412.4L298.5 418.1M289.5 401.4L289.9 412.6M276.1 431.4L276.1 431.9M276.1 431.4L283.9 425.7M295.2 427.5L288.7 442.3M295.2 427.5L295.0 427.2M265.5 372.1L259.0 364.0M258.5 382.2L247.3 375.1M258.5 382.2L257.9 385.5M257.9 385.5L255.1 387.8M255.1 387.8L238.1 387.0M247.3 375.1L240.7 377.5M238.1 387.0L240.7 377.5M265.4 375.4L258.5 382.2M250.1 364.0L247.3 375.1M276.6 382.3L269.6 397.4M269.6 397.4L257.9 385.5M242.8 401.0L251.6 398.4M242.8 401.0L236.4 388.7M251.6 398.4L255.1 387.8M236.4 388.7L238.1 387.0M324.2 365.1L330.8 373.6M316.3 365.8L316.9 373.8M316.9 373.8L323.2 380.8M330.8 373.6L323.2 380.8M307.6 385.8L306.0 378.6M323.5 390.0L323.2 380.8M306.0 378.6L316.9 373.8M303.0 366.4L298.1 372.9M288.8 360.4L293.8 373.8M298.1 372.9L293.8 373.8M306.0 378.6L298.1 372.9M292.5 375.0L293.8 373.8M241.6 432.4L242.3 443.7M241.6 432.4L231.2 432.9M231.2 432.9L225.7 440.3M225.7 440.3L229.0 446.2M242.3 443.7L229.0 446.2M255.2 426.8L259.8 442.9M255.2 426.8L256.2 425.6M276.1 431.4L269.0 424.9M265.9 442.7L259.8 442.9M269.0 424.9L256.2 425.6M242.8 401.0L241.2 405.3M251.6 398.4L261.8 406.6M255.3 413.6L261.8 406.6M255.3 413.6L242.8 410.7M242.8 410.7L241.2 405.3M243.4 428.7L255.2 426.8M243.4 428.7L238.3 419.8M256.2 425.6L255.3 413.6M242.8 410.7L238.3 419.8M240.7 377.5L236.2 372.4M234.4 366.2L236.2 372.4M236.2 372.4L225.0 379.3M225.0 379.3L224.9 367.3M196.6 358.4L212.0 369.3M201.8 376.1L209.9 375.0M209.9 375.0L212.0 369.3M212.0 369.3L217.2 363.0M222.3 398.0L228.8 389.1M222.3 398.0L210.4 390.3M228.8 389.1L223.9 381.7M223.9 381.7L213.3 379.4M210.4 390.3L213.3 379.4M236.4 388.7L228.8 389.1M222.1 400.4L225.3 405.6M222.1 400.4L222.3 398.0M241.2 405.3L225.3 405.6M225.0 379.3L223.9 381.7M209.9 375.0L213.3 379.4M203.1 393.8L210.4 390.3M203.1 393.8L200.2 391.0M309.1 451.5L310.4 454.2M309.1 451.5L295.3 454.9M323.1 441.1L310.6 442.5M323.1 441.1L324.8 423.7M324.8 423.7L311.3 427.7M311.3 427.7L306.6 435.5M310.6 442.5L307.4 438.6M307.4 438.6L306.6 435.5M309.1 451.5L310.6 442.5M329.9 444.8L323.1 441.1M306.5 412.4L311.3 427.7M295.2 427.5L306.6 435.5M298.2 442.2L307.4 438.6M189.3 443.3L188.6 432.3M189.3 443.3L180.5 446.2M176.9 429.3L188.6 432.3M193.8 453.3L193.7 447.4M189.3 443.3L193.7 447.4M203.1 393.8L202.2 403.8M222.1 400.4L210.0 405.4M202.2 403.8L210.0 405.4M212.1 449.7L211.2 447.5M193.7 447.4L199.9 445.2M211.2 447.5L199.9 445.2M225.7 440.3L215.5 435.8M229.0 446.2L225.8 453.0M211.2 447.5L215.5 435.8M188.6 432.3L194.4 426.8M194.4 426.8L204.2 431.8M199.9 445.2L204.2 431.8M208.8 418.8L213.8 415.5M208.8 418.8L211.6 431.6M213.8 415.5L224.3 417.7M211.6 431.6L214.5 432.9M214.5 432.9L223.5 423.4M223.5 423.4L224.9 418.9M224.9 418.9L224.3 417.7M225.3 405.6L224.3 417.7M210.0 405.4L213.8 415.5M204.2 431.8L211.6 431.6M215.5 435.8L214.5 432.9M231.2 432.9L223.5 423.4M243.4 428.7L241.6 432.4M238.3 419.8L224.9 418.9M243.4 451.1L243.7 445.1M243.4 451.1L257.8 459.0M243.7 445.1L257.6 444.9M257.6 444.9L258.3 458.6M242.3 443.7L243.7 445.1M241.7 456.9L243.4 451.1M259.8 442.9L257.6 444.9M263.9 406.2L269.9 419.1M263.9 406.2L270.4 400.7M277.0 402.4L278.9 413.5M277.0 402.4L270.4 400.7M278.9 413.5L269.9 419.1M269.0 424.9L269.9 419.1M261.8 406.6L263.9 406.2M269.6 397.4L270.4 400.7M282.1 400.8L277.0 402.4M283.3 417.5L278.9 413.5M194.8 420.0L182.4 414.2M194.8 420.0L198.3 416.0M198.3 416.0L199.8 405.8M183.4 403.5L194.2 403.9M183.4 403.5L182.4 414.2M194.2 403.9L199.8 405.8M174.7 418.8L182.4 414.2M194.4 426.8L194.8 420.0M208.8 418.8L198.3 416.0M202.2 403.8L199.8 405.8M183.1 403.2L183.4 403.5M190.2 389.2L194.2 403.9" stroke="#f4a0f4" stroke-width="0.35" fill="none" opacity="0.45"/>
<path d="M193.9 426.8h1M243.2 445.1h1M212.8 379.4h1M303.0 403.0h1M306.1 412.4h1M285.1 444.2h1M257.4 385.5h1M210.7 447.5h1M276.5 402.4h1M214.0 432.9h1M292.0 375.0h1M264.9 375.4h1M241.8 443.7h1M316.4 373.8h1M186.0 387.5h1M224.8 405.6h1M293.3 373.8h1M212.8 379.4h1M306.0 412.4h1M322.7 380.8h1M257.4 385.5h1M321.9 400.7h1M305.5 378.6h1M282.8 417.5h1M188.8 443.3h1M221.8 398.0h1M281.6 400.8h1M189.7 389.2h1M209.4 375.0h1M182.6 403.2h1M289.4 412.6h1M188.2 376.4h1M193.4 373.2h1M201.7 403.8h1M228.5 446.2h1M186.0 387.5h1" stroke="#6a3c9a" stroke-width="0.9" stroke-linecap="round" fill="none" opacity="0.75"/>
<path d="M180.0 429.5C180.7 429.3 182.7 428.2 184.0 428.2C185.3 428.2 186.7 429.4 188.0 429.6C189.3 429.8 190.7 429.0 192.0 429.2C193.3 429.4 194.7 430.5 196.0 431.0C197.3 431.5 198.5 431.6 200.0 432.0C201.5 432.4 203.1 432.8 205.0 433.2C206.9 433.6 209.9 434.2 211.7 434.6C213.5 435.0 214.7 435.2 216.0 435.4C217.3 435.6 218.4 435.7 219.6 435.6C220.8 435.5 221.9 435.0 223.0 434.6C224.1 434.2 225.0 433.5 226.2 433.4C227.4 433.3 228.5 433.8 230.0 434.0C231.5 434.2 233.3 434.5 235.0 434.4C236.7 434.3 238.4 433.8 240.0 433.4C241.6 433.0 243.3 432.6 244.6 432.0C245.9 431.4 246.8 430.7 248.0 430.0C249.2 429.3 250.3 428.3 252.0 427.8C253.7 427.3 256.0 427.2 258.0 427.0C260.0 426.8 262.2 426.7 264.0 426.5C265.8 426.3 268.2 426.1 269.0 426.0" stroke="#fbf3fb" stroke-width="2.6" fill="none" stroke-linecap="round" stroke-linejoin="round" opacity="1.0"/>
<path d="M224.0 414.6C225.1 414.5 229.4 414.3 230.5 414.2" stroke="#fbf3fb" stroke-width="1.2" fill="none" stroke-linecap="round" stroke-linejoin="round" opacity="1.0"/>
<path d="M287.5 433.0C288.0 433.1 290.0 433.7 290.5 433.8" stroke="#fbf3fb" stroke-width="1.2" fill="none" stroke-linecap="round" stroke-linejoin="round" opacity="1.0"/>
<path d="M313.0 440.0C313.5 440.1 315.5 440.7 316.0 440.8" stroke="#fbf3fb" stroke-width="1.0" fill="none" stroke-linecap="round" stroke-linejoin="round" opacity="1.0"/></g>
<clipPath id="clipF4"><rect x="18.0" y="452.9" width="144.00" height="84.30"/></clipPath><g clip-path="url(#clipF4)"><rect x="18.0" y="452.9" width="144.00" height="84.30" fill="#e878e6"/><path d="M18.2 469.4L18.0 468.4L18.0 469.8L18.2 469.5Z" fill="#ec65ea"/>
<path d="M18.0 461.6L18.0 458.0L18.7 458.6Z" fill="#ed66e9"/>
<path d="M28.7 462.2L18.2 469.4L18.0 468.4L18.0 461.6L18.7 458.6L27.8 455.5Z" fill="#ef6aeb"/>
<path d="M18.0 482.2L19.6 477.3L18.0 473.2Z" fill="#ef84ea"/>
<path d="M28.3 486.6L18.0 487.0L18.0 482.2L19.6 477.3L28.0 479.5Z" fill="#ea64ea"/>
<path d="M20.9 499.8L18.0 499.1L18.0 514.2L20.0 515.5L23.6 510.4Z" fill="#ea68e7"/>
<path d="M20.2 516.4L18.0 519.5L18.0 514.2L20.0 515.5Z" fill="#e767ea"/>
<path d="M28.1 526.4L18.0 528.9L18.0 519.5L20.2 516.4L26.6 520.1Z" fill="#e986e6"/>
<path d="M18.0 537.2L18.0 533.6L18.6 537.2Z" fill="#ef6aea"/>
<path d="M29.1 452.9L27.8 455.5L18.7 458.6L18.0 458.0L18.0 452.9Z" fill="#ea65e9"/>
<path d="M32.0 467.4L28.7 471.8L18.2 469.5L18.2 469.4L28.7 462.2L32.3 466.3Z" fill="#ef6aea"/>
<path d="M28.0 479.5L19.6 477.3L18.0 473.2L18.0 469.8L18.2 469.5L28.7 471.8L29.9 477.1Z" fill="#e862e6"/>
<path d="M29.8 488.0L38.6 479.9L37.8 477.3L29.9 477.1L28.0 479.5L28.3 486.6Z" fill="#ef67eb"/>
<path d="M29.8 488.0L30.9 490.3L25.9 498.8L20.9 499.8L18.0 499.1L18.0 487.0L28.3 486.6Z" fill="#ee6cea"/>
<path d="M29.0 509.9L23.6 510.4L20.9 499.8L25.9 498.8L33.1 504.4Z" fill="#ed6bee"/>
<path d="M31.4 516.2L26.6 520.1L20.2 516.4L20.0 515.5L23.6 510.4L29.0 509.9Z" fill="#eb6dee"/>
<path d="M38.4 516.3L31.4 516.2L26.6 520.1L28.1 526.4L31.5 529.3L38.4 526.2Z" fill="#ea67ec"/>
<path d="M31.5 529.3L30.6 537.2L18.6 537.2L18.0 533.6L18.0 528.9L28.1 526.4Z" fill="#eb66e8"/>
<path d="M38.3 452.9L40.1 453.4L40.5 452.9Z" fill="#e889e8"/>
<path d="M43.6 463.5L32.3 466.3L28.7 462.2L27.8 455.5L29.1 452.9L38.3 452.9L40.1 453.4L43.8 461.2Z" fill="#ee6ced"/>
<path d="M43.6 463.5L32.3 466.3L32.0 467.4L38.5 476.1L45.3 470.1L45.5 467.9Z" fill="#eb68ef"/>
<path d="M29.9 477.1L28.7 471.8L32.0 467.4L38.5 476.1L37.8 477.3Z" fill="#ec6dec"/>
<path d="M29.8 488.0L30.9 490.3L42.3 493.1L45.0 490.3L45.7 488.9L45.7 488.2L38.6 479.9Z" fill="#eb66e9"/>
<path d="M34.8 504.5L42.3 493.5L42.3 493.1L30.9 490.3L25.9 498.8L33.1 504.4Z" fill="#ea64e7"/>
<path d="M45.2 507.3L40.5 510.5L34.8 504.5L42.3 493.5L46.6 502.0Z" fill="#ec64e9"/>
<path d="M38.4 516.3L31.4 516.2L29.0 509.9L33.1 504.4L34.8 504.5L40.5 510.5L40.4 513.9Z" fill="#ef67ec"/>
<path d="M38.4 516.3L38.4 526.2L41.7 527.5L49.2 526.1L50.5 518.4L40.4 513.9Z" fill="#e58df0"/>
<path d="M38.4 526.2L31.5 529.3L30.6 537.2L42.9 537.2L41.7 527.5Z" fill="#ec69e9"/>
<path d="M54.3 457.0L55.9 452.9L40.5 452.9L40.1 453.4L43.8 461.2Z" fill="#ec67ea"/>
<path d="M58.5 462.7L54.6 467.4L45.5 467.9L43.6 463.5L43.8 461.2L54.3 457.0Z" fill="#ee6aec"/>
<path d="M37.8 477.3L38.5 476.1L45.3 470.1L51.8 479.5L45.7 488.2L38.6 479.9Z" fill="#e58aee"/>
<path d="M45.7 488.9L45.7 488.2L51.8 479.5L58.2 478.8L58.5 479.3L60.9 488.0L59.4 490.6Z" fill="#e862e6"/>
<path d="M46.6 502.0L42.3 493.5L42.3 493.1L45.0 490.3L54.8 498.4L53.5 502.2Z" fill="#ee64ea"/>
<path d="M45.2 507.3L53.8 510.1L55.6 507.2L53.5 502.2L46.6 502.0Z" fill="#ea69ed"/>
<path d="M40.4 513.9L40.5 510.5L45.2 507.3L53.8 510.1L54.0 515.8L50.5 518.4Z" fill="#e96aea"/>
<path d="M50.5 518.4L54.0 515.8L58.8 517.4L61.0 526.3L57.2 530.1L53.8 530.6L49.2 526.1Z" fill="#eb67ec"/>
<path d="M49.2 526.1L53.8 530.6L51.8 535.9L49.1 537.2L42.9 537.2L41.7 527.5Z" fill="#eb65e8"/>
<path d="M49.1 537.2L51.8 535.9L52.7 537.2Z" fill="#ee6aeb"/>
<path d="M57.9 452.9L68.3 452.9L65.9 454.8Z" fill="#ea67e8"/>
<path d="M58.5 462.7L64.2 463.3L65.9 454.8L57.9 452.9L55.9 452.9L54.3 457.0Z" fill="#ed6bea"/>
<path d="M58.5 462.7L64.2 463.3L65.6 465.1L66.3 471.1L60.2 475.1L54.6 467.4Z" fill="#ee6aeb"/>
<path d="M54.6 467.4L60.2 475.1L58.2 478.8L51.8 479.5L45.3 470.1L45.5 467.9Z" fill="#ee66ec"/>
<path d="M66.9 487.9L60.9 488.0L58.5 479.3L69.1 482.4Z" fill="#eb64ec"/>
<path d="M45.0 490.3L54.8 498.4L60.3 495.9L59.4 490.6L45.7 488.9Z" fill="#ec6dee"/>
<path d="M53.5 502.2L54.8 498.4L60.3 495.9L64.5 498.9L63.6 504.3L60.4 506.3L55.6 507.2Z" fill="#eb63eb"/>
<path d="M55.6 507.2L60.4 506.3L63.1 515.6L58.8 517.4L54.0 515.8L53.8 510.1Z" fill="#f06aee"/>
<path d="M58.8 517.4L61.0 526.3L68.8 526.0L71.2 521.7L68.3 515.5L63.1 515.6Z" fill="#ee68eb"/>
<path d="M52.7 537.2L63.8 537.2L57.2 530.1L53.8 530.6L51.8 535.9Z" fill="#eb69e6"/>
<path d="M74.9 461.6L69.7 452.9L68.3 452.9L65.9 454.8L64.2 463.3L65.6 465.1Z" fill="#ed64e9"/>
<path d="M79.6 466.2L79.4 463.0L74.9 461.6L65.6 465.1L66.3 471.1L69.0 472.5Z" fill="#ea68ed"/>
<path d="M69.0 472.5L66.3 471.1L60.2 475.1L58.2 478.8L58.5 479.3L69.1 482.4L73.7 479.4Z" fill="#ec69e7"/>
<path d="M79.0 481.2L77.9 488.2L71.1 492.3L66.9 487.9L69.1 482.4L73.7 479.4Z" fill="#ee6eea"/>
<path d="M60.3 495.9L64.5 498.9L69.9 496.9L71.1 492.3L66.9 487.9L60.9 488.0L59.4 490.6Z" fill="#ee8aec"/>
<path d="M77.6 503.0L69.9 496.9L64.5 498.9L63.6 504.3L70.6 510.6L78.0 507.0Z" fill="#ee6beb"/>
<path d="M60.4 506.3L63.6 504.3L70.6 510.6L68.3 515.5L63.1 515.6Z" fill="#e96aec"/>
<path d="M72.4 535.2L72.2 535.2L68.8 526.0L71.2 521.7L75.9 521.4L81.8 527.6L81.2 529.7Z" fill="#ee8ceb"/>
<path d="M68.8 526.0L61.0 526.3L57.2 530.1L63.8 537.2L70.6 537.2L72.2 535.2Z" fill="#ee6aea"/>
<path d="M76.1 537.2L70.6 537.2L72.2 535.2L72.4 535.2Z" fill="#ee6aec"/>
<path d="M79.4 463.0L74.9 461.6L69.7 452.9L82.4 452.9L81.4 460.5Z" fill="#e964eb"/>
<path d="M79.6 466.2L79.4 463.0L81.4 460.5L90.6 462.2L89.6 469.4L83.0 471.3Z" fill="#ef69ed"/>
<path d="M79.6 466.2L69.0 472.5L73.7 479.4L79.0 481.2L81.8 479.7L83.0 471.3Z" fill="#eb66e6"/>
<path d="M79.0 481.2L77.9 488.2L81.9 493.3L90.6 490.8L91.5 487.5L88.5 481.8L81.8 479.7Z" fill="#e866e8"/>
<path d="M77.6 503.0L69.9 496.9L71.1 492.3L77.9 488.2L81.9 493.3L81.5 498.0Z" fill="#ee6ce9"/>
<path d="M77.6 503.0L81.5 498.0L93.6 500.5L83.7 511.3L78.0 507.0Z" fill="#ee6aeb"/>
<path d="M78.0 507.0L70.6 510.6L68.3 515.5L71.2 521.7L75.9 521.4L84.0 512.6L84.0 512.2L83.7 511.3Z" fill="#ec6cea"/>
<path d="M75.9 521.4L84.0 512.6L90.4 522.8L81.8 527.6Z" fill="#f069ec"/>
<path d="M84.5 537.2L76.1 537.2L72.4 535.2L81.2 529.7L86.1 535.9Z" fill="#f16bed"/>
<path d="M90.5 537.2L90.3 536.6L86.1 535.9L84.5 537.2Z" fill="#eb68e8"/>
<path d="M97.8 452.9L95.2 456.7L90.9 452.9Z" fill="#ee6bec"/>
<path d="M95.2 456.7L90.9 452.9L82.4 452.9L81.4 460.5L90.6 462.2L95.9 459.0Z" fill="#ea64e9"/>
<path d="M102.7 463.6L101.6 468.8L95.0 472.2L89.6 469.4L90.6 462.2L95.9 459.0Z" fill="#ea68e9"/>
<path d="M83.0 471.3L89.6 469.4L95.0 472.2L93.5 477.7L88.5 481.8L81.8 479.7Z" fill="#ec65e9"/>
<path d="M93.5 477.7L88.5 481.8L91.5 487.5L100.4 486.8L101.2 481.6Z" fill="#ed6aeb"/>
<path d="M93.6 500.5L94.5 500.1L90.6 490.8L81.9 493.3L81.5 498.0Z" fill="#ee66eb"/>
<path d="M93.6 500.5L94.5 500.1L98.2 501.0L98.9 508.8L97.9 511.1L84.0 512.2L83.7 511.3Z" fill="#ed6dec"/>
<path d="M90.4 522.8L84.0 512.6L84.0 512.2L97.9 511.1L98.5 516.3L91.0 523.0Z" fill="#e965ec"/>
<path d="M100.6 529.4L103.1 518.2L98.5 516.3L91.0 523.0L94.7 528.2Z" fill="#ee6aea"/>
<path d="M86.1 535.9L90.3 536.6L94.7 528.2L91.0 523.0L90.4 522.8L81.8 527.6L81.2 529.7Z" fill="#e867e9"/>
<path d="M111.3 452.9L109.0 454.1L107.3 452.9Z" fill="#f06ced"/>
<path d="M107.3 452.9L97.8 452.9L95.2 456.7L95.9 459.0L102.7 463.6L104.5 462.7L109.0 454.1Z" fill="#ec66e6"/>
<path d="M106.1 476.2L101.6 468.8L102.7 463.6L104.5 462.7L113.9 465.7L114.7 471.5Z" fill="#ea63eb"/>
<path d="M106.1 476.8L101.2 481.6L93.5 477.7L95.0 472.2L101.6 468.8L106.1 476.2Z" fill="#eb68e7"/>
<path d="M111.3 481.9L106.1 476.8L101.2 481.6L100.4 486.8L105.4 492.9L110.4 489.4Z" fill="#ed6aed"/>
<path d="M104.3 497.9L105.4 492.9L100.4 486.8L91.5 487.5L90.6 490.8L94.5 500.1L98.2 501.0Z" fill="#ee8cec"/>
<path d="M109.9 508.1L109.9 501.9L104.3 497.9L98.2 501.0L98.9 508.8L107.0 511.3Z" fill="#ed6bea"/>
<path d="M107.0 511.3L107.4 517.6L103.1 518.2L98.5 516.3L97.9 511.1L98.9 508.8Z" fill="#eb6aee"/>
<path d="M105.3 532.1L100.6 529.4L103.1 518.2L107.4 517.6L112.6 520.9L111.2 525.5Z" fill="#e965e6"/>
<path d="M106.1 537.2L106.4 537.0L105.3 532.1L100.6 529.4L94.7 528.2L90.3 536.6L90.5 537.2Z" fill="#ec6ded"/>
<path d="M106.7 537.2L106.4 537.0L106.1 537.2Z" fill="#ef6aeb"/>
<path d="M113.6 452.9L119.2 457.0L124.6 452.9Z" fill="#f067ea"/>
<path d="M119.7 461.9L113.9 465.7L104.5 462.7L109.0 454.1L111.3 452.9L113.6 452.9L119.2 457.0L119.9 461.1Z" fill="#e967e7"/>
<path d="M125.2 469.7L119.7 461.9L113.9 465.7L114.7 471.5L117.4 473.4Z" fill="#ee6bed"/>
<path d="M118.3 479.9L111.3 481.9L106.1 476.8L106.1 476.2L114.7 471.5L117.4 473.4Z" fill="#ee6bed"/>
<path d="M125.0 483.8L124.4 486.3L118.9 491.4L110.4 489.4L111.3 481.9L118.3 479.9Z" fill="#f06dec"/>
<path d="M110.4 489.4L105.4 492.9L104.3 497.9L109.9 501.9L119.7 501.1L118.9 491.4Z" fill="#e963ea"/>
<path d="M120.6 510.2L118.1 514.2L109.9 508.1L109.9 501.9L119.7 501.1L120.3 501.6Z" fill="#ee6dec"/>
<path d="M109.9 508.1L118.1 514.2L117.6 518.3L112.6 520.9L107.4 517.6L107.0 511.3Z" fill="#ea6bea"/>
<path d="M118.6 531.2L122.3 527.8L120.7 520.1L117.6 518.3L112.6 520.9L111.2 525.5Z" fill="#ed65e9"/>
<path d="M118.6 536.5L117.3 537.2L106.7 537.2L106.4 537.0L105.3 532.1L111.2 525.5L118.6 531.2Z" fill="#ec67ec"/>
<path d="M117.3 537.2L118.6 536.5L121.5 537.2Z" fill="#ec67ed"/>
<path d="M119.9 461.1L119.2 457.0L124.6 452.9L132.6 452.9L131.5 460.0Z" fill="#ec6bec"/>
<path d="M133.4 465.3L131.5 460.0L119.9 461.1L119.7 461.9L125.2 469.7L128.7 471.0L131.6 469.2Z" fill="#ec64e9"/>
<path d="M125.0 483.8L118.3 479.9L117.4 473.4L125.2 469.7L128.7 471.0L127.6 481.8Z" fill="#e968ec"/>
<path d="M139.0 492.9L135.1 483.0L127.6 481.8L125.0 483.8L124.4 486.3L126.0 488.4L137.4 494.7L138.3 494.0Z" fill="#eb69ec"/>
<path d="M118.9 491.4L119.7 501.1L120.3 501.6L128.7 500.5L126.0 488.4L124.4 486.3Z" fill="#ec69eb"/>
<path d="M120.6 510.2L131.1 511.5L134.8 505.1L133.4 501.7L128.7 500.5L120.3 501.6Z" fill="#eb6cea"/>
<path d="M120.6 510.2L118.1 514.2L117.6 518.3L120.7 520.1L131.8 519.9L131.1 511.5Z" fill="#ee6eec"/>
<path d="M131.8 519.9L133.8 521.8L128.5 530.7L122.3 527.8L120.7 520.1Z" fill="#ec67e7"/>
<path d="M118.6 536.5L121.5 537.2L125.5 537.2L129.0 535.8L128.5 530.7L122.3 527.8L118.6 531.2Z" fill="#ef8ef0"/>
<path d="M125.5 537.2L129.0 535.8L131.3 537.2Z" fill="#ea66ea"/>
<path d="M142.7 452.9L135.9 452.9L139.7 454.4Z" fill="#eb66ec"/>
<path d="M133.4 465.3L131.5 460.0L132.6 452.9L135.9 452.9L139.7 454.4L143.9 463.3Z" fill="#eb6bec"/>
<path d="M133.4 465.3L143.9 463.3L145.6 464.1L148.0 469.3L147.7 470.2L141.2 475.9L131.6 469.2Z" fill="#eb6cef"/>
<path d="M140.7 478.8L141.2 475.9L131.6 469.2L128.7 471.0L127.6 481.8L135.1 483.0Z" fill="#e965ec"/>
<path d="M139.0 492.9L135.1 483.0L140.7 478.8L142.7 480.5L145.1 490.7Z" fill="#ed6cea"/>
<path d="M126.0 488.4L128.7 500.5L133.4 501.7L137.4 494.7Z" fill="#eb6ae9"/>
<path d="M146.6 501.3L139.2 506.9L134.8 505.1L133.4 501.7L137.4 494.7L138.3 494.0Z" fill="#ec67eb"/>
<path d="M134.8 505.1L139.2 506.9L139.8 507.5L139.9 520.1L135.8 522.1L133.8 521.8L131.8 519.9L131.1 511.5Z" fill="#e96aea"/>
<path d="M148.0 532.3L150.0 527.4L144.5 519.8L139.9 520.1L135.8 522.1L139.3 529.4Z" fill="#eb63e8"/>
<path d="M134.8 537.2L131.3 537.2L129.0 535.8L128.5 530.7L133.8 521.8L135.8 522.1L139.3 529.4Z" fill="#ed87f0"/>
<path d="M142.8 537.2L147.1 536.7L147.1 537.2Z" fill="#ed67eb"/>
<path d="M149.5 452.9L150.1 453.9L158.2 453.0L158.2 452.9Z" fill="#e966e9"/>
<path d="M145.6 464.1L150.1 458.3L150.1 453.9L149.5 452.9L142.7 452.9L139.7 454.4L143.9 463.3Z" fill="#e886ec"/>
<path d="M145.6 464.1L150.1 458.3L158.7 460.2L156.4 468.5L148.0 469.3Z" fill="#ec63eb"/>
<path d="M142.7 480.5L152.7 482.7L153.4 480.9L147.7 470.2L141.2 475.9L140.7 478.8Z" fill="#ed6cee"/>
<path d="M149.2 490.9L152.9 485.5L152.7 482.7L142.7 480.5L145.1 490.7Z" fill="#eb88e8"/>
<path d="M154.0 500.0L149.2 490.9L145.1 490.7L139.0 492.9L138.3 494.0L146.6 501.3L153.6 500.8Z" fill="#e885f0"/>
<path d="M153.6 500.8L153.1 511.2L152.4 512.0L150.9 512.4L139.8 507.5L139.2 506.9L146.6 501.3Z" fill="#e967e8"/>
<path d="M144.5 519.8L150.9 512.4L139.8 507.5L139.9 520.1Z" fill="#f06eec"/>
<path d="M157.6 524.1L150.0 527.4L144.5 519.8L150.9 512.4L152.4 512.0Z" fill="#ee6aeb"/>
<path d="M147.1 536.7L142.8 537.2L134.8 537.2L139.3 529.4L148.0 532.3L148.5 534.6Z" fill="#ed6aee"/>
<path d="M147.1 536.7L147.1 537.2L156.2 537.2L148.5 534.6Z" fill="#ef66e9"/>
<path d="M162.0 452.9L162.0 454.7L160.6 456.4L158.2 453.0L158.2 452.9Z" fill="#e967e6"/>
<path d="M150.1 458.3L158.7 460.2L161.0 458.5L160.6 456.4L158.2 453.0L150.1 453.9Z" fill="#ed6dee"/>
<path d="M162.0 472.4L162.0 458.8L161.0 458.5L158.7 460.2L156.4 468.5Z" fill="#ea6bea"/>
<path d="M148.0 469.3L156.4 468.5L162.0 472.4L162.0 476.4L153.4 480.9L147.7 470.2Z" fill="#e964ec"/>
<path d="M162.0 476.4L162.0 488.8L152.9 485.5L152.7 482.7L153.4 480.9Z" fill="#ed67e9"/>
<path d="M154.0 500.0L161.2 498.0L162.0 492.9L162.0 488.8L152.9 485.5L149.2 490.9Z" fill="#eb6cec"/>
<path d="M154.0 500.0L161.2 498.0L162.0 498.4L162.0 510.7L161.1 511.8L153.1 511.2L153.6 500.8Z" fill="#eb66eb"/>
<path d="M162.0 520.5L162.0 512.9L161.1 511.8L153.1 511.2L152.4 512.0L157.6 524.1L159.1 524.6Z" fill="#ee6aeb"/>
<path d="M162.0 520.5L159.1 524.6L160.5 526.2L162.0 526.3Z" fill="#f069ec"/>
<path d="M159.1 524.6L157.6 524.1L150.0 527.4L148.0 532.3L148.5 534.6L156.2 537.2L157.1 537.2L159.8 535.6L160.5 526.2Z" fill="#e88ae7"/>
<path d="M162.0 536.3L162.0 537.2L157.1 537.2L159.8 535.6Z" fill="#ec65e8"/>
<path d="M162.0 458.8L161.0 458.5L160.6 456.4L162.0 454.7Z" fill="#ee6bee"/>
<path d="M162.0 492.9L161.2 498.0L162.0 498.4Z" fill="#ed6cea"/>
<path d="M162.0 510.7L161.1 511.8L162.0 512.9Z" fill="#ef69ec"/>
<path d="M162.0 526.3L160.5 526.2L159.8 535.6L162.0 536.3Z" fill="#ed67e8"/>
<path d="M10.6 509.1L20.0 515.5M14.6 524.2L20.2 516.4M20.0 515.5L20.2 516.4M128.5 530.7L133.8 521.8M128.5 530.7L122.3 527.8M122.3 527.8L120.7 520.1M133.8 521.8L131.8 519.9M120.7 520.1L131.8 519.9M13.0 453.5L22.1 446.3M156.8 537.4L159.8 535.6M159.8 535.6L168.9 538.4M139.8 507.5L150.9 512.4M139.8 507.5L139.9 520.1M150.9 512.4L144.5 519.8M139.9 520.1L144.5 519.8M13.0 453.5L18.7 458.6M18.7 458.6L17.3 464.7M17.1 471.0L19.6 477.3M17.5 483.6L19.6 477.3M16.7 498.8L20.9 499.8M20.0 515.5L23.6 510.4M23.6 510.4L20.9 499.8M84.0 512.2L84.0 512.6M84.0 512.2L97.9 511.1M84.0 512.6L90.4 522.8M98.5 516.3L97.9 511.1M98.5 516.3L91.0 523.0M91.0 523.0L90.4 522.8M103.1 518.2L98.5 516.3M103.1 518.2L100.6 529.4M91.0 523.0L94.7 528.2M94.7 528.2L100.6 529.4M129.0 535.8L133.7 538.6M129.0 535.8L123.9 537.8M68.8 539.4L72.2 535.2M61.0 526.3L57.2 530.1M61.0 526.3L68.8 526.0M57.2 530.1L65.7 539.3M72.2 535.2L68.8 526.0M84.0 512.6L75.9 521.4M90.4 522.8L81.8 527.6M81.8 527.6L75.9 521.4M139.3 529.4L148.0 532.3M139.3 529.4L134.2 538.2M134.2 538.2L147.1 536.7M148.0 532.3L148.5 534.6M148.5 534.6L147.1 536.7M150.0 527.4L144.5 519.8M150.0 527.4L148.0 532.3M135.8 522.1L139.3 529.4M135.8 522.1L139.9 520.1M129.0 535.8L128.5 530.7M133.8 521.8L135.8 522.1M145.9 548.0L147.1 536.7M156.8 537.4L148.5 534.6M98.2 501.0L104.3 497.9M98.2 501.0L98.9 508.8M98.9 508.8L107.0 511.3M104.3 497.9L109.9 501.9M109.9 501.9L109.9 508.1M107.0 511.3L109.9 508.1M90.6 490.8L94.5 500.1M90.6 490.8L91.5 487.5M94.5 500.1L98.2 501.0M105.4 492.9L100.4 486.8M105.4 492.9L104.3 497.9M100.4 486.8L91.5 487.5M103.1 518.2L107.4 517.6M107.4 517.6L107.0 511.3M97.9 511.1L98.9 508.8M112.6 520.9L107.4 517.6M112.6 520.9L117.6 518.3M117.6 518.3L118.1 514.2M118.1 514.2L109.9 508.1M131.1 511.5L120.6 510.2M131.1 511.5L134.8 505.1M134.8 505.1L133.4 501.7M133.4 501.7L128.7 500.5M128.7 500.5L120.3 501.6M120.3 501.6L120.6 510.2M120.7 520.1L117.6 518.3M131.8 519.9L131.1 511.5M118.1 514.2L120.6 510.2M139.2 506.9L139.8 507.5M139.2 506.9L134.8 505.1M119.7 501.1L120.3 501.6M119.7 501.1L109.9 501.9M60.9 488.0L66.9 487.9M60.9 488.0L58.5 479.3M58.5 479.3L69.1 482.4M69.1 482.4L66.9 487.9M69.3 452.1L65.9 454.8M65.9 454.8L56.0 452.5M69.3 452.1L74.9 461.6M64.2 463.3L65.9 454.8M64.2 463.3L65.6 465.1M65.6 465.1L74.9 461.6M133.4 501.7L137.4 494.7M128.7 500.5L126.0 488.4M137.4 494.7L126.0 488.4M17.1 471.0L18.2 469.5M17.3 464.7L18.2 469.4M18.2 469.5L18.2 469.4M18.7 458.6L27.8 455.5M29.1 452.8L27.8 455.5M18.2 469.4L28.7 462.2M27.8 455.5L28.7 462.2M44.6 448.3L40.1 453.4M35.1 452.0L40.1 453.4M18.7 537.4L17.2 529.1M68.3 515.5L70.6 510.6M68.3 515.5L63.1 515.6M70.6 510.6L63.6 504.3M63.6 504.3L60.4 506.3M63.1 515.6L60.4 506.3M68.3 515.5L71.2 521.7M61.0 526.3L58.8 517.4M68.8 526.0L71.2 521.7M63.1 515.6L58.8 517.4M20.2 516.4L26.6 520.1M17.2 529.1L28.1 526.4M26.6 520.1L28.1 526.4M30.5 537.9L31.5 529.3M28.1 526.4L31.5 529.3M81.5 498.0L77.6 503.0M81.5 498.0L93.6 500.5M83.7 511.3L78.0 507.0M83.7 511.3L93.6 500.5M78.0 507.0L77.6 503.0M81.9 493.3L81.5 498.0M81.9 493.3L77.9 488.2M69.9 496.9L71.1 492.3M69.9 496.9L77.6 503.0M77.9 488.2L71.1 492.3M90.6 490.8L81.9 493.3M94.5 500.1L93.6 500.5M70.6 510.6L78.0 507.0M84.0 512.2L83.7 511.3M71.2 521.7L75.9 521.4M69.9 496.9L64.5 498.9M63.6 504.3L64.5 498.9M100.4 486.8L101.2 481.6M91.5 487.5L88.5 481.8M88.5 481.8L93.5 477.7M101.2 481.6L93.5 477.7M59.4 490.6L60.3 495.9M59.4 490.6L45.7 488.9M60.3 495.9L54.8 498.4M54.8 498.4L45.0 490.3M45.7 488.9L45.0 490.3M60.9 488.0L59.4 490.6M64.5 498.9L60.3 495.9M66.9 487.9L71.1 492.3M58.5 479.3L58.2 478.8M51.8 479.5L58.2 478.8M51.8 479.5L45.7 488.2M45.7 488.2L45.7 488.9M111.2 525.5L105.3 532.1M111.2 525.5L118.6 531.2M105.3 532.1L106.4 537.0M106.4 537.0L111.4 540.2M111.4 540.2L118.6 536.5M118.6 531.2L118.6 536.5M112.6 520.9L111.2 525.5M100.6 529.4L105.3 532.1M122.3 527.8L118.6 531.2M123.9 537.8L118.6 536.5M51.8 535.9L56.8 543.5M51.8 535.9L44.5 539.5M53.8 530.6L57.2 530.1M53.8 530.6L51.8 535.9M81.2 529.7L72.4 535.2M81.2 529.7L86.1 535.9M72.4 535.2L81.1 539.9M86.1 535.9L81.1 539.9M72.2 535.2L72.4 535.2M81.8 527.6L81.2 529.7M94.7 528.2L90.3 536.6M90.3 536.6L86.1 535.9M82.5 451.8L81.4 460.5M74.9 461.6L79.4 463.0M81.4 460.5L79.4 463.0M119.2 457.0L112.6 452.2M119.2 457.0L127.3 450.8M95.9 459.0L102.7 463.6M95.9 459.0L95.2 456.7M95.2 456.7L100.9 448.5M104.5 462.7L109.0 454.1M104.5 462.7L102.7 463.6M109.0 454.1L100.9 448.5M101.6 468.8L95.0 472.2M101.6 468.8L102.7 463.6M95.0 472.2L89.6 469.4M89.6 469.4L90.6 462.2M90.6 462.2L95.9 459.0M88.2 450.5L95.2 456.7M90.6 462.2L81.4 460.5M73.7 479.4L79.0 481.2M73.7 479.4L69.0 472.5M69.0 472.5L79.6 466.2M81.8 479.7L83.0 471.3M81.8 479.7L79.0 481.2M83.0 471.3L79.6 466.2M69.1 482.4L73.7 479.4M77.9 488.2L79.0 481.2M58.2 478.8L60.2 475.1M60.2 475.1L66.3 471.1M66.3 471.1L69.0 472.5M66.3 471.1L65.6 465.1M79.4 463.0L79.6 466.2M88.5 481.8L81.8 479.7M93.5 477.7L95.0 472.2M89.6 469.4L83.0 471.3M119.2 457.0L119.9 461.1M132.7 452.0L131.5 460.0M131.5 460.0L119.9 461.1M113.9 465.7L119.7 461.9M113.9 465.7L104.5 462.7M112.6 452.2L109.0 454.1M119.9 461.1L119.7 461.9M113.9 465.7L114.7 471.5M101.6 468.8L106.1 476.2M114.7 471.5L106.1 476.2M101.2 481.6L106.1 476.8M106.1 476.2L106.1 476.8M162.6 498.7L161.2 498.0M161.2 498.0L162.6 489.0M158.2 453.0L158.5 445.1M158.2 453.0L160.6 456.4M166.1 449.5L160.6 456.4M165.9 460.2L161.0 458.5M161.0 458.5L160.6 456.4M133.1 451.8L139.7 454.4M139.7 454.4L148.1 450.1M158.2 453.0L150.1 453.9M148.1 450.1L150.1 453.9M158.7 460.2L150.1 458.3M158.7 460.2L161.0 458.5M150.1 453.9L150.1 458.3M150.0 527.4L157.6 524.1M150.9 512.4L152.4 512.0M152.4 512.0L157.6 524.1M18.2 469.5L28.7 471.8M28.7 462.2L32.3 466.3M28.7 471.8L32.0 467.4M32.3 466.3L32.0 467.4M23.6 510.4L29.0 509.9M25.9 498.8L20.9 499.8M25.9 498.8L33.1 504.4M33.1 504.4L29.0 509.9M25.9 498.8L30.9 490.3M42.3 493.1L30.9 490.3M42.3 493.1L42.3 493.5M42.3 493.5L34.8 504.5M33.1 504.4L34.8 504.5M26.6 520.1L31.4 516.2M29.0 509.9L31.4 516.2M53.8 510.1L55.6 507.2M53.8 510.1L45.2 507.3M55.6 507.2L53.5 502.2M53.5 502.2L46.6 502.0M46.6 502.0L45.2 507.3M54.0 515.8L53.8 510.1M54.0 515.8L58.8 517.4M60.4 506.3L55.6 507.2M54.8 498.4L53.5 502.2M42.3 493.1L45.0 490.3M42.3 493.5L46.6 502.0M34.8 504.5L40.5 510.5M40.5 510.5L45.2 507.3M41.7 527.5L38.4 526.2M41.7 527.5L49.2 526.1M38.4 526.2L38.4 516.3M49.2 526.1L50.5 518.4M50.5 518.4L40.4 513.9M40.4 513.9L38.4 516.3M43.1 538.7L41.7 527.5M31.5 529.3L38.4 526.2M53.8 530.6L49.2 526.1M31.4 516.2L38.4 516.3M54.0 515.8L50.5 518.4M40.5 510.5L40.4 513.9M38.6 479.9L29.8 488.0M38.6 479.9L37.8 477.3M37.8 477.3L29.9 477.1M29.9 477.1L28.0 479.5M28.0 479.5L28.3 486.6M28.3 486.6L29.8 488.0M45.7 488.2L38.6 479.9M30.9 490.3L29.8 488.0M51.8 479.5L45.3 470.1M45.3 470.1L38.5 476.1M38.5 476.1L37.8 477.3M28.7 471.8L29.9 477.1M38.5 476.1L32.0 467.4M19.6 477.3L28.0 479.5M17.9 487.0L28.3 486.6M119.7 501.1L118.9 491.4M126.0 488.4L124.4 486.3M124.4 486.3L118.9 491.4M105.4 492.9L110.4 489.4M118.9 491.4L110.4 489.4M106.1 476.8L111.3 481.9M110.4 489.4L111.3 481.9M117.4 473.4L118.3 479.9M117.4 473.4L125.2 469.7M128.7 471.0L125.2 469.7M128.7 471.0L127.6 481.8M118.3 479.9L125.0 483.8M127.6 481.8L125.0 483.8M114.7 471.5L117.4 473.4M111.3 481.9L118.3 479.9M119.7 461.9L125.2 469.7M124.4 486.3L125.0 483.8M158.7 460.2L156.4 468.5M156.4 468.5L162.7 472.9M162.6 489.0L152.9 485.5M152.9 485.5L152.7 482.7M152.7 482.7L153.4 480.9M153.4 480.9L163.2 475.8M141.2 475.9L147.7 470.2M141.2 475.9L131.6 469.2M147.7 470.2L148.0 469.3M148.0 469.3L145.6 464.1M143.9 463.3L145.6 464.1M143.9 463.3L133.4 465.3M131.6 469.2L133.4 465.3M156.4 468.5L148.0 469.3M153.4 480.9L147.7 470.2M150.1 458.3L145.6 464.1M139.7 454.4L143.9 463.3M131.5 460.0L133.4 465.3M128.7 471.0L131.6 469.2M127.6 481.8L135.1 483.0M141.2 475.9L140.7 478.8M135.1 483.0L140.7 478.8M152.7 482.7L142.7 480.5M140.7 478.8L142.7 480.5M167.9 527.0L160.5 526.2M160.5 526.2L159.1 524.6M159.1 524.6L164.9 516.6M159.8 535.6L160.5 526.2M157.6 524.1L159.1 524.6M153.1 511.2L152.4 512.0M153.1 511.2L161.1 511.8M161.1 511.8L164.9 516.6M161.1 511.8L166.6 505.8M45.5 467.9L43.6 463.5M45.5 467.9L54.6 467.4M54.6 467.4L58.5 462.7M43.8 461.2L43.6 463.5M43.8 461.2L54.3 457.0M54.3 457.0L58.5 462.7M45.3 470.1L45.5 467.9M32.3 466.3L43.6 463.5M60.2 475.1L54.6 467.4M64.2 463.3L58.5 462.7M40.1 453.4L43.8 461.2M56.0 452.5L54.3 457.0M90.3 536.6L91.1 538.5M106.4 537.0L99.6 542.4M145.1 490.7L139.0 492.9M145.1 490.7L149.2 490.9M149.2 490.9L154.0 500.0M138.3 494.0L139.0 492.9M138.3 494.0L146.6 501.3M146.6 501.3L153.6 500.8M153.6 500.8L154.0 500.0M135.1 483.0L139.0 492.9M142.7 480.5L145.1 490.7M152.9 485.5L149.2 490.9M161.2 498.0L154.0 500.0M137.4 494.7L138.3 494.0M139.2 506.9L146.6 501.3M153.1 511.2L153.6 500.8" stroke="#f090f0" stroke-width="0.3" fill="none" opacity="0.5"/>
<path d="M97.4 511.1h1M133.3 521.8h1M153.5 500.0h1M69.4 496.9h1M43.3 461.2h1M64.0 498.9h1M104.9 492.9h1M147.2 470.2h1M44.8 470.1h1M118.4 491.4h1M39.9 513.9h1M77.1 503.0h1M128.5 535.8h1M118.1 536.5h1M85.6 535.9h1M17.7 469.5h1M39.9 513.9h1M113.4 465.7h1M65.1 465.1h1M51.3 535.9h1M94.7 456.7h1M54.1 467.4h1M69.4 496.9h1M75.4 521.4h1M79.1 466.2h1M152.6 511.2h1M85.6 535.9h1M89.8 536.6h1M119.4 461.1h1M31.8 466.3h1M104.8 532.1h1M67.8 515.5h1M28.5 509.9h1M144.6 490.7h1M31.8 466.3h1M143.4 463.3h1M83.5 512.2h1M45.2 488.9h1M34.3 504.5h1M128.2 471.0h1M83.5 512.6h1M83.5 512.2h1M44.5 490.3h1M118.1 531.2h1M58.0 479.3h1M81.0 498.0h1M80.9 460.5h1M128.5 535.8h1M48.7 526.1h1M48.7 526.1h1M19.1 477.3h1M119.8 501.6h1M114.2 471.5h1M152.4 485.5h1M37.9 526.2h1M99.9 486.8h1M68.3 526.0h1" stroke="#6a3c9a" stroke-width="0.9" stroke-linecap="round" fill="none" opacity="0.75"/>
<path d="M64.0 455.5C64.8 454.9 68.2 452.6 69.0 452.0" stroke="#fbf3fb" stroke-width="1.4" fill="none" stroke-linecap="round" stroke-linejoin="round" opacity="1.0"/>
<path d="M95.8 454.1C97.5 454.8 103.6 457.2 106.3 458.3C109.0 459.4 111.0 460.6 112.0 461.0" stroke="#fbf3fb" stroke-width="1.2" fill="none" stroke-linecap="round" stroke-linejoin="round" opacity="1.0"/>
<path d="M131.5 453.5C133.6 455.0 138.8 459.6 144.1 462.5C149.3 465.4 159.8 469.6 163.0 471.0" stroke="#fbf3fb" stroke-width="2.2" fill="none" stroke-linecap="round" stroke-linejoin="round" opacity="1.0"/>
<path d="M87.4 479.3C89.9 479.1 97.9 478.0 102.1 478.3C106.3 478.6 108.4 480.2 112.6 481.4C116.8 482.6 122.0 484.6 127.3 485.6C132.6 486.7 138.2 487.4 144.1 487.7C150.0 488.0 159.8 487.7 163.0 487.7" stroke="#fbf3fb" stroke-width="1.8" fill="none" stroke-linecap="round" stroke-linejoin="round" opacity="1.0"/>
<path d="M16.0 513.0C19.8 513.2 31.7 513.5 39.0 514.0C46.3 514.5 53.0 514.9 60.0 516.1C67.0 517.3 76.3 519.9 81.0 521.4C85.7 522.9 86.8 524.4 88.0 525.0" stroke="#fbf3fb" stroke-width="2.4" fill="none" stroke-linecap="round" stroke-linejoin="round" opacity="1.0"/>
<path d="M18.0 531.9C19.5 531.6 25.5 530.3 27.0 530.0" stroke="#fbf3fb" stroke-width="1.0" fill="none" stroke-linecap="round" stroke-linejoin="round" opacity="1.0"/><path d="M140.2 532.2H159.6" stroke="#222" stroke-width="1.0"/><path d="M146 535H154" stroke="#555" stroke-width="0.7"/></g>
<clipPath id="clipF5"><rect x="180.5" y="452.8" width="144.00" height="84.20"/></clipPath><g clip-path="url(#clipF5)"><rect x="180.5" y="452.8" width="144.00" height="84.20" fill="#e878e6"/><path d="M180.5 455.7L180.5 463.0L181.4 462.4Z" fill="#f162f0"/>
<path d="M180.5 452.8L180.5 455.7L181.4 462.4L186.5 466.1L195.0 464.4L195.5 452.8Z" fill="#ed60ee"/>
<path d="M181.4 462.4L180.5 463.0L180.5 476.3L186.5 473.3L186.5 466.1Z" fill="#ea5eeb"/>
<path d="M187.9 489.8L180.5 487.6L180.5 476.3L186.5 473.3L190.8 482.3L188.1 489.6Z" fill="#ea61ea"/>
<path d="M187.9 489.8L180.5 487.6L180.5 502.4L187.4 494.4Z" fill="#ef5eed"/>
<path d="M193.8 514.6L187.1 516.7L180.5 511.4L180.5 502.4L187.4 494.4L197.4 506.5Z" fill="#f165f0"/>
<path d="M180.5 525.8L186.3 519.5L187.1 516.7L180.5 511.4Z" fill="#f061ec"/>
<path d="M180.5 537.0L189.4 537.0L192.5 535.5L193.5 533.8L186.3 519.5L180.5 525.8Z" fill="#f063eb"/>
<path d="M195.5 452.8L205.9 452.8L207.8 453.8L208.6 460.2L199.7 465.9L195.0 464.4Z" fill="#ee5deb"/>
<path d="M195.0 464.4L199.7 465.9L202.7 477.4L190.8 482.3L186.5 473.3L186.5 466.1Z" fill="#e99aed"/>
<path d="M188.1 489.6L190.8 482.3L202.7 477.4L204.1 478.1L204.7 486.9L197.9 491.5Z" fill="#eb92eb"/>
<path d="M197.4 506.5L187.4 494.4L187.9 489.8L188.1 489.6L197.9 491.5L206.8 502.0Z" fill="#ec62ee"/>
<path d="M208.6 518.1L209.4 501.8L206.8 502.0L197.4 506.5L193.8 514.6L200.5 519.7Z" fill="#f05fec"/>
<path d="M200.5 519.7L201.3 530.2L193.5 533.8L186.3 519.5L187.1 516.7L193.8 514.6Z" fill="#e593ea"/>
<path d="M193.6 537.0L206.7 537.0L204.3 531.8L201.3 530.2L193.5 533.8L192.5 535.5Z" fill="#ef5feb"/>
<path d="M193.6 537.0L192.5 535.5L189.4 537.0Z" fill="#ec62ed"/>
<path d="M205.9 452.8L207.8 453.8L208.6 452.8Z" fill="#ec5dec"/>
<path d="M223.4 452.8L221.6 461.6L214.2 463.3L208.6 460.2L207.8 453.8L208.6 452.8Z" fill="#e098e8"/>
<path d="M202.7 477.4L204.1 478.1L213.8 477.0L214.2 463.3L208.6 460.2L199.7 465.9Z" fill="#e998ec"/>
<path d="M204.1 478.1L204.7 486.9L212.4 494.1L219.9 481.2L213.8 477.0Z" fill="#ef61eb"/>
<path d="M209.4 501.8L212.4 500.5L212.4 494.1L204.7 486.9L197.9 491.5L206.8 502.0Z" fill="#ef64ec"/>
<path d="M208.6 518.1L217.6 522.3L223.3 516.2L225.2 512.8L223.1 504.8L212.4 500.5L209.4 501.8Z" fill="#f067f0"/>
<path d="M208.6 518.1L217.6 522.3L217.5 524.5L204.3 531.8L201.3 530.2L200.5 519.7Z" fill="#ee62e9"/>
<path d="M204.3 531.8L206.7 537.0L217.2 537.0L219.7 529.9L217.5 524.5Z" fill="#ee62e8"/>
<path d="M223.4 452.8L221.6 461.6L228.1 466.1L236.0 461.7L233.1 452.8Z" fill="#ec97ea"/>
<path d="M221.6 481.1L219.9 481.2L213.8 477.0L214.2 463.3L221.6 461.6L228.1 466.1L228.3 473.6Z" fill="#e894ee"/>
<path d="M221.6 481.1L228.3 473.6L233.6 475.3L238.6 486.3L225.5 485.1Z" fill="#e792ec"/>
<path d="M223.1 504.8L228.2 499.8L225.5 485.1L221.6 481.1L219.9 481.2L212.4 494.1L212.4 500.5Z" fill="#ec61ee"/>
<path d="M225.2 512.8L238.9 516.2L242.0 496.4L228.2 499.8L223.1 504.8Z" fill="#e195ec"/>
<path d="M223.3 516.2L236.1 533.5L235.9 535.0L219.7 529.9L217.5 524.5L217.6 522.3Z" fill="#f167ee"/>
<path d="M217.2 537.0L236.1 537.0L236.4 536.4L235.9 535.0L219.7 529.9Z" fill="#eb5eec"/>
<path d="M233.1 452.8L236.0 461.7L245.3 463.2L250.3 460.6L249.9 452.8Z" fill="#ee62ec"/>
<path d="M236.0 461.7L228.1 466.1L228.3 473.6L233.6 475.3L242.3 472.7L245.3 463.2Z" fill="#e99de8"/>
<path d="M238.6 486.3L245.6 490.5L248.0 488.4L248.3 485.6L242.3 472.7L233.6 475.3Z" fill="#e394e9"/>
<path d="M225.5 485.1L228.2 499.8L242.0 496.4L244.0 494.9L245.6 490.5L238.6 486.3Z" fill="#e498e9"/>
<path d="M255.0 509.2L244.0 494.9L242.0 496.4L238.9 516.2L241.8 518.7L243.3 518.6Z" fill="#e194ee"/>
<path d="M225.2 512.8L238.9 516.2L241.8 518.7L236.1 533.5L223.3 516.2Z" fill="#f162ec"/>
<path d="M239.2 537.0L236.4 536.4L235.9 535.0L236.1 533.5L241.8 518.7L243.3 518.6L254.4 527.6L252.8 537.0Z" fill="#ed65ed"/>
<path d="M239.2 537.0L236.4 536.4L236.1 537.0Z" fill="#ef62ea"/>
<path d="M267.5 452.8L269.5 456.4L269.5 457.0L260.1 466.4L250.3 460.6L249.9 452.8Z" fill="#ee60eb"/>
<path d="M250.3 460.6L260.1 466.4L260.4 467.1L248.3 485.6L242.3 472.7L245.3 463.2Z" fill="#f160ef"/>
<path d="M266.3 488.4L265.4 472.1L260.4 467.1L248.3 485.6L248.0 488.4L262.3 490.2Z" fill="#ee5feb"/>
<path d="M262.3 490.2L248.0 488.4L245.6 490.5L244.0 494.9L255.0 509.2L255.1 509.2L261.8 503.1Z" fill="#e593e9"/>
<path d="M271.5 510.2L270.7 505.0L261.8 503.1L255.1 509.2L264.0 518.8Z" fill="#ee63ea"/>
<path d="M264.0 518.8L255.1 509.2L255.0 509.2L243.3 518.6L254.4 527.6L264.4 521.2Z" fill="#ee5fea"/>
<path d="M264.4 521.2L254.4 527.6L252.8 537.0L268.3 537.0L272.1 528.0L270.9 526.3Z" fill="#f061e9"/>
<path d="M271.8 452.8L269.5 456.4L267.5 452.8Z" fill="#ec5de8"/>
<path d="M284.7 455.1L283.8 452.8L271.8 452.8L269.5 456.4L269.5 457.0L278.3 459.1Z" fill="#ef62eb"/>
<path d="M280.3 472.9L265.4 472.1L260.4 467.1L260.1 466.4L269.5 457.0L278.3 459.1Z" fill="#f165ee"/>
<path d="M266.3 488.4L265.4 472.1L280.3 472.9L285.2 476.6L281.7 486.6L274.4 490.7Z" fill="#e895f0"/>
<path d="M266.3 488.4L274.4 490.7L275.3 499.4L270.7 505.0L261.8 503.1L262.3 490.2Z" fill="#e396f2"/>
<path d="M279.4 513.1L284.8 512.1L286.5 506.8L275.3 499.4L270.7 505.0L271.5 510.2Z" fill="#eb62e9"/>
<path d="M279.4 513.1L270.9 526.3L264.4 521.2L264.0 518.8L271.5 510.2Z" fill="#ef60e9"/>
<path d="M281.6 529.1L282.2 537.0L268.3 537.0L272.1 528.0Z" fill="#ef65ed"/>
<path d="M284.7 455.1L283.8 452.8L288.7 452.8L286.8 455.4Z" fill="#ef5ee8"/>
<path d="M286.8 455.4L288.7 452.8L300.6 452.8L296.1 459.6L292.6 460.4Z" fill="#ec60ee"/>
<path d="M289.0 475.2L292.6 460.4L286.8 455.4L284.7 455.1L278.3 459.1L280.3 472.9L285.2 476.6Z" fill="#ee62ed"/>
<path d="M289.0 475.2L299.3 477.9L303.1 492.5L282.7 487.6L281.7 486.6L285.2 476.6Z" fill="#ea94f1"/>
<path d="M274.4 490.7L281.7 486.6L282.7 487.6L291.6 503.1L286.5 506.8L275.3 499.4Z" fill="#ee5fed"/>
<path d="M290.1 524.1L302.8 515.1L300.8 501.8L291.6 503.1L286.5 506.8L284.8 512.1Z" fill="#e499ec"/>
<path d="M279.4 513.1L284.8 512.1L290.1 524.1L289.9 525.1L281.6 529.1L272.1 528.0L270.9 526.3Z" fill="#eb60ed"/>
<path d="M289.9 525.1L292.5 528.1L296.1 537.0L282.2 537.0L281.6 529.1Z" fill="#f061ed"/>
<path d="M314.0 456.9L307.2 452.8L300.6 452.8L296.1 459.6L308.0 466.8L314.1 458.5Z" fill="#ee61ec"/>
<path d="M289.0 475.2L299.3 477.9L307.7 471.9L308.0 466.8L296.1 459.6L292.6 460.4Z" fill="#f165ec"/>
<path d="M318.2 478.3L307.7 471.9L299.3 477.9L303.1 492.5L304.5 494.9L315.0 488.6Z" fill="#ea92ed"/>
<path d="M304.5 494.9L304.0 498.3L300.8 501.8L291.6 503.1L282.7 487.6L303.1 492.5Z" fill="#f262ec"/>
<path d="M304.0 498.3L300.8 501.8L302.8 515.1L306.7 517.5L317.5 514.5L316.0 504.4Z" fill="#f064ea"/>
<path d="M289.9 525.1L292.5 528.1L308.8 527.3L306.7 517.5L302.8 515.1L290.1 524.1Z" fill="#e697e9"/>
<path d="M296.1 537.0L313.2 537.0L313.1 532.4L308.8 527.3L292.5 528.1Z" fill="#ec64ee"/>
<path d="M316.7 452.8L314.0 456.9L307.2 452.8Z" fill="#ec60ef"/>
<path d="M324.5 452.8L316.7 452.8L314.0 456.9L314.1 458.5L324.5 464.5Z" fill="#f064ed"/>
<path d="M324.5 466.3L324.5 464.5L314.1 458.5L308.0 466.8L307.7 471.9L318.2 478.3L323.0 477.0Z" fill="#ef62ea"/>
<path d="M324.5 477.6L324.5 493.0L323.9 493.8L315.0 488.6L318.2 478.3L323.0 477.0Z" fill="#ed61ee"/>
<path d="M315.0 488.6L304.5 494.9L304.0 498.3L316.0 504.4L324.5 500.6L324.5 495.6L323.9 493.8Z" fill="#e59aec"/>
<path d="M324.5 500.6L316.0 504.4L317.5 514.5L322.9 518.3L324.5 516.7Z" fill="#ed66f0"/>
<path d="M322.9 518.3L323.3 520.7L313.1 532.4L308.8 527.3L306.7 517.5L317.5 514.5Z" fill="#ef5eeb"/>
<path d="M324.5 537.0L313.2 537.0L313.1 532.4L323.3 520.7L324.5 521.5Z" fill="#f161ea"/>
<path d="M324.5 466.3L323.0 477.0L324.5 477.6Z" fill="#ed5de9"/>
<path d="M324.5 493.0L323.9 493.8L324.5 495.6Z" fill="#ef67eb"/>
<path d="M324.5 516.7L322.9 518.3L323.3 520.7L324.5 521.5Z" fill="#ec5eeb"/>
<path d="M323.3 520.7L332.9 527.8M323.3 520.7L313.1 532.4M313.2 537.0L313.1 532.4M306.7 517.5L317.5 514.5M306.7 517.5L308.8 527.3M323.3 520.7L322.9 518.3M308.8 527.3L313.1 532.4M317.5 514.5L322.9 518.3M241.8 518.7L238.9 516.2M241.8 518.7L243.3 518.6M244.0 494.9L242.0 496.4M244.0 494.9L255.0 509.2M238.9 516.2L242.0 496.4M243.3 518.6L255.0 509.2M306.7 517.5L302.8 515.1M302.8 515.1L300.8 501.8M317.5 514.5L316.0 504.4M300.8 501.8L304.0 498.3M316.0 504.4L304.0 498.3M322.9 518.3L331.4 509.7M316.0 504.4L325.8 500.0M204.7 486.9L212.4 494.1M204.7 486.9L204.1 478.1M219.9 481.2L212.4 494.1M219.9 481.2L213.8 477.0M213.8 477.0L204.1 478.1M252.3 540.1L236.4 536.4M236.4 536.4L230.7 546.4M236.1 533.5L241.8 518.7M236.1 533.5L235.9 535.0M235.9 535.0L236.4 536.4M243.3 518.6L254.4 527.6M254.4 527.6L252.3 540.1M208.6 460.2L199.7 465.9M208.6 460.2L214.2 463.3M214.2 463.3L213.8 477.0M204.1 478.1L202.7 477.4M199.7 465.9L202.7 477.4M228.3 473.6L221.6 481.1M228.3 473.6L233.6 475.3M233.6 475.3L238.6 486.3M238.6 486.3L225.5 485.1M225.5 485.1L221.6 481.1M228.1 466.1L221.6 461.6M228.1 466.1L228.3 473.6M221.6 461.6L214.2 463.3M219.9 481.2L221.6 481.1M242.3 472.7L248.3 485.6M242.3 472.7L233.6 475.3M245.6 490.5L238.6 486.3M245.6 490.5L248.0 488.4M248.0 488.4L248.3 485.6M244.0 494.9L245.6 490.5M242.0 496.4L228.2 499.8M228.2 499.8L225.5 485.1M242.3 472.7L245.3 463.2M248.3 485.6L260.4 467.1M260.1 466.4L260.4 467.1M260.1 466.4L250.3 460.6M245.3 463.2L250.3 460.6M228.1 466.1L236.0 461.7M245.3 463.2L236.0 461.7M235.9 535.0L219.7 529.9M219.7 529.9L216.7 538.4M219.7 529.9L217.5 524.5M209.2 542.5L204.3 531.8M217.5 524.5L204.3 531.8M300.8 501.8L291.6 503.1M291.6 503.1L282.7 487.6M282.7 487.6L303.1 492.5M304.0 498.3L304.5 494.9M303.1 492.5L304.5 494.9M308.8 527.3L292.5 528.1M292.5 528.1L296.3 537.5M261.7 442.1L269.5 456.4M279.1 441.5L269.5 456.4M207.8 453.8L197.1 448.1M207.8 453.8L212.7 448.0M221.6 461.6L223.6 452.1M208.6 460.2L207.8 453.8M186.5 466.1L195.0 464.4M186.5 466.1L181.4 462.4M195.0 464.4L195.6 448.8M181.4 462.4L180.0 452.3M186.5 473.3L190.8 482.3M186.5 473.3L186.5 466.1M199.7 465.9L195.0 464.4M190.8 482.3L202.7 477.4M169.8 469.2L181.4 462.4M178.0 477.6L186.5 473.3M260.1 466.4L269.5 457.0M250.3 460.6L249.8 449.8M269.5 456.4L269.5 457.0M204.7 486.9L197.9 491.5M190.8 482.3L188.1 489.6M197.9 491.5L188.1 489.6M177.4 486.7L187.9 489.8M178.6 504.6L187.4 494.4M187.4 494.4L187.9 489.8M188.1 489.6L187.9 489.8M212.4 494.1L212.4 500.5M228.2 499.8L223.1 504.8M212.4 500.5L223.1 504.8M238.9 516.2L225.2 512.8M223.1 504.8L225.2 512.8M236.1 533.5L223.3 516.2M217.5 524.5L217.6 522.3M217.6 522.3L223.3 516.2M223.3 516.2L225.2 512.8M183.7 539.6L192.5 535.5M192.5 535.5L201.7 547.8M201.3 530.2L204.3 531.8M201.3 530.2L193.5 533.8M193.5 533.8L192.5 535.5M308.0 466.8L296.1 459.6M308.0 466.8L314.1 458.5M296.1 459.6L302.4 449.9M302.4 449.9L314.0 456.9M314.1 458.5L314.0 456.9M267.0 540.1L272.1 528.0M282.3 538.1L281.6 529.1M272.1 528.0L281.6 529.1M292.5 528.1L289.9 525.1M281.6 529.1L289.9 525.1M302.8 515.1L290.1 524.1M291.6 503.1L286.5 506.8M286.5 506.8L284.8 512.1M284.8 512.1L290.1 524.1M290.1 524.1L289.9 525.1M325.8 500.0L323.9 493.8M304.5 494.9L315.0 488.6M323.9 493.8L315.0 488.6M299.3 477.9L307.7 471.9M299.3 477.9L303.1 492.5M307.7 471.9L318.2 478.3M315.0 488.6L318.2 478.3M323.9 493.8L331.2 483.9M278.3 459.1L284.7 455.1M278.3 459.1L280.3 472.9M292.6 460.4L289.0 475.2M292.6 460.4L286.8 455.4M286.8 455.4L284.7 455.1M280.3 472.9L285.2 476.6M285.2 476.6L289.0 475.2M279.1 441.5L284.7 455.1M269.5 457.0L278.3 459.1M265.4 472.1L260.4 467.1M265.4 472.1L280.3 472.9M299.3 477.9L289.0 475.2M307.7 471.9L308.0 466.8M296.1 459.6L292.6 460.4M294.9 444.4L286.8 455.4M282.7 487.6L281.7 486.6M281.7 486.6L285.2 476.6M236.0 461.7L231.5 448.0M178.9 510.1L187.1 516.7M187.1 516.7L186.3 519.5M186.3 519.5L178.0 528.5M186.3 519.5L193.5 533.8M183.7 539.6L178.5 537.0M206.8 502.0L197.4 506.5M206.8 502.0L209.4 501.8M209.4 501.8L208.6 518.1M197.4 506.5L193.8 514.6M193.8 514.6L200.5 519.7M200.5 519.7L208.6 518.1M197.9 491.5L206.8 502.0M187.4 494.4L197.4 506.5M212.4 500.5L209.4 501.8M217.6 522.3L208.6 518.1M187.1 516.7L193.8 514.6M201.3 530.2L200.5 519.7M314.0 456.9L320.0 447.9M261.8 503.1L270.7 505.0M261.8 503.1L262.3 490.2M270.7 505.0L275.3 499.4M275.3 499.4L274.4 490.7M274.4 490.7L266.3 488.4M262.3 490.2L266.3 488.4M255.0 509.2L255.1 509.2M248.0 488.4L262.3 490.2M255.1 509.2L261.8 503.1M281.7 486.6L274.4 490.7M286.5 506.8L275.3 499.4M265.4 472.1L266.3 488.4M270.9 526.3L279.4 513.1M270.9 526.3L264.4 521.2M264.4 521.2L264.0 518.8M264.0 518.8L271.5 510.2M271.5 510.2L279.4 513.1M272.1 528.0L270.9 526.3M284.8 512.1L279.4 513.1M254.4 527.6L264.4 521.2M255.1 509.2L264.0 518.8M270.7 505.0L271.5 510.2M323.0 477.0L330.7 480.2M323.0 477.0L324.7 464.6M318.2 478.3L323.0 477.0M314.1 458.5L324.7 464.6" stroke="#f4a0f4" stroke-width="0.35" fill="none" opacity="0.45"/>
<path d="M238.1 486.3h1M289.4 525.1h1M254.6 509.2h1M224.7 512.8h1M292.0 528.1h1M222.8 516.2h1M187.6 489.6h1M274.8 499.4h1M279.8 472.9h1M180.9 462.4h1M200.8 530.2h1M185.8 519.5h1M286.0 506.8h1M243.5 494.9h1M314.5 488.6h1M269.0 457.0h1M300.3 501.8h1M269.0 456.4h1M203.8 531.8h1M292.1 460.4h1M284.2 455.1h1M269.0 456.4h1M235.4 535.0h1M208.1 518.1h1M302.6 492.5h1M241.3 518.7h1M241.3 518.7h1M200.8 530.2h1M259.6 466.4h1M203.8 531.8h1M308.3 527.3h1M264.9 472.1h1M192.0 535.5h1M259.6 466.4h1M221.1 481.1h1" stroke="#6a3c9a" stroke-width="0.9" stroke-linecap="round" fill="none" opacity="0.75"/>
<path d="M197.0 516.6C197.7 517.5 199.8 520.3 201.0 522.0C202.2 523.7 203.2 525.5 204.0 527.0C204.8 528.5 205.7 530.3 206.0 531.0" stroke="#fbf3fb" stroke-width="0.9" fill="none" stroke-linecap="round" stroke-linejoin="round" opacity="1.0"/>
<path d="M219.6 526.0C219.8 526.8 220.3 529.3 221.0 531.0C221.7 532.7 223.1 535.5 223.5 536.4" stroke="#fbf3fb" stroke-width="0.8" fill="none" stroke-linecap="round" stroke-linejoin="round" opacity="1.0"/>
<path d="M271.8 508.7C272.3 509.6 273.7 512.0 275.0 514.0C276.3 516.0 278.9 519.5 279.7 520.6" stroke="#fbf3fb" stroke-width="0.9" fill="none" stroke-linecap="round" stroke-linejoin="round" opacity="1.0"/>
<path d="M302.0 522.0C302.7 522.5 304.7 523.9 306.0 525.0C307.3 526.1 309.3 527.9 310.0 528.5" stroke="#fbf3fb" stroke-width="0.9" fill="none" stroke-linecap="round" stroke-linejoin="round" opacity="1.0"/></g>
<path d="M313.8 352.6H316.8" stroke="#111" stroke-width="1.2"/>
<text x="309.00" y="359.30" text-anchor="start" style="font-family:'Liberation Sans', sans-serif;font-size:4.9px;font-weight:bold;" fill="#111">20 μm</text>
<path d="M313.8 442.8H316.8" stroke="#111" stroke-width="1.2"/>
<text x="309.00" y="449.20" text-anchor="start" style="font-family:'Liberation Sans', sans-serif;font-size:4.9px;font-weight:bold;" fill="#111">20 μm</text>
<path d="M313.8 528.6H316.8" stroke="#111" stroke-width="1.2"/>
<text x="309.00" y="536.00" text-anchor="start" style="font-family:'Liberation Sans', sans-serif;font-size:4.9px;font-weight:bold;" fill="#111">20 μm</text>
<rect x="36.0" y="281.0" width="59.3" height="41.0" fill="none" stroke="#4a66c4" stroke-width="1.0" stroke-dasharray="3 1.6"/>
<path d="M95.3 281.0L180.5 280.0M95.3 322.0L180.5 362.6" stroke="#4a66c4" stroke-width="0.8" stroke-dasharray="2.6 1.8" fill="none"/>
<rect x="76.0" y="388.2" width="59.4" height="42.0" fill="none" stroke="#4a66c4" stroke-width="1.0" stroke-dasharray="3 1.6"/>
<path d="M135.4 388.2L180.5 367.6M135.4 430.2L180.5 451.5" stroke="#4a66c4" stroke-width="0.8" stroke-dasharray="2.6 1.8" fill="none"/>
<rect x="88.4" y="492.0" width="59.4" height="42.5" fill="none" stroke="#4a66c4" stroke-width="1.0" stroke-dasharray="3 1.6"/>
<path d="M147.8 492.0L180.5 453.0M147.8 534.5L180.5 537.0" stroke="#4a66c4" stroke-width="0.8" stroke-dasharray="2.6 1.8" fill="none"/>
<text x="23.00" y="294.20" text-anchor="start" style="font-family:'Liberation Serif', serif;font-size:10.05px;font-weight:bold;" fill="#000">HU FMT NaCl</text>
<text x="21.50" y="381.90" text-anchor="start" style="font-family:'Liberation Serif', serif;font-size:10.05px;font-weight:bold;" fill="#000">HU FMT WT</text>
<text x="21.50" y="465.40" text-anchor="start" style="font-family:'Liberation Serif', serif;font-size:10.05px;font-weight:bold;" fill="#000">HU FMT LIPUS</text>
<text x="256.90" y="290.00" text-anchor="start" style="font-family:'Liberation Serif', serif;font-size:10.05px;font-weight:bold;" fill="#000">HU FMT NaCl</text>
<text x="257.80" y="379.20" text-anchor="start" style="font-family:'Liberation Serif', serif;font-size:10.05px;font-weight:bold;" fill="#000">HU FMT WT</text>
<text x="251.40" y="464.70" text-anchor="start" style="font-family:'Liberation Serif', serif;font-size:10.05px;font-weight:bold;" fill="#000">HU FMT LIPUS</text>
<text x="1.49" y="298.10" text-anchor="start" style="font-family:'Liberation Sans', sans-serif;font-size:15.0px;font-weight:bold;" fill="#000">F</text>
<rect x="384.20" y="364.37" width="17.00" height="7.03" fill="#e9b83c" stroke="#111" stroke-width="0.9"/>
<rect x="384.20" y="360.85" width="17.00" height="3.52" fill="#e8605c" stroke="#111" stroke-width="0.9"/>
<rect x="384.20" y="356.74" width="17.00" height="4.10" fill="#3a9e9c" stroke="#111" stroke-width="0.9"/>
<rect x="410.70" y="346.19" width="17.00" height="25.21" fill="#e9b83c" stroke="#111" stroke-width="0.9"/>
<rect x="410.70" y="331.53" width="17.00" height="14.66" fill="#e8605c" stroke="#111" stroke-width="0.9"/>
<rect x="410.70" y="318.64" width="17.00" height="12.90" fill="#3a9e9c" stroke="#111" stroke-width="0.9"/>
<rect x="437.70" y="354.99" width="17.00" height="16.41" fill="#e9b83c" stroke="#111" stroke-width="0.9"/>
<rect x="437.70" y="336.46" width="17.00" height="18.53" fill="#e8605c" stroke="#111" stroke-width="0.9"/>
<rect x="437.70" y="312.77" width="17.00" height="23.68" fill="#3a9e9c" stroke="#111" stroke-width="0.9"/>
<rect x="464.20" y="363.19" width="17.00" height="8.21" fill="#e9b83c" stroke="#111" stroke-width="0.9"/>
<rect x="464.20" y="346.31" width="17.00" height="16.88" fill="#e8605c" stroke="#111" stroke-width="0.9"/>
<rect x="464.20" y="333.29" width="17.00" height="13.01" fill="#3a9e9c" stroke="#111" stroke-width="0.9"/>
<rect x="490.70" y="368.12" width="17.00" height="3.28" fill="#e9b83c" stroke="#111" stroke-width="0.9"/>
<rect x="490.70" y="363.19" width="17.00" height="4.92" fill="#e8605c" stroke="#111" stroke-width="0.9"/>
<rect x="490.70" y="356.16" width="17.00" height="7.04" fill="#3a9e9c" stroke="#111" stroke-width="0.9"/>
<path d="M371.80 277.10V371.40H517.60" stroke="#2a2a2a" stroke-width="1.1" fill="none"/>
<path d="M368.50 371.40H371.80" stroke="#2a2a2a" stroke-width="1"/>
<text x="367.80" y="373.80" text-anchor="end" style="font-family:'Liberation Sans', sans-serif;font-size:6.6px;font-weight:bold;" fill="#222">0</text>
<path d="M368.50 347.95H371.80" stroke="#2a2a2a" stroke-width="1"/>
<text x="367.80" y="350.35" text-anchor="end" style="font-family:'Liberation Sans', sans-serif;font-size:6.6px;font-weight:bold;" fill="#222">200</text>
<path d="M368.50 324.50H371.80" stroke="#2a2a2a" stroke-width="1"/>
<text x="367.80" y="326.90" text-anchor="end" style="font-family:'Liberation Sans', sans-serif;font-size:6.6px;font-weight:bold;" fill="#222">400</text>
<path d="M368.50 301.05H371.80" stroke="#2a2a2a" stroke-width="1"/>
<text x="367.80" y="303.45" text-anchor="end" style="font-family:'Liberation Sans', sans-serif;font-size:6.6px;font-weight:bold;" fill="#222">600</text>
<path d="M368.50 277.60H371.80" stroke="#2a2a2a" stroke-width="1"/>
<text x="367.80" y="280.00" text-anchor="end" style="font-family:'Liberation Sans', sans-serif;font-size:6.6px;font-weight:bold;" fill="#222">800</text>
<path d="M392.70 371.40V374.20" stroke="#2a2a2a" stroke-width="1"/>
<text x="395.90" y="380.40" text-anchor="end" style="font-family:'Liberation Sans', sans-serif;font-size:7.1px;font-weight:bold;" fill="#222" transform="rotate(-45 395.90 380.40)">1&lt;300</text>
<path d="M419.20 371.40V374.20" stroke="#2a2a2a" stroke-width="1"/>
<text x="422.40" y="380.40" text-anchor="end" style="font-family:'Liberation Sans', sans-serif;font-size:7.1px;font-weight:bold;" fill="#222" transform="rotate(-45 422.40 380.40)">300-600</text>
<path d="M446.20 371.40V374.20" stroke="#2a2a2a" stroke-width="1"/>
<text x="449.40" y="380.40" text-anchor="end" style="font-family:'Liberation Sans', sans-serif;font-size:7.1px;font-weight:bold;" fill="#222" transform="rotate(-45 449.40 380.40)">600-900</text>
<path d="M472.70 371.40V374.20" stroke="#2a2a2a" stroke-width="1"/>
<text x="475.90" y="380.40" text-anchor="end" style="font-family:'Liberation Sans', sans-serif;font-size:7.1px;font-weight:bold;" fill="#222" transform="rotate(-45 475.90 380.40)">900-1200</text>
<path d="M499.20 371.40V374.20" stroke="#2a2a2a" stroke-width="1"/>
<text x="502.40" y="380.40" text-anchor="end" style="font-family:'Liberation Sans', sans-serif;font-size:7.1px;font-weight:bold;" fill="#222" transform="rotate(-45 502.40 380.40)">&gt;1200</text>
<rect x="382.2" y="283.0" width="9.4" height="4.6" fill="#e9b83c" stroke="#111" stroke-width="0.8"/>
<text x="397.60" y="287.80" text-anchor="start" style="font-family:'Liberation Sans', sans-serif;font-size:7.8px;font-weight:bold;" fill="#111">HU FMT Nacl</text>
<rect x="457.5" y="283.0" width="9.4" height="4.6" fill="#e8605c" stroke="#111" stroke-width="0.8"/>
<text x="472.90" y="287.80" text-anchor="start" style="font-family:'Liberation Sans', sans-serif;font-size:7.8px;font-weight:bold;" fill="#111">HU FMT WT</text>
<rect x="382.2" y="295.0" width="9.4" height="4.6" fill="#3a9e9c" stroke="#111" stroke-width="0.8"/>
<text x="397.60" y="299.80" text-anchor="start" style="font-family:'Liberation Sans', sans-serif;font-size:7.8px;font-weight:bold;" fill="#111">HU FMT LIPUS</text>
<text x="353.20" y="323.30" text-anchor="middle" style="font-family:'Liberation Sans', sans-serif;font-size:8.0px;font-weight:bold;" fill="#111" transform="rotate(-90 353.20 323.30)" textLength="92.0" lengthAdjust="spacingAndGlyphs">Number of muscle fibers</text>
<text x="350.50" y="415.00" text-anchor="start" style="font-family:'Liberation Sans', sans-serif;font-size:8.0px;font-weight:bold;" fill="#111" textLength="190" lengthAdjust="spacingAndGlyphs">Cross-sectional area of single muscle fiber (pixel)</text>
<text x="334.19" y="285.70" text-anchor="start" style="font-family:'Liberation Sans', sans-serif;font-size:15.0px;font-weight:bold;" fill="#000">G</text>
<rect x="402.50" y="52.25" width="24.00" height="60.95" fill="#fff" stroke="#e9b83c" stroke-width="1.1"/>
<path d="M414.50 52.25V44.08M409.00 44.08H420.00" stroke="#e9b83c" stroke-width="0.8" fill="none" opacity="0.55"/>
<path d="M414.50 41.14L416.16 42.94L414.50 44.74L412.84 42.94Z" fill="#e9b83c"/>
<path d="M411.50 43.75L413.16 45.55L411.50 47.35L409.84 45.55Z" fill="#e9b83c"/>
<path d="M417.50 43.75L419.16 45.55L417.50 47.35L415.84 45.55Z" fill="#e9b83c"/>
<path d="M412.00 46.04L413.66 47.84L412.00 49.64L410.34 47.84Z" fill="#e9b83c"/>
<path d="M417.50 46.37L419.16 48.17L417.50 49.97L415.84 48.17Z" fill="#e9b83c"/>
<path d="M414.50 50.62L416.16 52.42L414.50 54.22L412.84 52.42Z" fill="#e9b83c"/>
<path d="M414.50 57.15L416.16 58.95L414.50 60.75L412.84 58.95Z" fill="#e9b83c"/>
<path d="M414.50 67.28L416.16 69.08L414.50 70.88L412.84 69.08Z" fill="#e9b83c"/>
<rect x="439.50" y="46.21" width="24.00" height="66.99" fill="#fff" stroke="#e8605c" stroke-width="1.1"/>
<path d="M451.50 46.21V43.26M446.00 43.26H457.00" stroke="#e8605c" stroke-width="0.8" fill="none" opacity="0.55"/>
<path d="M447.50 40.23L449.45 43.72L445.55 43.72Z" fill="#e8605c"/>
<path d="M451.50 39.58L453.45 43.07L449.55 43.07Z" fill="#e8605c"/>
<path d="M455.50 40.23L457.45 43.72L453.55 43.72Z" fill="#e8605c"/>
<path d="M445.50 43.83L447.45 47.31L443.55 47.31Z" fill="#e8605c"/>
<path d="M457.50 44.16L459.45 47.64L455.55 47.64Z" fill="#e8605c"/>
<path d="M451.50 43.18L453.45 46.66L449.55 46.66Z" fill="#e8605c"/>
<path d="M448.50 48.08L450.45 51.56L446.55 51.56Z" fill="#e8605c"/>
<path d="M454.50 48.40L456.45 51.89L452.55 51.89Z" fill="#e8605c"/>
<rect x="476.20" y="45.00" width="23.60" height="68.20" fill="#fff" stroke="#3a9e9c" stroke-width="1.1"/>
<path d="M488.00 45.00V42.71M482.50 42.71H493.50" stroke="#3a9e9c" stroke-width="0.8" fill="none" opacity="0.55"/>
<circle cx="485.00" cy="40.65" r="1.70" fill="#3a9e9c"/>
<circle cx="491.00" cy="40.32" r="1.70" fill="#3a9e9c"/>
<circle cx="483.00" cy="43.59" r="1.70" fill="#3a9e9c"/>
<circle cx="493.00" cy="43.59" r="1.70" fill="#3a9e9c"/>
<circle cx="482.00" cy="45.88" r="1.70" fill="#3a9e9c"/>
<circle cx="486.00" cy="45.88" r="1.70" fill="#3a9e9c"/>
<circle cx="490.00" cy="45.88" r="1.70" fill="#3a9e9c"/>
<circle cx="494.00" cy="45.88" r="1.70" fill="#3a9e9c"/>
<path d="M390.30 31.00V113.20H512.70" stroke="#2a2a2a" stroke-width="1.1" fill="none"/>
<path d="M387.00 113.20H390.30" stroke="#2a2a2a" stroke-width="1"/>
<text x="386.30" y="115.50" text-anchor="end" style="font-family:'Liberation Sans', sans-serif;font-size:6.3px;font-weight:bold;" fill="#151515">0</text>
<path d="M387.00 96.86H390.30" stroke="#2a2a2a" stroke-width="1"/>
<text x="386.30" y="99.16" text-anchor="end" style="font-family:'Liberation Sans', sans-serif;font-size:6.3px;font-weight:bold;" fill="#151515">5</text>
<path d="M387.00 80.52H390.30" stroke="#2a2a2a" stroke-width="1"/>
<text x="386.30" y="82.82" text-anchor="end" style="font-family:'Liberation Sans', sans-serif;font-size:6.3px;font-weight:bold;" fill="#151515">10</text>
<path d="M387.00 64.18H390.30" stroke="#2a2a2a" stroke-width="1"/>
<text x="386.30" y="66.48" text-anchor="end" style="font-family:'Liberation Sans', sans-serif;font-size:6.3px;font-weight:bold;" fill="#151515">15</text>
<path d="M387.00 47.84H390.30" stroke="#2a2a2a" stroke-width="1"/>
<text x="386.30" y="50.14" text-anchor="end" style="font-family:'Liberation Sans', sans-serif;font-size:6.3px;font-weight:bold;" fill="#151515">20</text>
<path d="M387.00 31.50H390.30" stroke="#2a2a2a" stroke-width="1"/>
<text x="386.30" y="33.80" text-anchor="end" style="font-family:'Liberation Sans', sans-serif;font-size:6.3px;font-weight:bold;" fill="#151515">25</text>
<path d="M414.50 113.20V116.40" stroke="#2a2a2a" stroke-width="1.15"/>
<text x="393.40" y="124.60" text-anchor="start" style="font-family:'Liberation Sans', sans-serif;font-size:5.9px;font-weight:bold;" fill="#151515">HU FMT NaCl</text>
<path d="M451.50 113.20V116.40" stroke="#2a2a2a" stroke-width="1.15"/>
<text x="435.90" y="124.60" text-anchor="start" style="font-family:'Liberation Sans', sans-serif;font-size:5.9px;font-weight:bold;" fill="#151515">HU FMT WT</text>
<path d="M488.00 113.20V116.40" stroke="#2a2a2a" stroke-width="1.15"/>
<text x="474.90" y="124.60" text-anchor="start" style="font-family:'Liberation Sans', sans-serif;font-size:5.9px;font-weight:bold;" fill="#151515">HU FMT LIPUS</text>
<path d="M414.50 25.50V20.50H488.00V25.50" stroke="#333" stroke-width="1.0" fill="none"/>
<path d="M451.25 13.55L451.91 14.99L453.48 15.17L452.32 16.25L452.63 17.80L451.25 17.03L449.87 17.80L450.18 16.25L449.02 15.17L450.59 14.99Z" fill="#222"/>
<path d="M414.50 37.80V33.70H449.15V37.80" stroke="#333" stroke-width="1.0" fill="none"/>
<text x="431.82" y="30.80" text-anchor="middle" style="font-family:'Liberation Sans', sans-serif;font-size:6.3px;font-weight:bold;font-style:italic;" fill="#1a1a1a">P=0.0965</text>
<path d="M451.85 37.80V33.70H488.00V37.80" stroke="#333" stroke-width="1.0" fill="none"/>
<text x="469.93" y="30.80" text-anchor="middle" style="font-family:'Liberation Sans', sans-serif;font-size:6.3px;font-weight:bold;font-style:italic;" fill="#1a1a1a">P=0.8657</text>
<text x="374.60" y="73.30" text-anchor="middle" style="font-family:'Liberation Sans', sans-serif;font-size:6.9px;font-weight:bold;" fill="#111" transform="rotate(-90 374.60 73.30)" textLength="58.1" lengthAdjust="spacingAndGlyphs">Body weight ( g)</text>
<text x="367.19" y="16.40" text-anchor="start" style="font-family:'Liberation Sans', sans-serif;font-size:15.0px;font-weight:bold;" fill="#000">B</text>
<rect x="562.80" y="82.19" width="24.20" height="24.21" fill="#fff" stroke="#e9b83c" stroke-width="1.1"/>
<path d="M574.90 82.19V77.63M569.40 77.63H580.40" stroke="#e9b83c" stroke-width="0.8" fill="none" opacity="0.55"/>
<path d="M570.40 75.42L572.06 77.22L570.40 79.02L568.74 77.22Z" fill="#e9b83c"/>
<path d="M574.90 75.42L576.56 77.22L574.90 79.02L573.24 77.22Z" fill="#e9b83c"/>
<path d="M579.90 75.42L581.56 77.22L579.90 79.02L578.24 77.22Z" fill="#e9b83c"/>
<path d="M574.90 79.61L576.56 81.41L574.90 83.21L573.24 81.41Z" fill="#e9b83c"/>
<path d="M570.40 84.00L572.06 85.80L570.40 87.60L568.74 85.80Z" fill="#e9b83c"/>
<path d="M574.90 84.00L576.56 85.80L574.90 87.60L573.24 85.80Z" fill="#e9b83c"/>
<path d="M579.90 84.00L581.56 85.80L579.90 87.60L578.24 85.80Z" fill="#e9b83c"/>
<path d="M574.90 88.02L576.56 89.82L574.90 91.62L573.24 89.82Z" fill="#e9b83c"/>
<rect x="600.30" y="65.28" width="24.60" height="41.12" fill="#fff" stroke="#e8605c" stroke-width="1.1"/>
<path d="M612.60 65.28V60.31M607.10 60.31H618.10" stroke="#e8605c" stroke-width="0.8" fill="none" opacity="0.55"/>
<path d="M612.60 54.44L614.55 57.93L610.65 57.93Z" fill="#e8605c"/>
<path d="M612.60 58.46L614.55 61.95L610.65 61.95Z" fill="#e8605c"/>
<path d="M608.00 62.86L609.95 66.34L606.05 66.34Z" fill="#e8605c"/>
<path d="M612.60 62.86L614.55 66.34L610.65 66.34Z" fill="#e8605c"/>
<path d="M617.40 62.86L619.35 66.34L615.45 66.34Z" fill="#e8605c"/>
<path d="M610.10 66.84L612.05 70.32L608.15 70.32Z" fill="#e8605c"/>
<path d="M615.10 66.84L617.05 70.32L613.15 70.32Z" fill="#e8605c"/>
<path d="M612.60 71.19L614.55 74.68L610.65 74.68Z" fill="#e8605c"/>
<rect x="637.20" y="56.49" width="24.20" height="49.91" fill="#fff" stroke="#3a9e9c" stroke-width="1.1"/>
<path d="M649.30 56.49V48.62M643.80 48.62H654.80" stroke="#3a9e9c" stroke-width="0.8" fill="none" opacity="0.55"/>
<circle cx="649.30" cy="44.31" r="1.70" fill="#3a9e9c"/>
<circle cx="649.30" cy="48.49" r="1.70" fill="#3a9e9c"/>
<circle cx="649.30" cy="52.52" r="1.70" fill="#3a9e9c"/>
<circle cx="646.80" cy="56.49" r="1.70" fill="#3a9e9c"/>
<circle cx="651.80" cy="56.49" r="1.70" fill="#3a9e9c"/>
<circle cx="646.80" cy="64.91" r="1.70" fill="#3a9e9c"/>
<circle cx="651.80" cy="64.91" r="1.70" fill="#3a9e9c"/>
<circle cx="649.30" cy="59.98" r="1.70" fill="#3a9e9c"/>
<path d="M550.70 23.00V106.40H674.80" stroke="#2a2a2a" stroke-width="1.1" fill="none"/>
<path d="M547.40 106.40H550.70" stroke="#2a2a2a" stroke-width="1"/>
<text x="546.70" y="108.70" text-anchor="end" style="font-family:'Liberation Sans', sans-serif;font-size:6.3px;font-weight:bold;" fill="#151515">0.000</text>
<path d="M547.40 85.68H550.70" stroke="#2a2a2a" stroke-width="1"/>
<text x="546.70" y="87.98" text-anchor="end" style="font-family:'Liberation Sans', sans-serif;font-size:6.3px;font-weight:bold;" fill="#151515">0.005</text>
<path d="M547.40 64.95H550.70" stroke="#2a2a2a" stroke-width="1"/>
<text x="546.70" y="67.25" text-anchor="end" style="font-family:'Liberation Sans', sans-serif;font-size:6.3px;font-weight:bold;" fill="#151515">0.010</text>
<path d="M547.40 44.23H550.70" stroke="#2a2a2a" stroke-width="1"/>
<text x="546.70" y="46.52" text-anchor="end" style="font-family:'Liberation Sans', sans-serif;font-size:6.3px;font-weight:bold;" fill="#151515">0.015</text>
<path d="M547.40 23.50H550.70" stroke="#2a2a2a" stroke-width="1"/>
<text x="546.70" y="25.80" text-anchor="end" style="font-family:'Liberation Sans', sans-serif;font-size:6.3px;font-weight:bold;" fill="#151515">0.020</text>
<path d="M574.90 106.40V109.60" stroke="#2a2a2a" stroke-width="1.15"/>
<text x="553.80" y="117.80" text-anchor="start" style="font-family:'Liberation Sans', sans-serif;font-size:5.9px;font-weight:bold;" fill="#151515">HU FMT NaCl</text>
<path d="M612.60 106.40V109.60" stroke="#2a2a2a" stroke-width="1.15"/>
<text x="597.00" y="117.80" text-anchor="start" style="font-family:'Liberation Sans', sans-serif;font-size:5.9px;font-weight:bold;" fill="#151515">HU FMT WT</text>
<path d="M649.30 106.40V109.60" stroke="#2a2a2a" stroke-width="1.15"/>
<text x="636.20" y="117.80" text-anchor="start" style="font-family:'Liberation Sans', sans-serif;font-size:5.9px;font-weight:bold;" fill="#151515">HU FMT LIPUS</text>
<path d="M574.90 28.70V23.70H649.30V28.70" stroke="#333" stroke-width="1.0" fill="none"/>
<path d="M609.65 16.75L610.31 18.19L611.88 18.37L610.72 19.45L611.03 21.00L609.65 20.23L608.27 21.00L608.58 19.45L607.42 18.37L608.99 18.19Z" fill="#222"/><path d="M614.55 16.75L615.21 18.19L616.78 18.37L615.62 19.45L615.93 21.00L614.55 20.23L613.17 21.00L613.48 19.45L612.32 18.37L613.89 18.19Z" fill="#222"/>
<path d="M574.90 39.00V35.30H610.45V39.00" stroke="#333" stroke-width="1.0" fill="none"/>
<path d="M590.22 28.35L590.89 29.79L592.46 29.97L591.30 31.05L591.61 32.60L590.22 31.83L588.84 32.60L589.15 31.05L587.99 29.97L589.56 29.79Z" fill="#222"/><path d="M595.12 28.35L595.79 29.79L597.36 29.97L596.20 31.05L596.51 32.60L595.12 31.83L593.74 32.60L594.05 31.05L592.89 29.97L594.46 29.79Z" fill="#222"/>
<path d="M613.15 39.00V35.30H649.30V39.00" stroke="#333" stroke-width="1.0" fill="none"/>
<path d="M631.22 28.35L631.89 29.79L633.46 29.97L632.30 31.05L632.61 32.60L631.22 31.83L629.84 32.60L630.15 31.05L628.99 29.97L630.56 29.79Z" fill="#222"/>
<text x="525.80" y="64.00" text-anchor="middle" style="font-family:'Liberation Sans', sans-serif;font-size:6.9px;font-weight:bold;" fill="#111" transform="rotate(-90 525.80 64.00)" textLength="58.3" lengthAdjust="spacingAndGlyphs">Soleus weight( g)</text>
<text x="517.18" y="16.30" text-anchor="start" style="font-family:'Liberation Sans', sans-serif;font-size:15.0px;font-weight:bold;" fill="#000">C</text>
<rect x="402.50" y="212.41" width="24.40" height="45.99" fill="#fff" stroke="#e9b83c" stroke-width="1.1"/>
<path d="M414.70 212.41V207.87M409.20 207.87H420.20" stroke="#e9b83c" stroke-width="0.8" fill="none" opacity="0.55"/>
<path d="M410.20 205.45L411.86 207.25L410.20 209.05L408.54 207.25Z" fill="#e9b83c"/>
<path d="M414.70 205.45L416.36 207.25L414.70 209.05L413.04 207.25Z" fill="#e9b83c"/>
<path d="M419.70 205.45L421.36 207.25L419.70 209.05L418.04 207.25Z" fill="#e9b83c"/>
<path d="M414.70 208.75L416.36 210.55L414.70 212.35L413.04 210.55Z" fill="#e9b83c"/>
<path d="M410.20 212.05L411.86 213.85L410.20 215.65L408.54 213.85Z" fill="#e9b83c"/>
<path d="M414.70 212.05L416.36 213.85L414.70 215.65L413.04 213.85Z" fill="#e9b83c"/>
<path d="M419.70 212.05L421.36 213.85L419.70 215.65L418.04 213.85Z" fill="#e9b83c"/>
<path d="M414.70 219.06L416.36 220.86L414.70 222.66L413.04 220.86Z" fill="#e9b83c"/>
<rect x="439.70" y="208.41" width="24.60" height="49.99" fill="#fff" stroke="#e8605c" stroke-width="1.1"/>
<path d="M452.00 208.41V206.34M446.50 206.34H457.50" stroke="#e8605c" stroke-width="0.8" fill="none" opacity="0.55"/>
<path d="M448.00 203.14L449.95 206.62L446.05 206.62Z" fill="#e8605c"/>
<path d="M452.00 202.31L453.95 205.80L450.05 205.80Z" fill="#e8605c"/>
<path d="M456.00 203.55L457.95 207.03L454.05 207.03Z" fill="#e8605c"/>
<path d="M446.00 206.85L447.95 210.34L444.05 210.34Z" fill="#e8605c"/>
<path d="M450.00 206.85L451.95 210.34L448.05 210.34Z" fill="#e8605c"/>
<path d="M454.00 206.85L455.95 210.34L452.05 210.34Z" fill="#e8605c"/>
<path d="M458.00 206.85L459.95 210.34L456.05 210.34Z" fill="#e8605c"/>
<path d="M452.00 204.79L453.95 208.27L450.05 208.27Z" fill="#e8605c"/>
<rect x="476.80" y="204.28" width="24.40" height="54.12" fill="#fff" stroke="#3a9e9c" stroke-width="1.1"/>
<path d="M489.00 204.28V198.92M483.50 198.92H494.50" stroke="#3a9e9c" stroke-width="0.8" fill="none" opacity="0.55"/>
<circle cx="488.00" cy="196.94" r="1.70" fill="#3a9e9c"/>
<circle cx="488.00" cy="199.41" r="1.70" fill="#3a9e9c"/>
<circle cx="492.00" cy="199.00" r="1.70" fill="#3a9e9c"/>
<circle cx="489.00" cy="203.12" r="1.70" fill="#3a9e9c"/>
<circle cx="485.00" cy="205.81" r="1.70" fill="#3a9e9c"/>
<circle cx="493.00" cy="205.81" r="1.70" fill="#3a9e9c"/>
<circle cx="489.00" cy="208.49" r="1.70" fill="#3a9e9c"/>
<circle cx="489.00" cy="214.39" r="1.70" fill="#3a9e9c"/>
<path d="M390.30 175.40V258.40H513.70" stroke="#2a2a2a" stroke-width="1.1" fill="none"/>
<path d="M387.00 258.40H390.30" stroke="#2a2a2a" stroke-width="1"/>
<text x="386.30" y="260.70" text-anchor="end" style="font-family:'Liberation Sans', sans-serif;font-size:6.3px;font-weight:bold;" fill="#151515">0.00</text>
<path d="M387.00 237.77H390.30" stroke="#2a2a2a" stroke-width="1"/>
<text x="386.30" y="240.07" text-anchor="end" style="font-family:'Liberation Sans', sans-serif;font-size:6.3px;font-weight:bold;" fill="#151515">0.05</text>
<path d="M387.00 217.15H390.30" stroke="#2a2a2a" stroke-width="1"/>
<text x="386.30" y="219.45" text-anchor="end" style="font-family:'Liberation Sans', sans-serif;font-size:6.3px;font-weight:bold;" fill="#151515">0.10</text>
<path d="M387.00 196.53H390.30" stroke="#2a2a2a" stroke-width="1"/>
<text x="386.30" y="198.83" text-anchor="end" style="font-family:'Liberation Sans', sans-serif;font-size:6.3px;font-weight:bold;" fill="#151515">0.15</text>
<path d="M387.00 175.90H390.30" stroke="#2a2a2a" stroke-width="1"/>
<text x="386.30" y="178.20" text-anchor="end" style="font-family:'Liberation Sans', sans-serif;font-size:6.3px;font-weight:bold;" fill="#151515">0.20</text>
<path d="M414.70 258.40V261.60" stroke="#2a2a2a" stroke-width="1.15"/>
<text x="393.60" y="269.60" text-anchor="start" style="font-family:'Liberation Sans', sans-serif;font-size:6.0px;font-weight:bold;" fill="#151515">HU FMT NaCl</text>
<path d="M452.00 258.40V261.60" stroke="#2a2a2a" stroke-width="1.15"/>
<text x="436.40" y="269.60" text-anchor="start" style="font-family:'Liberation Sans', sans-serif;font-size:6.0px;font-weight:bold;" fill="#151515">HU FMT WT</text>
<path d="M489.00 258.40V261.60" stroke="#2a2a2a" stroke-width="1.15"/>
<text x="475.90" y="269.60" text-anchor="start" style="font-family:'Liberation Sans', sans-serif;font-size:6.0px;font-weight:bold;" fill="#151515">HU FMT LIPUS</text>
<path d="M411.70 182.30V177.30H489.30V182.30" stroke="#333" stroke-width="1.0" fill="none"/>
<path d="M448.05 170.35L448.71 171.79L450.28 171.97L449.12 173.05L449.43 174.60L448.05 173.83L446.67 174.60L446.98 173.05L445.82 171.97L447.39 171.79Z" fill="#222"/><path d="M452.95 170.35L453.61 171.79L455.18 171.97L454.02 173.05L454.33 174.60L452.95 173.83L451.57 174.60L451.88 173.05L450.72 171.97L452.29 171.79Z" fill="#222"/>
<path d="M411.70 192.40V188.80H450.40V192.40" stroke="#333" stroke-width="1.0" fill="none"/>
<text x="431.05" y="185.90" text-anchor="middle" style="font-family:'Liberation Sans', sans-serif;font-size:6.3px;font-weight:bold;font-style:italic;" fill="#1a1a1a">P=0.2751</text>
<path d="M453.30 192.40V188.80H489.30V192.40" stroke="#333" stroke-width="1.0" fill="none"/>
<text x="471.30" y="185.90" text-anchor="middle" style="font-family:'Liberation Sans', sans-serif;font-size:6.3px;font-weight:bold;font-style:italic;" fill="#1a1a1a">P=0.1902</text>
<text x="367.80" y="217.70" text-anchor="middle" style="font-family:'Liberation Sans', sans-serif;font-size:6.9px;font-weight:bold;" fill="#111" transform="rotate(-90 367.80 217.70)" textLength="94.2" lengthAdjust="spacingAndGlyphs">Gastrocnemius weight  ( g)</text>
<text x="367.19" y="154.10" text-anchor="start" style="font-family:'Liberation Sans', sans-serif;font-size:15.0px;font-weight:bold;" fill="#000">D</text>
<rect x="564.60" y="203.30" width="25.40" height="54.10" fill="#fff" stroke="#e9b83c" stroke-width="1.1"/>
<path d="M577.30 203.30V198.21M571.80 198.21H582.80" stroke="#e9b83c" stroke-width="0.8" fill="none" opacity="0.55"/>
<path d="M577.30 193.81L578.96 195.61L577.30 197.41L575.64 195.61Z" fill="#e9b83c"/>
<path d="M572.30 197.65L573.96 199.45L572.30 201.25L570.64 199.45Z" fill="#e9b83c"/>
<path d="M582.30 197.65L583.96 199.45L582.30 201.25L580.64 199.45Z" fill="#e9b83c"/>
<path d="M572.30 201.89L573.96 203.69L572.30 205.49L570.64 203.69Z" fill="#e9b83c"/>
<path d="M577.30 202.74L578.96 204.54L577.30 206.34L575.64 204.54Z" fill="#e9b83c"/>
<path d="M582.30 201.89L583.96 203.69L582.30 205.49L580.64 203.69Z" fill="#e9b83c"/>
<path d="M572.30 207.91L573.96 209.71L572.30 211.51L570.64 209.71Z" fill="#e9b83c"/>
<path d="M582.30 207.91L583.96 209.71L582.30 211.51L580.64 209.71Z" fill="#e9b83c"/>
<rect x="603.50" y="195.81" width="24.60" height="61.59" fill="#fff" stroke="#e8605c" stroke-width="1.1"/>
<path d="M615.80 195.81V187.89M610.30 187.89H621.30" stroke="#e8605c" stroke-width="0.8" fill="none" opacity="0.55"/>
<path d="M615.80 182.42L617.75 185.91L613.85 185.91Z" fill="#e8605c"/>
<path d="M613.80 185.53L615.75 189.02L611.85 189.02Z" fill="#e8605c"/>
<path d="M618.80 187.51L620.75 191.00L616.85 191.00Z" fill="#e8605c"/>
<path d="M615.80 190.90L617.75 194.39L613.85 194.39Z" fill="#e8605c"/>
<path d="M618.80 192.60L620.75 196.08L616.85 196.08Z" fill="#e8605c"/>
<path d="M612.80 203.34L614.75 206.82L610.85 206.82Z" fill="#e8605c"/>
<path d="M618.80 202.77L620.75 206.26L616.85 206.26Z" fill="#e8605c"/>
<path d="M615.80 198.82L617.75 202.30L613.85 202.30Z" fill="#e8605c"/>
<rect x="641.20" y="183.79" width="25.00" height="73.61" fill="#fff" stroke="#3a9e9c" stroke-width="1.1"/>
<path d="M653.70 183.79V180.97M648.20 180.97H659.20" stroke="#3a9e9c" stroke-width="0.8" fill="none" opacity="0.55"/>
<circle cx="648.70" cy="179.10" r="1.70" fill="#3a9e9c"/>
<circle cx="656.70" cy="178.54" r="1.70" fill="#3a9e9c"/>
<circle cx="653.70" cy="180.51" r="1.70" fill="#3a9e9c"/>
<circle cx="659.70" cy="181.65" r="1.70" fill="#3a9e9c"/>
<circle cx="647.70" cy="183.34" r="1.70" fill="#3a9e9c"/>
<circle cx="652.70" cy="183.91" r="1.70" fill="#3a9e9c"/>
<circle cx="657.70" cy="185.32" r="1.70" fill="#3a9e9c"/>
<circle cx="660.70" cy="185.04" r="1.70" fill="#3a9e9c"/>
<path d="M552.00 172.10V257.40H679.20" stroke="#2a2a2a" stroke-width="1.1" fill="none"/>
<path d="M548.70 257.40H552.00" stroke="#2a2a2a" stroke-width="1"/>
<text x="548.00" y="259.70" text-anchor="end" style="font-family:'Liberation Sans', sans-serif;font-size:6.3px;font-weight:bold;" fill="#151515">0</text>
<path d="M548.70 229.13H552.00" stroke="#2a2a2a" stroke-width="1"/>
<text x="548.00" y="231.43" text-anchor="end" style="font-family:'Liberation Sans', sans-serif;font-size:6.3px;font-weight:bold;" fill="#151515">100</text>
<path d="M548.70 200.87H552.00" stroke="#2a2a2a" stroke-width="1"/>
<text x="548.00" y="203.17" text-anchor="end" style="font-family:'Liberation Sans', sans-serif;font-size:6.3px;font-weight:bold;" fill="#151515">200</text>
<path d="M548.70 172.60H552.00" stroke="#2a2a2a" stroke-width="1"/>
<text x="548.00" y="174.90" text-anchor="end" style="font-family:'Liberation Sans', sans-serif;font-size:6.3px;font-weight:bold;" fill="#151515">300</text>
<path d="M577.30 257.40V260.60" stroke="#2a2a2a" stroke-width="1.15"/>
<text x="556.20" y="266.60" text-anchor="start" style="font-family:'Liberation Sans', sans-serif;font-size:6.1px;font-weight:bold;" fill="#151515">HU FMT NaCl</text>
<path d="M615.80 257.40V260.60" stroke="#2a2a2a" stroke-width="1.15"/>
<text x="600.20" y="266.60" text-anchor="start" style="font-family:'Liberation Sans', sans-serif;font-size:6.1px;font-weight:bold;" fill="#151515">HU FMT WT</text>
<path d="M653.70 257.40V260.60" stroke="#2a2a2a" stroke-width="1.15"/>
<text x="640.60" y="266.60" text-anchor="start" style="font-family:'Liberation Sans', sans-serif;font-size:6.1px;font-weight:bold;" fill="#151515">HU FMT LIPUS</text>
<path d="M573.40 163.00V158.00H653.40V163.00" stroke="#333" stroke-width="1.0" fill="none"/>
<path d="M610.95 151.05L611.61 152.49L613.18 152.67L612.02 153.75L612.33 155.30L610.95 154.53L609.57 155.30L609.88 153.75L608.72 152.67L610.29 152.49Z" fill="#222"/><path d="M615.85 151.05L616.51 152.49L618.08 152.67L616.92 153.75L617.23 155.30L615.85 154.53L614.47 155.30L614.78 153.75L613.62 152.67L615.19 152.49Z" fill="#222"/>
<path d="M573.40 173.20V169.50H613.70V173.20" stroke="#333" stroke-width="1.0" fill="none"/>
<path d="M593.55 162.55L594.21 163.99L595.78 164.17L594.62 165.25L594.93 166.80L593.55 166.03L592.17 166.80L592.48 165.25L591.32 164.17L592.89 163.99Z" fill="#222"/>
<path d="M616.40 173.20V169.50H653.40V173.20" stroke="#333" stroke-width="1.0" fill="none"/>
<path d="M632.45 162.55L633.11 163.99L634.68 164.17L633.52 165.25L633.83 166.80L632.45 166.03L631.07 166.80L631.38 165.25L630.22 164.17L631.79 163.99Z" fill="#222"/><path d="M637.35 162.55L638.01 163.99L639.58 164.17L638.42 165.25L638.73 166.80L637.35 166.03L635.97 166.80L636.28 165.25L635.12 164.17L636.69 163.99Z" fill="#222"/>
<text x="532.00" y="214.90" text-anchor="middle" style="font-family:'Liberation Sans', sans-serif;font-size:6.9px;font-weight:bold;" fill="#111" transform="rotate(-90 532.00 214.90)" textLength="59.9" lengthAdjust="spacingAndGlyphs">Grip strength  (N)</text>
<text x="524.50" y="154.30" text-anchor="start" style="font-family:'Liberation Sans', sans-serif;font-size:15.0px;font-weight:bold;" fill="#000">E</text>
<rect x="574.20" y="335.11" width="21.60" height="45.69" fill="#fff" stroke="#e9b83c" stroke-width="1.1"/>
<path d="M585.00 335.11V331.09M579.50 331.09H590.50" stroke="#e9b83c" stroke-width="0.8" fill="none" opacity="0.55"/>
<path d="M585.00 329.29L586.66 331.09L585.00 332.89L583.34 331.09Z" fill="#e9b83c"/>
<path d="M585.00 333.31L586.66 335.11L585.00 336.91L583.34 335.11Z" fill="#e9b83c"/>
<path d="M585.00 337.33L586.66 339.13L585.00 340.93L583.34 339.13Z" fill="#e9b83c"/>
<rect x="607.40" y="325.10" width="21.20" height="55.70" fill="#fff" stroke="#e8605c" stroke-width="1.1"/>
<path d="M618.00 325.10V321.81M612.50 321.81H623.50" stroke="#e8605c" stroke-width="0.8" fill="none" opacity="0.55"/>
<path d="M614.00 320.27L615.95 323.75L612.05 323.75Z" fill="#e8605c"/>
<path d="M622.00 321.73L623.95 325.22L620.05 325.22Z" fill="#e8605c"/>
<path d="M618.00 326.12L619.95 329.60L616.05 329.60Z" fill="#e8605c"/>
<rect x="640.30" y="322.17" width="21.40" height="58.63" fill="#fff" stroke="#3a9e9c" stroke-width="1.1"/>
<path d="M651.00 322.17V320.71M645.50 320.71H656.50" stroke="#3a9e9c" stroke-width="0.8" fill="none" opacity="0.55"/>
<circle cx="648.00" cy="320.13" r="1.70" fill="#3a9e9c"/>
<circle cx="654.00" cy="321.59" r="1.70" fill="#3a9e9c"/>
<circle cx="648.00" cy="323.05" r="1.70" fill="#3a9e9c"/>
<circle cx="658.00" cy="321.59" r="1.70" fill="#3a9e9c"/>
<path d="M562.90 307.20V380.80H673.40" stroke="#2a2a2a" stroke-width="1.1" fill="none"/>
<path d="M559.60 380.80H562.90" stroke="#2a2a2a" stroke-width="1"/>
<text x="558.90" y="383.10" text-anchor="end" style="font-family:'Liberation Sans', sans-serif;font-size:5.6px;font-weight:bold;" fill="#151515">0</text>
<path d="M559.60 366.18H562.90" stroke="#2a2a2a" stroke-width="1"/>
<text x="558.90" y="368.48" text-anchor="end" style="font-family:'Liberation Sans', sans-serif;font-size:5.6px;font-weight:bold;" fill="#151515">20</text>
<path d="M559.60 351.56H562.90" stroke="#2a2a2a" stroke-width="1"/>
<text x="558.90" y="353.86" text-anchor="end" style="font-family:'Liberation Sans', sans-serif;font-size:5.6px;font-weight:bold;" fill="#151515">40</text>
<path d="M559.60 336.94H562.90" stroke="#2a2a2a" stroke-width="1"/>
<text x="558.90" y="339.24" text-anchor="end" style="font-family:'Liberation Sans', sans-serif;font-size:5.6px;font-weight:bold;" fill="#151515">60</text>
<path d="M559.60 322.32H562.90" stroke="#2a2a2a" stroke-width="1"/>
<text x="558.90" y="324.62" text-anchor="end" style="font-family:'Liberation Sans', sans-serif;font-size:5.6px;font-weight:bold;" fill="#151515">80</text>
<path d="M559.60 307.70H562.90" stroke="#2a2a2a" stroke-width="1"/>
<text x="558.90" y="310.00" text-anchor="end" style="font-family:'Liberation Sans', sans-serif;font-size:5.6px;font-weight:bold;" fill="#151515">100</text>
<path d="M585.00 380.80V384.00" stroke="#2a2a2a" stroke-width="1.15"/>
<text x="565.70" y="390.40" text-anchor="start" style="font-family:'Liberation Sans', sans-serif;font-size:5.3px;font-weight:bold;" fill="#151515">HU FMT NaCl</text>
<path d="M618.00 380.80V384.00" stroke="#2a2a2a" stroke-width="1.15"/>
<text x="604.20" y="390.40" text-anchor="start" style="font-family:'Liberation Sans', sans-serif;font-size:5.3px;font-weight:bold;" fill="#151515">HU FMT WT</text>
<path d="M651.00 380.80V384.00" stroke="#2a2a2a" stroke-width="1.15"/>
<text x="639.20" y="390.40" text-anchor="start" style="font-family:'Liberation Sans', sans-serif;font-size:5.3px;font-weight:bold;" fill="#151515">HU FMT LIPUS</text>
<path d="M585.00 307.20V302.20H651.00V307.20" stroke="#333" stroke-width="1.0" fill="none"/>
<path d="M615.85 296.40L616.41 297.62L617.75 297.78L616.76 298.70L617.03 300.02L615.85 299.36L614.67 300.02L614.94 298.70L613.95 297.78L615.29 297.62Z" fill="#222"/><path d="M620.15 296.40L620.71 297.62L622.05 297.78L621.06 298.70L621.33 300.02L620.15 299.36L618.97 300.02L619.24 298.70L618.25 297.78L619.59 297.62Z" fill="#222"/>
<path d="M585.00 316.10V312.40H616.30V316.10" stroke="#333" stroke-width="1.0" fill="none"/>
<path d="M600.65 306.60L601.21 307.82L602.55 307.98L601.56 308.90L601.83 310.22L600.65 309.56L599.47 310.22L599.74 308.90L598.75 307.98L600.09 307.82Z" fill="#222"/>
<path d="M619.00 316.10V312.40H651.00V316.10" stroke="#333" stroke-width="1.0" fill="none"/>
<text x="635.00" y="309.50" text-anchor="middle" style="font-family:'Liberation Sans', sans-serif;font-size:6.3px;font-weight:bold;font-style:italic;" fill="#1a1a1a">p=0.6508</text>
<text x="538.90" y="344.30" text-anchor="middle" style="font-family:'Liberation Sans', sans-serif;font-size:6.6px;font-weight:bold;" fill="#111" transform="rotate(-90 538.90 344.30)" textLength="87.9" lengthAdjust="spacingAndGlyphs">Average fiber cross-sectional</text>
<text x="546.50" y="344.50" text-anchor="middle" style="font-family:'Liberation Sans', sans-serif;font-size:6.6px;font-weight:bold;" fill="#111" transform="rotate(-90 546.50 344.50)" textLength="79.0" lengthAdjust="spacingAndGlyphs">area of gastrocnemius (%)</text>
<text x="527.50" y="286.10" text-anchor="start" style="font-family:'Liberation Sans', sans-serif;font-size:15.0px;font-weight:bold;" fill="#000">H</text>
<rect x="387.30" y="491.11" width="24.60" height="31.09" fill="#fff" stroke="#e9b83c" stroke-width="1.1"/>
<path d="M399.60 491.11V484.99M394.10 484.99H405.10" stroke="#e9b83c" stroke-width="0.8" fill="none" opacity="0.55"/>
<path d="M399.60 481.48L401.26 483.28L399.60 485.08L397.94 483.28Z" fill="#e9b83c"/>
<path d="M397.60 483.27L399.26 485.07L397.60 486.87L395.94 485.07Z" fill="#e9b83c"/>
<path d="M401.60 483.27L403.26 485.07L401.60 486.87L399.94 485.07Z" fill="#e9b83c"/>
<path d="M392.10 487.27L393.76 489.07L392.10 490.87L390.44 489.07Z" fill="#e9b83c"/>
<path d="M396.60 487.27L398.26 489.07L396.60 490.87L394.94 489.07Z" fill="#e9b83c"/>
<path d="M401.60 487.27L403.26 489.07L401.60 490.87L399.94 489.07Z" fill="#e9b83c"/>
<path d="M406.60 487.27L408.26 489.07L406.60 490.87L404.94 489.07Z" fill="#e9b83c"/>
<path d="M399.60 493.88L401.26 495.68L399.60 497.48L397.94 495.68Z" fill="#e9b83c"/>
<path d="M399.60 498.78L401.26 500.58L399.60 502.38L397.94 500.58Z" fill="#e9b83c"/>
<rect x="424.50" y="477.48" width="24.40" height="44.72" fill="#fff" stroke="#e8605c" stroke-width="1.1"/>
<path d="M436.70 477.48V469.73M431.20 469.73H442.20" stroke="#e8605c" stroke-width="0.8" fill="none" opacity="0.55"/>
<path d="M433.70 462.13L435.65 465.62L431.75 465.62Z" fill="#e8605c"/>
<path d="M438.20 463.85L440.15 467.33L436.25 467.33Z" fill="#e8605c"/>
<path d="M429.20 476.09L431.15 479.57L427.25 479.57Z" fill="#e8605c"/>
<path d="M435.20 475.68L437.15 479.16L433.25 479.16Z" fill="#e8605c"/>
<path d="M440.20 476.09L442.15 479.57L438.25 479.57Z" fill="#e8605c"/>
<path d="M445.20 476.09L447.15 479.57L443.25 479.57Z" fill="#e8605c"/>
<path d="M436.70 480.49L438.65 483.98L434.75 483.98Z" fill="#e8605c"/>
<path d="M436.70 485.63L438.65 489.12L434.75 489.12Z" fill="#e8605c"/>
<rect x="461.40" y="468.18" width="24.40" height="54.02" fill="#fff" stroke="#3a9e9c" stroke-width="1.1"/>
<path d="M473.60 468.18V462.88M468.10 462.88H479.10" stroke="#3a9e9c" stroke-width="0.8" fill="none" opacity="0.55"/>
<circle cx="473.60" cy="459.20" r="1.70" fill="#3a9e9c"/>
<circle cx="471.60" cy="462.63" r="1.70" fill="#3a9e9c"/>
<circle cx="475.60" cy="462.63" r="1.70" fill="#3a9e9c"/>
<circle cx="471.60" cy="465.90" r="1.70" fill="#3a9e9c"/>
<circle cx="475.60" cy="465.90" r="1.70" fill="#3a9e9c"/>
<circle cx="471.60" cy="473.48" r="1.70" fill="#3a9e9c"/>
<circle cx="476.60" cy="473.48" r="1.70" fill="#3a9e9c"/>
<circle cx="471.60" cy="476.26" r="1.70" fill="#3a9e9c"/>
<path d="M375.40 440.10V522.20H499.20" stroke="#2a2a2a" stroke-width="1.1" fill="none"/>
<path d="M372.10 522.20H375.40" stroke="#2a2a2a" stroke-width="1"/>
<text x="371.40" y="524.50" text-anchor="end" style="font-family:'Liberation Sans', sans-serif;font-size:6.3px;font-weight:bold;" fill="#151515">0</text>
<path d="M372.10 505.88H375.40" stroke="#2a2a2a" stroke-width="1"/>
<text x="371.40" y="508.18" text-anchor="end" style="font-family:'Liberation Sans', sans-serif;font-size:6.3px;font-weight:bold;" fill="#151515">200</text>
<path d="M372.10 489.56H375.40" stroke="#2a2a2a" stroke-width="1"/>
<text x="371.40" y="491.86" text-anchor="end" style="font-family:'Liberation Sans', sans-serif;font-size:6.3px;font-weight:bold;" fill="#151515">400</text>
<path d="M372.10 473.24H375.40" stroke="#2a2a2a" stroke-width="1"/>
<text x="371.40" y="475.54" text-anchor="end" style="font-family:'Liberation Sans', sans-serif;font-size:6.3px;font-weight:bold;" fill="#151515">600</text>
<path d="M372.10 456.92H375.40" stroke="#2a2a2a" stroke-width="1"/>
<text x="371.40" y="459.22" text-anchor="end" style="font-family:'Liberation Sans', sans-serif;font-size:6.3px;font-weight:bold;" fill="#151515">800</text>
<path d="M372.10 440.60H375.40" stroke="#2a2a2a" stroke-width="1"/>
<text x="371.40" y="442.90" text-anchor="end" style="font-family:'Liberation Sans', sans-serif;font-size:6.3px;font-weight:bold;" fill="#151515">1000</text>
<path d="M399.60 522.20V525.40" stroke="#2a2a2a" stroke-width="1.15"/>
<text x="378.50" y="534.00" text-anchor="start" style="font-family:'Liberation Sans', sans-serif;font-size:6.0px;font-weight:bold;" fill="#151515">HU FMT NaCl</text>
<path d="M436.70 522.20V525.40" stroke="#2a2a2a" stroke-width="1.15"/>
<text x="421.10" y="534.00" text-anchor="start" style="font-family:'Liberation Sans', sans-serif;font-size:6.0px;font-weight:bold;" fill="#151515">HU FMT WT</text>
<path d="M473.60 522.20V525.40" stroke="#2a2a2a" stroke-width="1.15"/>
<text x="460.50" y="534.00" text-anchor="start" style="font-family:'Liberation Sans', sans-serif;font-size:6.0px;font-weight:bold;" fill="#151515">HU FMT LIPUS</text>
<path d="M399.60 445.10V440.60H473.60V445.10" stroke="#333" stroke-width="1.0" fill="none"/>
<path d="M434.15 433.65L434.81 435.09L436.38 435.27L435.22 436.35L435.53 437.90L434.15 437.13L432.77 437.90L433.08 436.35L431.92 435.27L433.49 435.09Z" fill="#222"/><path d="M439.05 433.65L439.71 435.09L441.28 435.27L440.12 436.35L440.43 437.90L439.05 437.13L437.67 437.90L437.98 436.35L436.82 435.27L438.39 435.09Z" fill="#222"/>
<path d="M399.60 455.50V452.00H434.90V455.50" stroke="#333" stroke-width="1.0" fill="none"/>
<path d="M414.80 445.05L415.46 446.49L417.03 446.67L415.87 447.75L416.18 449.30L414.80 448.53L413.42 449.30L413.73 447.75L412.57 446.67L414.14 446.49Z" fill="#222"/><path d="M419.70 445.05L420.36 446.49L421.93 446.67L420.77 447.75L421.08 449.30L419.70 448.53L418.32 449.30L418.63 447.75L417.47 446.67L419.04 446.49Z" fill="#222"/>
<path d="M437.60 455.50V452.00H473.60V455.50" stroke="#333" stroke-width="1.0" fill="none"/>
<path d="M455.60 445.05L456.26 446.49L457.83 446.67L456.67 447.75L456.98 449.30L455.60 448.53L454.22 449.30L454.53 447.75L453.37 446.67L454.94 446.49Z" fill="#222"/>
<text x="343.70" y="482.00" text-anchor="middle" style="font-family:'Liberation Sans', sans-serif;font-size:7.0px;font-weight:bold;" fill="#111" transform="rotate(-90 343.70 482.00)" textLength="76.6" lengthAdjust="spacingAndGlyphs">Gastrocnemius muscle</text>
<text x="352.20" y="480.50" text-anchor="middle" style="font-family:'Liberation Sans', sans-serif;font-size:7.0px;font-weight:bold;" fill="#111" transform="rotate(-90 352.20 480.50)" textLength="77.9" lengthAdjust="spacingAndGlyphs">contraction <tspan style="font-style:italic">in situ</tspan> (mN)</text>
<text x="334.80" y="429.10" text-anchor="start" style="font-family:'Liberation Sans', sans-serif;font-size:15.0px;font-weight:bold;" fill="#000">I</text>
<rect x="564.20" y="481.25" width="24.40" height="41.25" fill="#fff" stroke="#e9b83c" stroke-width="1.1"/>
<path d="M576.40 481.25V475.58M570.90 475.58H581.90" stroke="#e9b83c" stroke-width="0.8" fill="none" opacity="0.55"/>
<path d="M576.40 470.58L578.06 472.38L576.40 474.18L574.74 472.38Z" fill="#e9b83c"/>
<path d="M568.40 476.67L570.06 478.47L568.40 480.27L566.74 478.47Z" fill="#e9b83c"/>
<path d="M572.90 476.67L574.56 478.47L572.90 480.27L571.24 478.47Z" fill="#e9b83c"/>
<path d="M579.90 476.67L581.56 478.47L579.90 480.27L578.24 478.47Z" fill="#e9b83c"/>
<path d="M584.40 476.67L586.06 478.47L584.40 480.27L582.74 478.47Z" fill="#e9b83c"/>
<path d="M572.90 481.51L574.56 483.31L572.90 485.11L571.24 483.31Z" fill="#e9b83c"/>
<path d="M579.90 481.51L581.56 483.31L579.90 485.11L578.24 483.31Z" fill="#e9b83c"/>
<path d="M576.40 485.95L578.06 487.75L576.40 489.55L574.74 487.75Z" fill="#e9b83c"/>
<path d="M576.40 490.79L578.06 492.59L576.40 494.39L574.74 492.59Z" fill="#e9b83c"/>
<rect x="601.40" y="473.00" width="24.00" height="49.50" fill="#fff" stroke="#e8605c" stroke-width="1.1"/>
<path d="M613.40 473.00V466.81M607.90 466.81H618.90" stroke="#e8605c" stroke-width="0.8" fill="none" opacity="0.55"/>
<path d="M613.40 459.61L615.35 463.09L611.45 463.09Z" fill="#e8605c"/>
<path d="M607.40 470.64L609.35 474.13L605.45 474.13Z" fill="#e8605c"/>
<path d="M613.40 470.64L615.35 474.13L611.45 474.13Z" fill="#e8605c"/>
<path d="M619.40 470.64L621.35 474.13L617.45 474.13Z" fill="#e8605c"/>
<path d="M624.40 470.64L626.35 474.13L622.45 474.13Z" fill="#e8605c"/>
<path d="M613.40 472.50L615.35 475.98L611.45 475.98Z" fill="#e8605c"/>
<path d="M610.40 478.79L612.35 482.27L608.45 482.27Z" fill="#e8605c"/>
<path d="M616.40 477.65L618.35 481.14L614.45 481.14Z" fill="#e8605c"/>
<rect x="638.30" y="464.54" width="24.20" height="57.96" fill="#fff" stroke="#3a9e9c" stroke-width="1.1"/>
<path d="M650.40 464.54V458.87M644.90 458.87H655.90" stroke="#3a9e9c" stroke-width="0.8" fill="none" opacity="0.55"/>
<circle cx="648.40" cy="456.50" r="1.70" fill="#3a9e9c"/>
<circle cx="653.40" cy="455.47" r="1.70" fill="#3a9e9c"/>
<circle cx="650.40" cy="461.66" r="1.70" fill="#3a9e9c"/>
<circle cx="650.40" cy="465.27" r="1.70" fill="#3a9e9c"/>
<circle cx="643.40" cy="469.91" r="1.70" fill="#3a9e9c"/>
<circle cx="648.40" cy="468.88" r="1.70" fill="#3a9e9c"/>
<circle cx="653.40" cy="469.91" r="1.70" fill="#3a9e9c"/>
<circle cx="658.40" cy="469.91" r="1.70" fill="#3a9e9c"/>
<path d="M550.50 439.50V522.50H676.00" stroke="#2a2a2a" stroke-width="1.1" fill="none"/>
<path d="M547.20 522.50H550.50" stroke="#2a2a2a" stroke-width="1"/>
<text x="546.50" y="524.80" text-anchor="end" style="font-family:'Liberation Sans', sans-serif;font-size:6.3px;font-weight:bold;" fill="#151515">0</text>
<path d="M547.20 501.88H550.50" stroke="#2a2a2a" stroke-width="1"/>
<text x="546.50" y="504.18" text-anchor="end" style="font-family:'Liberation Sans', sans-serif;font-size:6.3px;font-weight:bold;" fill="#151515">2</text>
<path d="M547.20 481.25H550.50" stroke="#2a2a2a" stroke-width="1"/>
<text x="546.50" y="483.55" text-anchor="end" style="font-family:'Liberation Sans', sans-serif;font-size:6.3px;font-weight:bold;" fill="#151515">4</text>
<path d="M547.20 460.62H550.50" stroke="#2a2a2a" stroke-width="1"/>
<text x="546.50" y="462.93" text-anchor="end" style="font-family:'Liberation Sans', sans-serif;font-size:6.3px;font-weight:bold;" fill="#151515">6</text>
<path d="M547.20 440.00H550.50" stroke="#2a2a2a" stroke-width="1"/>
<text x="546.50" y="442.30" text-anchor="end" style="font-family:'Liberation Sans', sans-serif;font-size:6.3px;font-weight:bold;" fill="#151515">8</text>
<path d="M576.40 522.50V525.70" stroke="#2a2a2a" stroke-width="1.15"/>
<text x="555.30" y="534.00" text-anchor="start" style="font-family:'Liberation Sans', sans-serif;font-size:6.0px;font-weight:bold;" fill="#151515">HU FMT NaCl</text>
<path d="M613.40 522.50V525.70" stroke="#2a2a2a" stroke-width="1.15"/>
<text x="597.80" y="534.00" text-anchor="start" style="font-family:'Liberation Sans', sans-serif;font-size:6.0px;font-weight:bold;" fill="#151515">HU FMT WT</text>
<path d="M650.40 522.50V525.70" stroke="#2a2a2a" stroke-width="1.15"/>
<text x="637.30" y="534.00" text-anchor="start" style="font-family:'Liberation Sans', sans-serif;font-size:6.0px;font-weight:bold;" fill="#151515">HU FMT LIPUS</text>
<path d="M576.40 440.40V435.40H650.40V440.40" stroke="#333" stroke-width="1.0" fill="none"/>
<path d="M610.95 428.45L611.61 429.89L613.18 430.07L612.02 431.15L612.33 432.70L610.95 431.93L609.57 432.70L609.88 431.15L608.72 430.07L610.29 429.89Z" fill="#222"/><path d="M615.85 428.45L616.51 429.89L618.08 430.07L616.92 431.15L617.23 432.70L615.85 431.93L614.47 432.70L614.78 431.15L613.62 430.07L615.19 429.89Z" fill="#222"/>
<path d="M576.40 450.60V446.40H611.50V450.60" stroke="#333" stroke-width="1.0" fill="none"/>
<path d="M593.95 439.45L594.61 440.89L596.18 441.07L595.02 442.15L595.33 443.70L593.95 442.93L592.57 443.70L592.88 442.15L591.72 441.07L593.29 440.89Z" fill="#222"/>
<path d="M614.30 450.60V446.40H650.40V450.60" stroke="#333" stroke-width="1.0" fill="none"/>
<path d="M632.35 439.45L633.01 440.89L634.58 441.07L633.42 442.15L633.73 443.70L632.35 442.93L630.97 443.70L631.28 442.15L630.12 441.07L631.69 440.89Z" fill="#222"/>
<text x="530.80" y="481.30" text-anchor="middle" style="font-family:'Liberation Sans', sans-serif;font-size:7.0px;font-weight:bold;" fill="#111" transform="rotate(-90 530.80 481.30)" textLength="76.7" lengthAdjust="spacingAndGlyphs">Gastrocnemius muscle</text>
<text x="539.40" y="481.00" text-anchor="middle" style="font-family:'Liberation Sans', sans-serif;font-size:7.0px;font-weight:bold;" fill="#111" transform="rotate(-90 539.40 481.00)" textLength="88.2" lengthAdjust="spacingAndGlyphs">contraction <tspan style="font-style:italic">in vivo</tspan> (mN/m)</text>
<text x="529.98" y="430.30" text-anchor="start" style="font-family:'Liberation Sans', sans-serif;font-size:15.0px;font-weight:bold;" fill="#000">J</text>
<rect x="38.80" y="574.98" width="21.60" height="63.42" fill="#fff" stroke="#e9b83c" stroke-width="1.1"/>
<path d="M49.60 574.98V573.06M44.10 573.06H55.10" stroke="#e9b83c" stroke-width="0.8" fill="none" opacity="0.55"/>
<path d="M46.60 571.02L48.26 572.82L46.60 574.62L44.94 572.82Z" fill="#e9b83c"/>
<path d="M52.60 571.02L54.26 572.82L52.60 574.62L50.94 572.82Z" fill="#e9b83c"/>
<path d="M49.60 572.94L51.26 574.74L49.60 576.54L47.94 574.74Z" fill="#e9b83c"/>
<path d="M46.60 574.85L48.26 576.65L46.60 578.45L44.94 576.65Z" fill="#e9b83c"/>
<path d="M52.60 574.85L54.26 576.65L52.60 578.45L50.94 576.65Z" fill="#e9b83c"/>
<rect x="70.90" y="595.22" width="21.60" height="43.18" fill="#fff" stroke="#e8605c" stroke-width="1.1"/>
<path d="M81.70 595.22V590.44M76.20 590.44H87.20" stroke="#e8605c" stroke-width="0.8" fill="none" opacity="0.55"/>
<path d="M81.70 587.53L83.65 591.01L79.75 591.01Z" fill="#e8605c"/>
<path d="M85.70 591.83L87.65 595.32L83.75 595.32Z" fill="#e8605c"/>
<path d="M77.70 595.18L79.65 598.67L75.75 598.67Z" fill="#e8605c"/>
<path d="M85.70 596.14L87.65 599.63L83.75 599.63Z" fill="#e8605c"/>
<rect x="103.50" y="601.69" width="21.40" height="36.71" fill="#fff" stroke="#3a9e9c" stroke-width="1.1"/>
<path d="M114.20 601.69V598.81M108.70 598.81H119.70" stroke="#3a9e9c" stroke-width="0.8" fill="none" opacity="0.55"/>
<circle cx="114.20" cy="598.67" r="1.70" fill="#3a9e9c"/>
<circle cx="111.20" cy="600.11" r="1.70" fill="#3a9e9c"/>
<circle cx="117.20" cy="600.59" r="1.70" fill="#3a9e9c"/>
<circle cx="114.20" cy="603.94" r="1.70" fill="#3a9e9c"/>
<path d="M27.70 566.10V638.40H135.90" stroke="#2a2a2a" stroke-width="1.1" fill="none"/>
<path d="M24.40 638.40H27.70" stroke="#2a2a2a" stroke-width="1"/>
<text x="23.70" y="640.70" text-anchor="end" style="font-family:'Liberation Sans', sans-serif;font-size:5.6px;font-weight:bold;" fill="#151515">0.0</text>
<path d="M24.40 614.47H27.70" stroke="#2a2a2a" stroke-width="1"/>
<text x="23.70" y="616.77" text-anchor="end" style="font-family:'Liberation Sans', sans-serif;font-size:5.6px;font-weight:bold;" fill="#151515">0.5</text>
<path d="M24.40 590.53H27.70" stroke="#2a2a2a" stroke-width="1"/>
<text x="23.70" y="592.83" text-anchor="end" style="font-family:'Liberation Sans', sans-serif;font-size:5.6px;font-weight:bold;" fill="#151515">1.0</text>
<path d="M24.40 566.60H27.70" stroke="#2a2a2a" stroke-width="1"/>
<text x="23.70" y="568.90" text-anchor="end" style="font-family:'Liberation Sans', sans-serif;font-size:5.6px;font-weight:bold;" fill="#151515">1.5</text>
<path d="M49.60 638.40V641.60" stroke="#2a2a2a" stroke-width="1.15"/>
<text x="30.30" y="649.20" text-anchor="start" style="font-family:'Liberation Sans', sans-serif;font-size:5.3px;font-weight:bold;" fill="#151515">HU FMT NaCl</text>
<path d="M81.70 638.40V641.60" stroke="#2a2a2a" stroke-width="1.15"/>
<text x="67.90" y="649.20" text-anchor="start" style="font-family:'Liberation Sans', sans-serif;font-size:5.3px;font-weight:bold;" fill="#151515">HU FMT WT</text>
<path d="M114.20 638.40V641.60" stroke="#2a2a2a" stroke-width="1.15"/>
<text x="102.40" y="649.20" text-anchor="start" style="font-family:'Liberation Sans', sans-serif;font-size:5.3px;font-weight:bold;" fill="#151515">HU FMT LIPUS</text>
<path d="M48.40 560.30V555.80H114.20V560.30" stroke="#333" stroke-width="1.0" fill="none"/>
<path d="M79.15 550.00L79.71 551.22L81.05 551.38L80.06 552.30L80.33 553.62L79.15 552.96L77.97 553.62L78.24 552.30L77.25 551.38L78.59 551.22Z" fill="#222"/><path d="M83.45 550.00L84.01 551.22L85.35 551.38L84.36 552.30L84.63 553.62L83.45 552.96L82.27 553.62L82.54 552.30L81.55 551.38L82.89 551.22Z" fill="#222"/>
<path d="M48.40 568.90V565.40H80.15V568.90" stroke="#333" stroke-width="1.0" fill="none"/>
<path d="M62.13 559.60L62.69 560.82L64.03 560.98L63.04 561.90L63.30 563.22L62.13 562.56L60.95 563.22L61.21 561.90L60.22 560.98L61.56 560.82Z" fill="#222"/><path d="M66.43 559.60L66.99 560.82L68.33 560.98L67.34 561.90L67.60 563.22L66.43 562.56L65.25 563.22L65.51 561.90L64.52 560.98L65.86 560.82Z" fill="#222"/>
<path d="M82.85 568.90V565.40H114.20V568.90" stroke="#333" stroke-width="1.0" fill="none"/>
<path d="M98.53 559.60L99.09 560.82L100.43 560.98L99.44 561.90L99.70 563.22L98.53 562.56L97.35 563.22L97.61 561.90L96.62 560.98L97.96 560.82Z" fill="#222"/>
<text x="12.50" y="603.00" text-anchor="middle" style="font-family:'Liberation Sans', sans-serif;font-size:6.4px;font-weight:bold;" fill="#111" transform="rotate(-90 12.50 603.00)" textLength="49.5" lengthAdjust="spacingAndGlyphs">CK <tspan style="font-style:italic">activity</tspan>  (U/L)</text>
<text x="1.79" y="558.90" text-anchor="start" style="font-family:'Liberation Sans', sans-serif;font-size:15.0px;font-weight:bold;" fill="#000">K</text>
<rect x="168.30" y="579.40" width="21.40" height="59.00" fill="#fff" stroke="#e9b83c" stroke-width="1.1"/>
<path d="M179.00 579.40V573.39M173.50 573.39H184.50" stroke="#e9b83c" stroke-width="0.8" fill="none" opacity="0.55"/>
<path d="M175.00 571.71L176.66 573.51L175.00 575.31L173.34 573.51Z" fill="#e9b83c"/>
<path d="M183.00 572.31L184.66 574.11L183.00 575.91L181.34 574.11Z" fill="#e9b83c"/>
<path d="M179.00 576.52L180.66 578.32L179.00 580.12L177.34 578.32Z" fill="#e9b83c"/>
<path d="M179.00 580.12L180.66 581.92L179.00 583.72L177.34 581.92Z" fill="#e9b83c"/>
<path d="M179.00 583.73L180.66 585.53L179.00 587.33L177.34 585.53Z" fill="#e9b83c"/>
<rect x="201.10" y="590.39" width="21.40" height="48.01" fill="#fff" stroke="#e8605c" stroke-width="1.1"/>
<path d="M211.80 590.39V583.18M206.30 583.18H217.30" stroke="#e8605c" stroke-width="0.8" fill="none" opacity="0.55"/>
<path d="M211.80 577.47L213.75 580.95L209.85 580.95Z" fill="#e8605c"/>
<path d="M207.80 587.08L209.75 590.57L205.85 590.57Z" fill="#e8605c"/>
<path d="M215.80 588.28L217.75 591.77L213.85 591.77Z" fill="#e8605c"/>
<path d="M211.80 596.70L213.75 600.18L209.85 600.18Z" fill="#e8605c"/>
<rect x="233.40" y="594.20" width="21.60" height="44.20" fill="#fff" stroke="#3a9e9c" stroke-width="1.1"/>
<path d="M244.20 594.20V591.20M238.70 591.20H249.70" stroke="#3a9e9c" stroke-width="0.8" fill="none" opacity="0.55"/>
<circle cx="244.20" cy="589.73" r="1.70" fill="#3a9e9c"/>
<circle cx="240.20" cy="592.14" r="1.70" fill="#3a9e9c"/>
<circle cx="248.20" cy="593.70" r="1.70" fill="#3a9e9c"/>
<circle cx="244.20" cy="598.14" r="1.70" fill="#3a9e9c"/>
<path d="M157.20 565.80V638.40H265.00" stroke="#2a2a2a" stroke-width="1.1" fill="none"/>
<path d="M153.90 638.40H157.20" stroke="#2a2a2a" stroke-width="1"/>
<text x="153.20" y="640.70" text-anchor="end" style="font-family:'Liberation Sans', sans-serif;font-size:5.6px;font-weight:bold;" fill="#151515">0</text>
<path d="M153.90 614.37H157.20" stroke="#2a2a2a" stroke-width="1"/>
<text x="153.20" y="616.67" text-anchor="end" style="font-family:'Liberation Sans', sans-serif;font-size:5.6px;font-weight:bold;" fill="#151515">200</text>
<path d="M153.90 590.33H157.20" stroke="#2a2a2a" stroke-width="1"/>
<text x="153.20" y="592.63" text-anchor="end" style="font-family:'Liberation Sans', sans-serif;font-size:5.6px;font-weight:bold;" fill="#151515">400</text>
<path d="M153.90 566.30H157.20" stroke="#2a2a2a" stroke-width="1"/>
<text x="153.20" y="568.60" text-anchor="end" style="font-family:'Liberation Sans', sans-serif;font-size:5.6px;font-weight:bold;" fill="#151515">600</text>
<path d="M179.00 638.40V641.60" stroke="#2a2a2a" stroke-width="1.15"/>
<text x="159.70" y="649.20" text-anchor="start" style="font-family:'Liberation Sans', sans-serif;font-size:5.3px;font-weight:bold;" fill="#151515">HU FMT NaCl</text>
<path d="M211.80 638.40V641.60" stroke="#2a2a2a" stroke-width="1.15"/>
<text x="198.00" y="649.20" text-anchor="start" style="font-family:'Liberation Sans', sans-serif;font-size:5.3px;font-weight:bold;" fill="#151515">HU FMT WT</text>
<path d="M244.20 638.40V641.60" stroke="#2a2a2a" stroke-width="1.15"/>
<text x="232.40" y="649.20" text-anchor="start" style="font-family:'Liberation Sans', sans-serif;font-size:5.3px;font-weight:bold;" fill="#151515">HU FMT LIPUS</text>
<path d="M179.00 560.90V556.40H244.20V560.90" stroke="#333" stroke-width="1.0" fill="none"/>
<path d="M209.45 550.60L210.01 551.82L211.35 551.98L210.36 552.90L210.63 554.22L209.45 553.56L208.27 554.22L208.54 552.90L207.55 551.98L208.89 551.82Z" fill="#222"/><path d="M213.75 550.60L214.31 551.82L215.65 551.98L214.66 552.90L214.93 554.22L213.75 553.56L212.57 554.22L212.84 552.90L211.85 551.98L213.19 551.82Z" fill="#222"/>
<path d="M179.00 569.80V566.30H210.40V569.80" stroke="#333" stroke-width="1.0" fill="none"/>
<path d="M194.70 560.50L195.26 561.72L196.60 561.88L195.61 562.80L195.88 564.12L194.70 563.46L193.52 564.12L193.79 562.80L192.80 561.88L194.14 561.72Z" fill="#222"/>
<path d="M213.10 569.80V566.30H244.20V569.80" stroke="#333" stroke-width="1.0" fill="none"/>
<text x="228.65" y="563.70" text-anchor="middle" style="font-family:'Liberation Sans', sans-serif;font-size:5.5px;font-weight:bold;font-style:italic;" fill="#1a1a1a">P=0.5595</text>
<text x="141.30" y="601.70" text-anchor="middle" style="font-family:'Liberation Sans', sans-serif;font-size:6.4px;font-weight:bold;" fill="#111" transform="rotate(-90 141.30 601.70)" textLength="52.2" lengthAdjust="spacingAndGlyphs">LDH <tspan style="font-style:italic">activity</tspan>  (U/L)</text>
<text x="132.59" y="558.70" text-anchor="start" style="font-family:'Liberation Sans', sans-serif;font-size:15.0px;font-weight:bold;" fill="#000">L</text>
<rect x="301.40" y="610.51" width="22.40" height="27.89" fill="#fff" stroke="#e9b83c" stroke-width="1.1"/>
<path d="M312.60 610.51V602.47M307.10 602.47H318.10" stroke="#e9b83c" stroke-width="0.8" fill="none" opacity="0.55"/>
<path d="M312.60 593.52L314.26 595.32L312.60 597.12L310.94 595.32Z" fill="#e9b83c"/>
<path d="M312.60 604.15L314.26 605.95L312.60 607.75L310.94 605.95Z" fill="#e9b83c"/>
<path d="M307.60 607.31L309.26 609.11L307.60 610.91L305.94 609.11Z" fill="#e9b83c"/>
<path d="M317.60 607.31L319.26 609.11L317.60 610.91L315.94 609.11Z" fill="#e9b83c"/>
<path d="M312.60 609.89L314.26 611.69L312.60 613.49L310.94 611.69Z" fill="#e9b83c"/>
<path d="M308.60 613.62L310.26 615.42L308.60 617.22L306.94 615.42Z" fill="#e9b83c"/>
<path d="M312.60 618.51L314.26 620.31L312.60 622.11L310.94 620.31Z" fill="#e9b83c"/>
<path d="M316.60 619.37L318.26 621.17L316.60 622.97L314.94 621.17Z" fill="#e9b83c"/>
<rect x="334.20" y="596.61" width="22.00" height="41.79" fill="#fff" stroke="#e8605c" stroke-width="1.1"/>
<path d="M345.20 596.61V590.87M339.70 590.87H350.70" stroke="#e8605c" stroke-width="0.8" fill="none" opacity="0.55"/>
<path d="M345.20 586.95L347.15 590.44L343.25 590.44Z" fill="#e8605c"/>
<path d="M350.20 590.40L352.15 593.88L348.25 593.88Z" fill="#e8605c"/>
<path d="M342.20 593.27L344.15 596.75L340.25 596.75Z" fill="#e8605c"/>
<path d="M348.20 594.71L350.15 598.19L346.25 598.19Z" fill="#e8605c"/>
<path d="M340.20 596.72L342.15 600.20L338.25 600.20Z" fill="#e8605c"/>
<path d="M349.20 599.01L351.15 602.50L347.25 602.50Z" fill="#e8605c"/>
<path d="M345.20 603.32L347.15 606.81L343.25 606.81Z" fill="#e8605c"/>
<path d="M343.20 601.31L345.15 604.80L341.25 604.80Z" fill="#e8605c"/>
<rect x="366.60" y="583.54" width="22.00" height="54.86" fill="#fff" stroke="#3a9e9c" stroke-width="1.1"/>
<path d="M377.60 583.54V580.67M372.10 580.67H383.10" stroke="#3a9e9c" stroke-width="0.8" fill="none" opacity="0.55"/>
<circle cx="373.60" cy="579.52" r="1.70" fill="#3a9e9c"/>
<circle cx="381.60" cy="579.52" r="1.70" fill="#3a9e9c"/>
<circle cx="377.60" cy="583.26" r="1.70" fill="#3a9e9c"/>
<circle cx="371.60" cy="584.41" r="1.70" fill="#3a9e9c"/>
<circle cx="375.60" cy="585.27" r="1.70" fill="#3a9e9c"/>
<circle cx="379.60" cy="585.27" r="1.70" fill="#3a9e9c"/>
<circle cx="383.60" cy="584.41" r="1.70" fill="#3a9e9c"/>
<circle cx="377.60" cy="587.28" r="1.70" fill="#3a9e9c"/>
<path d="M289.70 566.10V638.40H399.30" stroke="#2a2a2a" stroke-width="1.1" fill="none"/>
<path d="M286.40 638.40H289.70" stroke="#2a2a2a" stroke-width="1"/>
<text x="285.70" y="640.70" text-anchor="end" style="font-family:'Liberation Sans', sans-serif;font-size:5.6px;font-weight:bold;" fill="#151515">0</text>
<path d="M286.40 624.04H289.70" stroke="#2a2a2a" stroke-width="1"/>
<text x="285.70" y="626.34" text-anchor="end" style="font-family:'Liberation Sans', sans-serif;font-size:5.6px;font-weight:bold;" fill="#151515">50</text>
<path d="M286.40 609.68H289.70" stroke="#2a2a2a" stroke-width="1"/>
<text x="285.70" y="611.98" text-anchor="end" style="font-family:'Liberation Sans', sans-serif;font-size:5.6px;font-weight:bold;" fill="#151515">100</text>
<path d="M286.40 595.32H289.70" stroke="#2a2a2a" stroke-width="1"/>
<text x="285.70" y="597.62" text-anchor="end" style="font-family:'Liberation Sans', sans-serif;font-size:5.6px;font-weight:bold;" fill="#151515">150</text>
<path d="M286.40 580.96H289.70" stroke="#2a2a2a" stroke-width="1"/>
<text x="285.70" y="583.26" text-anchor="end" style="font-family:'Liberation Sans', sans-serif;font-size:5.6px;font-weight:bold;" fill="#151515">200</text>
<path d="M286.40 566.60H289.70" stroke="#2a2a2a" stroke-width="1"/>
<text x="285.70" y="568.90" text-anchor="end" style="font-family:'Liberation Sans', sans-serif;font-size:5.6px;font-weight:bold;" fill="#151515">250</text>
<path d="M312.60 638.40V641.60" stroke="#2a2a2a" stroke-width="1.15"/>
<text x="293.30" y="648.90" text-anchor="start" style="font-family:'Liberation Sans', sans-serif;font-size:5.3px;font-weight:bold;" fill="#151515">HU FMT NaCl</text>
<path d="M345.20 638.40V641.60" stroke="#2a2a2a" stroke-width="1.15"/>
<text x="331.40" y="648.90" text-anchor="start" style="font-family:'Liberation Sans', sans-serif;font-size:5.3px;font-weight:bold;" fill="#151515">HU FMT WT</text>
<path d="M377.60 638.40V641.60" stroke="#2a2a2a" stroke-width="1.15"/>
<text x="365.80" y="648.90" text-anchor="start" style="font-family:'Liberation Sans', sans-serif;font-size:5.3px;font-weight:bold;" fill="#151515">HU FMT LIPUS</text>
<path d="M312.60 564.90V560.40H377.60V564.90" stroke="#333" stroke-width="1.0" fill="none"/>
<path d="M342.95 554.60L343.51 555.82L344.85 555.98L343.86 556.90L344.13 558.22L342.95 557.56L341.77 558.22L342.04 556.90L341.05 555.98L342.39 555.82Z" fill="#222"/><path d="M347.25 554.60L347.81 555.82L349.15 555.98L348.16 556.90L348.43 558.22L347.25 557.56L346.07 558.22L346.34 556.90L345.35 555.98L346.69 555.82Z" fill="#222"/>
<path d="M312.60 573.90V570.40H343.90V573.90" stroke="#333" stroke-width="1.0" fill="none"/>
<path d="M326.10 564.60L326.66 565.82L328.00 565.98L327.01 566.90L327.28 568.22L326.10 567.56L324.92 568.22L325.19 566.90L324.20 565.98L325.54 565.82Z" fill="#222"/><path d="M330.40 564.60L330.96 565.82L332.30 565.98L331.31 566.90L331.58 568.22L330.40 567.56L329.22 568.22L329.49 566.90L328.50 565.98L329.84 565.82Z" fill="#222"/>
<path d="M346.60 573.90V570.40H377.60V573.90" stroke="#333" stroke-width="1.0" fill="none"/>
<path d="M359.95 564.60L360.51 565.82L361.85 565.98L360.86 566.90L361.13 568.22L359.95 567.56L358.77 568.22L359.04 566.90L358.05 565.98L359.39 565.82Z" fill="#222"/><path d="M364.25 564.60L364.81 565.82L366.15 565.98L365.16 566.90L365.43 568.22L364.25 567.56L363.07 568.22L363.34 566.90L362.35 565.98L363.69 565.82Z" fill="#222"/>
<text x="274.80" y="604.30" text-anchor="middle" style="font-family:'Liberation Sans', sans-serif;font-size:6.4px;font-weight:bold;" fill="#111" transform="rotate(-90 274.80 604.30)" textLength="63.9" lengthAdjust="spacingAndGlyphs">Latency to fall off ( s)</text>
<text x="262.80" y="559.40" text-anchor="start" style="font-family:'Liberation Sans', sans-serif;font-size:15.0px;font-weight:bold;" fill="#000">M</text>
<rect x="431.70" y="606.99" width="21.20" height="31.41" fill="#fff" stroke="#e9b83c" stroke-width="1.1"/>
<path d="M442.30 606.99V601.60M436.80 601.60H447.80" stroke="#e9b83c" stroke-width="0.8" fill="none" opacity="0.55"/>
<path d="M442.30 598.91L443.96 600.71L442.30 602.50L440.64 600.71Z" fill="#e9b83c"/>
<path d="M438.30 599.80L439.96 601.60L438.30 603.40L436.64 601.60Z" fill="#e9b83c"/>
<path d="M446.30 598.91L447.96 600.71L446.30 602.50L444.64 600.71Z" fill="#e9b83c"/>
<path d="M439.30 604.29L440.96 606.09L439.30 607.89L437.64 606.09Z" fill="#e9b83c"/>
<path d="M442.30 605.19L443.96 606.99L442.30 608.79L440.64 606.99Z" fill="#e9b83c"/>
<path d="M445.30 605.19L446.96 606.99L445.30 608.79L443.64 606.99Z" fill="#e9b83c"/>
<path d="M440.30 608.78L441.96 610.58L440.30 612.38L438.64 610.58Z" fill="#e9b83c"/>
<path d="M442.30 614.16L443.96 615.96L442.30 617.76L440.64 615.96Z" fill="#e9b83c"/>
<rect x="464.10" y="599.99" width="21.40" height="38.41" fill="#fff" stroke="#e8605c" stroke-width="1.1"/>
<path d="M474.80 599.99V595.50M469.30 595.50H480.30" stroke="#e8605c" stroke-width="0.8" fill="none" opacity="0.55"/>
<path d="M474.80 592.37L476.75 595.86L472.85 595.86Z" fill="#e8605c"/>
<path d="M470.80 595.07L472.75 598.55L468.85 598.55Z" fill="#e8605c"/>
<path d="M478.80 596.86L480.75 600.34L476.85 600.34Z" fill="#e8605c"/>
<path d="M474.80 597.76L476.75 601.24L472.85 601.24Z" fill="#e8605c"/>
<path d="M469.80 599.55L471.75 603.04L467.85 603.04Z" fill="#e8605c"/>
<path d="M479.80 599.55L481.75 603.04L477.85 603.04Z" fill="#e8605c"/>
<path d="M474.80 602.25L476.75 605.73L472.85 605.73Z" fill="#e8605c"/>
<path d="M471.80 603.14L473.75 606.63L469.85 606.63Z" fill="#e8605c"/>
<rect x="496.80" y="589.04" width="21.40" height="49.36" fill="#fff" stroke="#3a9e9c" stroke-width="1.1"/>
<path d="M507.50 589.04V586.35M502.00 586.35H513.00" stroke="#3a9e9c" stroke-width="0.8" fill="none" opacity="0.55"/>
<circle cx="503.50" cy="585.45" r="1.70" fill="#3a9e9c"/>
<circle cx="511.50" cy="585.45" r="1.70" fill="#3a9e9c"/>
<circle cx="507.50" cy="588.14" r="1.70" fill="#3a9e9c"/>
<circle cx="501.50" cy="589.04" r="1.70" fill="#3a9e9c"/>
<circle cx="505.50" cy="589.93" r="1.70" fill="#3a9e9c"/>
<circle cx="509.50" cy="589.93" r="1.70" fill="#3a9e9c"/>
<circle cx="513.50" cy="589.04" r="1.70" fill="#3a9e9c"/>
<circle cx="507.50" cy="591.73" r="1.70" fill="#3a9e9c"/>
<path d="M420.40 566.10V638.40H529.30" stroke="#2a2a2a" stroke-width="1.1" fill="none"/>
<path d="M417.10 638.40H420.40" stroke="#2a2a2a" stroke-width="1"/>
<text x="416.40" y="640.70" text-anchor="end" style="font-family:'Liberation Sans', sans-serif;font-size:5.6px;font-weight:bold;" fill="#151515">0</text>
<path d="M417.10 620.45H420.40" stroke="#2a2a2a" stroke-width="1"/>
<text x="416.40" y="622.75" text-anchor="end" style="font-family:'Liberation Sans', sans-serif;font-size:5.6px;font-weight:bold;" fill="#151515">10</text>
<path d="M417.10 602.50H420.40" stroke="#2a2a2a" stroke-width="1"/>
<text x="416.40" y="604.80" text-anchor="end" style="font-family:'Liberation Sans', sans-serif;font-size:5.6px;font-weight:bold;" fill="#151515">20</text>
<path d="M417.10 584.55H420.40" stroke="#2a2a2a" stroke-width="1"/>
<text x="416.40" y="586.85" text-anchor="end" style="font-family:'Liberation Sans', sans-serif;font-size:5.6px;font-weight:bold;" fill="#151515">30</text>
<path d="M417.10 566.60H420.40" stroke="#2a2a2a" stroke-width="1"/>
<text x="416.40" y="568.90" text-anchor="end" style="font-family:'Liberation Sans', sans-serif;font-size:5.6px;font-weight:bold;" fill="#151515">40</text>
<path d="M442.30 638.40V641.60" stroke="#2a2a2a" stroke-width="1.15"/>
<text x="423.00" y="648.90" text-anchor="start" style="font-family:'Liberation Sans', sans-serif;font-size:5.3px;font-weight:bold;" fill="#151515">HU FMT NaCl</text>
<path d="M474.80 638.40V641.60" stroke="#2a2a2a" stroke-width="1.15"/>
<text x="461.00" y="648.90" text-anchor="start" style="font-family:'Liberation Sans', sans-serif;font-size:5.3px;font-weight:bold;" fill="#151515">HU FMT WT</text>
<path d="M507.50 638.40V641.60" stroke="#2a2a2a" stroke-width="1.15"/>
<text x="495.70" y="648.90" text-anchor="start" style="font-family:'Liberation Sans', sans-serif;font-size:5.3px;font-weight:bold;" fill="#151515">HU FMT LIPUS</text>
<path d="M442.30 571.80V567.30H507.50V571.80" stroke="#333" stroke-width="1.0" fill="none"/>
<path d="M472.75 561.50L473.31 562.72L474.65 562.88L473.66 563.80L473.93 565.12L472.75 564.46L471.57 565.12L471.84 563.80L470.85 562.88L472.19 562.72Z" fill="#222"/><path d="M477.05 561.50L477.61 562.72L478.95 562.88L477.96 563.80L478.23 565.12L477.05 564.46L475.87 565.12L476.14 563.80L475.15 562.88L476.49 562.72Z" fill="#222"/>
<path d="M442.30 580.60V577.10H473.40V580.60" stroke="#333" stroke-width="1.0" fill="none"/>
<path d="M455.70 571.30L456.26 572.52L457.60 572.68L456.61 573.60L456.88 574.92L455.70 574.26L454.52 574.92L454.79 573.60L453.80 572.68L455.14 572.52Z" fill="#222"/><path d="M460.00 571.30L460.56 572.52L461.90 572.68L460.91 573.60L461.18 574.92L460.00 574.26L458.82 574.92L459.09 573.60L458.10 572.68L459.44 572.52Z" fill="#222"/>
<path d="M476.10 580.60V577.10H507.50V580.60" stroke="#333" stroke-width="1.0" fill="none"/>
<path d="M489.65 571.30L490.21 572.52L491.55 572.68L490.56 573.60L490.83 574.92L489.65 574.26L488.47 574.92L488.74 573.60L487.75 572.68L489.09 572.52Z" fill="#222"/><path d="M493.95 571.30L494.51 572.52L495.85 572.68L494.86 573.60L495.13 574.92L493.95 574.26L492.77 574.92L493.04 573.60L492.05 572.68L493.39 572.52Z" fill="#222"/>
<text x="407.80" y="603.40" text-anchor="middle" style="font-family:'Liberation Sans', sans-serif;font-size:6.4px;font-weight:bold;" fill="#111" transform="rotate(-90 407.80 603.40)" textLength="42.3" lengthAdjust="spacingAndGlyphs">Speed ( rpm)</text>
<text x="390.89" y="558.90" text-anchor="start" style="font-family:'Liberation Sans', sans-serif;font-size:15.0px;font-weight:bold;" fill="#000">N</text>
<rect x="569.80" y="627.89" width="22.00" height="10.51" fill="#fff" stroke="#e9b83c" stroke-width="1.1"/>
<path d="M580.80 627.89V625.01M575.30 625.01H586.30" stroke="#e9b83c" stroke-width="0.8" fill="none" opacity="0.55"/>
<path d="M580.80 621.48L582.46 623.28L580.80 625.08L579.14 623.28Z" fill="#e9b83c"/>
<path d="M576.80 623.64L578.46 625.44L576.80 627.24L575.14 625.44Z" fill="#e9b83c"/>
<path d="M584.80 623.64L586.46 625.44L584.80 627.24L583.14 625.44Z" fill="#e9b83c"/>
<path d="M580.80 625.80L582.46 627.60L580.80 629.40L579.14 627.60Z" fill="#e9b83c"/>
<path d="M576.80 627.24L578.46 629.04L576.80 630.84L575.14 629.04Z" fill="#e9b83c"/>
<path d="M584.80 627.24L586.46 629.04L584.80 630.84L583.14 629.04Z" fill="#e9b83c"/>
<path d="M580.80 630.84L582.46 632.64L580.80 634.44L579.14 632.64Z" fill="#e9b83c"/>
<rect x="602.10" y="607.01" width="21.60" height="31.39" fill="#fff" stroke="#e8605c" stroke-width="1.1"/>
<path d="M612.90 607.01V602.69M607.40 602.69H618.40" stroke="#e8605c" stroke-width="0.8" fill="none" opacity="0.55"/>
<path d="M612.90 598.91L614.85 602.39L610.95 602.39Z" fill="#e8605c"/>
<path d="M608.90 600.35L610.85 603.83L606.95 603.83Z" fill="#e8605c"/>
<path d="M616.90 600.35L618.85 603.83L614.95 603.83Z" fill="#e8605c"/>
<path d="M609.90 603.95L611.85 607.43L607.95 607.43Z" fill="#e8605c"/>
<path d="M615.90 603.95L617.85 607.43L613.95 607.43Z" fill="#e8605c"/>
<path d="M612.90 606.11L614.85 609.59L610.95 609.59Z" fill="#e8605c"/>
<path d="M609.90 608.99L611.85 612.47L607.95 612.47Z" fill="#e8605c"/>
<path d="M612.90 612.59L614.85 616.07L610.95 616.07Z" fill="#e8605c"/>
<rect x="634.70" y="591.10" width="21.60" height="47.30" fill="#fff" stroke="#3a9e9c" stroke-width="1.1"/>
<path d="M645.50 591.10V583.90M640.00 583.90H651.00" stroke="#3a9e9c" stroke-width="0.8" fill="none" opacity="0.55"/>
<circle cx="645.50" cy="579.36" r="1.70" fill="#3a9e9c"/>
<circle cx="645.50" cy="585.12" r="1.70" fill="#3a9e9c"/>
<circle cx="645.50" cy="588.72" r="1.70" fill="#3a9e9c"/>
<circle cx="641.50" cy="590.16" r="1.70" fill="#3a9e9c"/>
<circle cx="649.50" cy="590.16" r="1.70" fill="#3a9e9c"/>
<circle cx="642.50" cy="596.64" r="1.70" fill="#3a9e9c"/>
<circle cx="648.50" cy="598.80" r="1.70" fill="#3a9e9c"/>
<circle cx="641.50" cy="599.52" r="1.70" fill="#3a9e9c"/>
<path d="M559.70 565.90V638.40H667.60" stroke="#2a2a2a" stroke-width="1.1" fill="none"/>
<path d="M556.40 638.40H559.70" stroke="#2a2a2a" stroke-width="1"/>
<text x="555.70" y="640.70" text-anchor="end" style="font-family:'Liberation Sans', sans-serif;font-size:5.6px;font-weight:bold;" fill="#151515">0</text>
<path d="M556.40 624.00H559.70" stroke="#2a2a2a" stroke-width="1"/>
<text x="555.70" y="626.30" text-anchor="end" style="font-family:'Liberation Sans', sans-serif;font-size:5.6px;font-weight:bold;" fill="#151515">2</text>
<path d="M556.40 609.60H559.70" stroke="#2a2a2a" stroke-width="1"/>
<text x="555.70" y="611.90" text-anchor="end" style="font-family:'Liberation Sans', sans-serif;font-size:5.6px;font-weight:bold;" fill="#151515">4</text>
<path d="M556.40 595.20H559.70" stroke="#2a2a2a" stroke-width="1"/>
<text x="555.70" y="597.50" text-anchor="end" style="font-family:'Liberation Sans', sans-serif;font-size:5.6px;font-weight:bold;" fill="#151515">6</text>
<path d="M556.40 580.80H559.70" stroke="#2a2a2a" stroke-width="1"/>
<text x="555.70" y="583.10" text-anchor="end" style="font-family:'Liberation Sans', sans-serif;font-size:5.6px;font-weight:bold;" fill="#151515">8</text>
<path d="M556.40 566.40H559.70" stroke="#2a2a2a" stroke-width="1"/>
<text x="555.70" y="568.70" text-anchor="end" style="font-family:'Liberation Sans', sans-serif;font-size:5.6px;font-weight:bold;" fill="#151515">10</text>
<path d="M580.80 638.40V641.60" stroke="#2a2a2a" stroke-width="1.15"/>
<text x="561.50" y="649.00" text-anchor="start" style="font-family:'Liberation Sans', sans-serif;font-size:5.3px;font-weight:bold;" fill="#151515">HU FMT NaCl</text>
<path d="M612.90 638.40V641.60" stroke="#2a2a2a" stroke-width="1.15"/>
<text x="599.10" y="649.00" text-anchor="start" style="font-family:'Liberation Sans', sans-serif;font-size:5.3px;font-weight:bold;" fill="#151515">HU FMT WT</text>
<path d="M645.50 638.40V641.60" stroke="#2a2a2a" stroke-width="1.15"/>
<text x="633.70" y="649.00" text-anchor="start" style="font-family:'Liberation Sans', sans-serif;font-size:5.3px;font-weight:bold;" fill="#151515">HU FMT LIPUS</text>
<path d="M577.70 564.90V560.40H645.50V564.90" stroke="#333" stroke-width="1.0" fill="none"/>
<path d="M609.45 554.60L610.01 555.82L611.35 555.98L610.36 556.90L610.63 558.22L609.45 557.56L608.27 558.22L608.54 556.90L607.55 555.98L608.89 555.82Z" fill="#222"/><path d="M613.75 554.60L614.31 555.82L615.65 555.98L614.66 556.90L614.93 558.22L613.75 557.56L612.57 558.22L612.84 556.90L611.85 555.98L613.19 555.82Z" fill="#222"/>
<path d="M577.70 574.20V570.70H611.55V574.20" stroke="#333" stroke-width="1.0" fill="none"/>
<path d="M592.48 564.90L593.04 566.12L594.38 566.28L593.39 567.20L593.65 568.52L592.48 567.86L591.30 568.52L591.56 567.20L590.57 566.28L591.91 566.12Z" fill="#222"/><path d="M596.77 564.90L597.34 566.12L598.68 566.28L597.69 567.20L597.95 568.52L596.77 567.86L595.60 568.52L595.86 567.20L594.87 566.28L596.21 566.12Z" fill="#222"/>
<path d="M614.25 574.20V570.70H645.50V574.20" stroke="#333" stroke-width="1.0" fill="none"/>
<path d="M627.73 564.90L628.29 566.12L629.63 566.28L628.64 567.20L628.90 568.52L627.73 567.86L626.55 568.52L626.81 567.20L625.82 566.28L627.16 566.12Z" fill="#222"/><path d="M632.02 564.90L632.59 566.12L633.93 566.28L632.94 567.20L633.20 568.52L632.02 567.86L630.85 568.52L631.11 567.20L630.12 566.28L631.46 566.12Z" fill="#222"/>
<text x="545.20" y="603.40" text-anchor="middle" style="font-family:'Liberation Sans', sans-serif;font-size:6.4px;font-weight:bold;" fill="#111" transform="rotate(-90 545.20 603.40)" textLength="82.7" lengthAdjust="spacingAndGlyphs">Total distance traveled ( m)</text>
<text x="526.88" y="558.90" text-anchor="start" style="font-family:'Liberation Sans', sans-serif;font-size:15.0px;font-weight:bold;" fill="#000">O</text>
</svg>
</body></html>
